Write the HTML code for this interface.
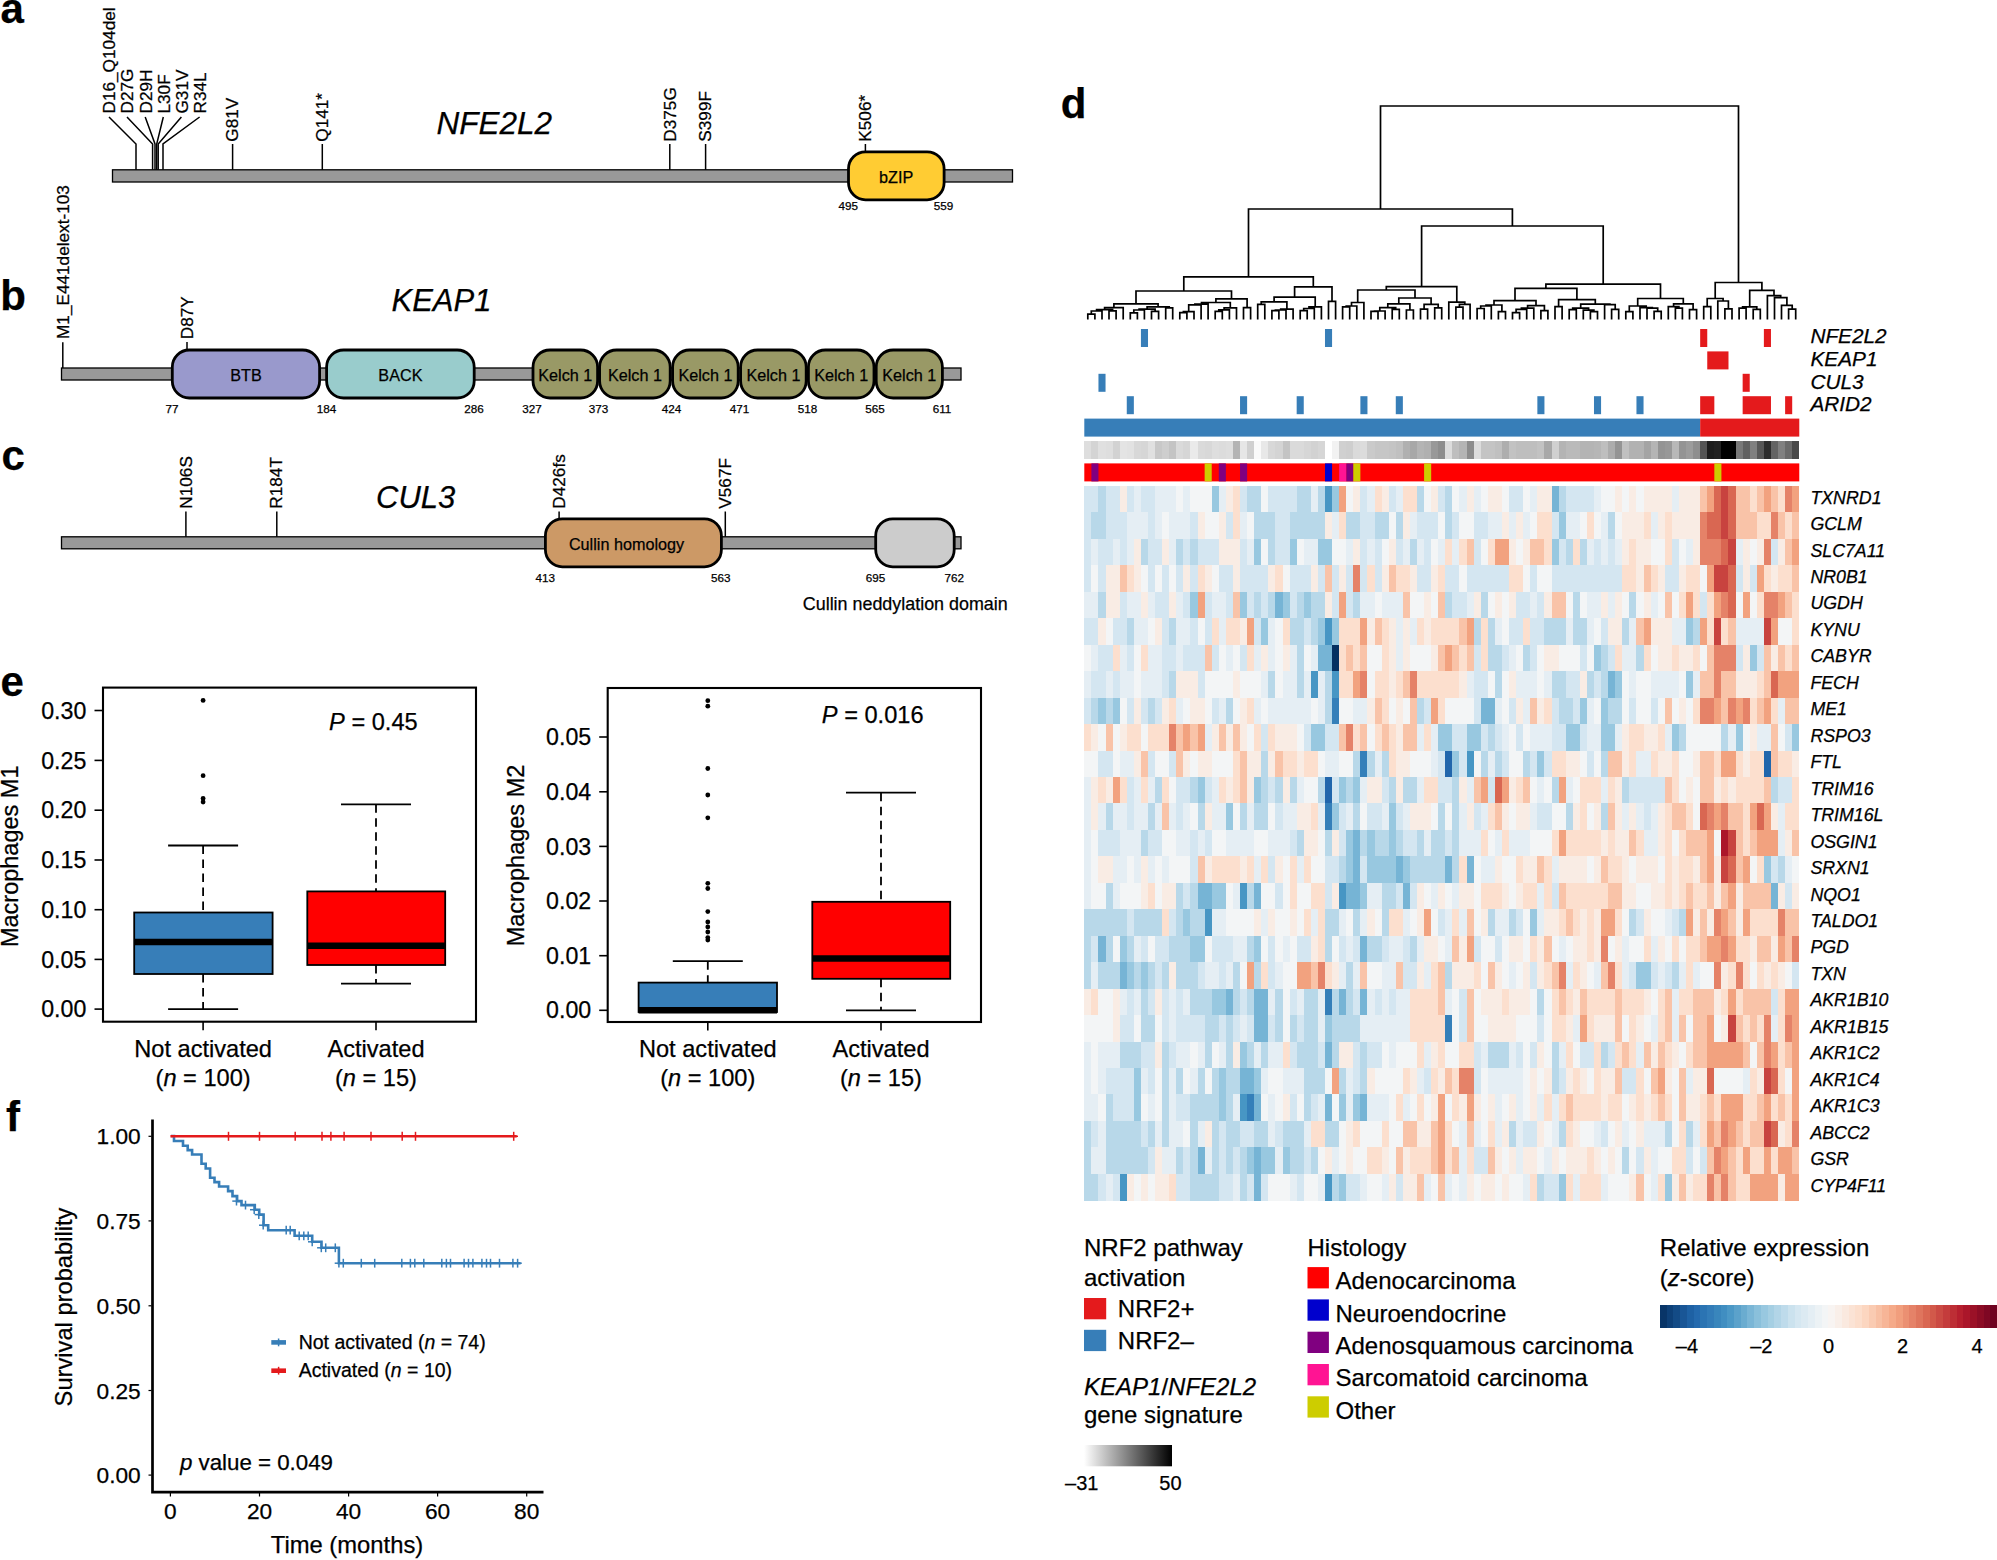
<!DOCTYPE html>
<html><head><meta charset="utf-8"><title>Figure</title>
<style>html,body{margin:0;padding:0;background:#fff}svg{display:block}text{font-family:"Liberation Sans",Arial,Helvetica,sans-serif;stroke:#000;stroke-width:.25px}</style>
</head><body>
<svg width="1997" height="1560" viewBox="0 0 1997 1560">
<rect width="1997" height="1560" fill="#fff"/>
<text x="0.5" y="22.8" font-size="42" font-weight="bold">a</text>
<text x="0.3" y="310.3" font-size="42" font-weight="bold">b</text>
<text x="1.5" y="470.4" font-size="42" font-weight="bold">c</text>
<rect x="112.50" y="169.80" width="900.00" height="12.20" fill="#999" stroke="#000" stroke-width="1.3" />
<polyline points="109.0,117 136.0,144 136.0,169.8" fill="none" stroke="#000" stroke-width="1.5"/>
<text transform="translate(115.3,113.5) rotate(-90)" font-size="17.2">D16_Q104del</text>
<polyline points="127.0,117 152.6,144 152.6,169.8" fill="none" stroke="#000" stroke-width="1.5"/>
<text transform="translate(133.3,113.5) rotate(-90)" font-size="17.2">D27G</text>
<polyline points="145.2,117 155.0,144 155.0,169.8" fill="none" stroke="#000" stroke-width="1.5"/>
<text transform="translate(151.5,113.5) rotate(-90)" font-size="17.2">D29H</text>
<polyline points="163.3,117 156.7,144 156.7,169.8" fill="none" stroke="#000" stroke-width="1.5"/>
<text transform="translate(169.6,113.5) rotate(-90)" font-size="17.2">L30F</text>
<polyline points="181.4,117 158.2,144 158.2,169.8" fill="none" stroke="#000" stroke-width="1.5"/>
<text transform="translate(187.7,113.5) rotate(-90)" font-size="17.2">G31V</text>
<polyline points="199.6,117 163.0,144 163.0,169.8" fill="none" stroke="#000" stroke-width="1.5"/>
<text transform="translate(205.9,113.5) rotate(-90)" font-size="17.2">R34L</text>
<line x1="232.6" y1="144.0" x2="232.6" y2="169.8" stroke="#000" stroke-width="1.5" />
<text transform="translate(238.4,141.7) rotate(-90)" font-size="17.2">G81V</text>
<line x1="322.3" y1="144.0" x2="322.3" y2="169.8" stroke="#000" stroke-width="1.5" />
<text transform="translate(328.1,141.7) rotate(-90)" font-size="17.2">Q141*</text>
<line x1="669.8" y1="144.0" x2="669.8" y2="169.8" stroke="#000" stroke-width="1.5" />
<text transform="translate(675.6,141.7) rotate(-90)" font-size="17.2">D375G</text>
<line x1="705.6" y1="144.0" x2="705.6" y2="169.8" stroke="#000" stroke-width="1.5" />
<text transform="translate(711.4,141.7) rotate(-90)" font-size="17.2">S399F</text>
<line x1="865.4" y1="144.0" x2="865.4" y2="152.0" stroke="#000" stroke-width="1.5" />
<text transform="translate(871.2,141.7) rotate(-90)" font-size="17.2">K506*</text>
<rect x="848.50" y="151.80" width="95.60" height="48.00" fill="#FFCC33" stroke="#000" stroke-width="2.8" rx="17" />
<text x="896.2" y="183.0" font-size="16.2" text-anchor="middle">bZIP</text>
<text x="848.3" y="210.3" font-size="11.7" text-anchor="middle">495</text>
<text x="943.5" y="210.3" font-size="11.7" text-anchor="middle">559</text>
<text x="436.4" y="134.0" font-size="31.5" font-style="italic">NFE2L2</text>
<rect x="61.50" y="368.00" width="899.50" height="12.00" fill="#999" stroke="#000" stroke-width="1.3" />
<line x1="62.8" y1="342.3" x2="62.8" y2="368.0" stroke="#000" stroke-width="1.5" />
<text transform="translate(68.7,339.0) rotate(-90)" font-size="17.2">M1_E441delext-103</text>
<line x1="187.0" y1="342.0" x2="187.0" y2="350.0" stroke="#000" stroke-width="1.5" />
<text transform="translate(192.6,339.2) rotate(-90)" font-size="17.2">D87Y</text>
<rect x="172.30" y="350.00" width="147.30" height="48.00" fill="#9999CC" stroke="#000" stroke-width="2.8" rx="17" />
<text x="246.0" y="381.2" font-size="16.2" text-anchor="middle">BTB</text>
<rect x="326.60" y="350.00" width="147.60" height="48.00" fill="#99CCCC" stroke="#000" stroke-width="2.8" rx="17" />
<text x="400.4" y="381.2" font-size="16.2" text-anchor="middle">BACK</text>
<rect x="533.00" y="350.00" width="64.60" height="48.00" fill="#999966" stroke="#000" stroke-width="2.8" rx="17" />
<text x="565.3" y="381.2" font-size="16.2" text-anchor="middle">Kelch 1</text>
<rect x="599.60" y="350.00" width="70.60" height="48.00" fill="#999966" stroke="#000" stroke-width="2.8" rx="17" />
<text x="634.9" y="381.2" font-size="16.2" text-anchor="middle">Kelch 1</text>
<rect x="672.60" y="350.00" width="65.60" height="48.00" fill="#999966" stroke="#000" stroke-width="2.8" rx="17" />
<text x="705.4" y="381.2" font-size="16.2" text-anchor="middle">Kelch 1</text>
<rect x="740.60" y="350.00" width="65.60" height="48.00" fill="#999966" stroke="#000" stroke-width="2.8" rx="17" />
<text x="773.4" y="381.2" font-size="16.2" text-anchor="middle">Kelch 1</text>
<rect x="808.40" y="350.00" width="65.60" height="48.00" fill="#999966" stroke="#000" stroke-width="2.8" rx="17" />
<text x="841.2" y="381.2" font-size="16.2" text-anchor="middle">Kelch 1</text>
<rect x="876.20" y="350.00" width="66.20" height="48.00" fill="#999966" stroke="#000" stroke-width="2.8" rx="17" />
<text x="909.3" y="381.2" font-size="16.2" text-anchor="middle">Kelch 1</text>
<text x="172.0" y="412.5" font-size="11.7" text-anchor="middle">77</text>
<text x="326.5" y="412.5" font-size="11.7" text-anchor="middle">184</text>
<text x="474.0" y="412.5" font-size="11.7" text-anchor="middle">286</text>
<text x="532.0" y="412.5" font-size="11.7" text-anchor="middle">327</text>
<text x="598.5" y="412.5" font-size="11.7" text-anchor="middle">373</text>
<text x="671.5" y="412.5" font-size="11.7" text-anchor="middle">424</text>
<text x="739.5" y="412.5" font-size="11.7" text-anchor="middle">471</text>
<text x="807.5" y="412.5" font-size="11.7" text-anchor="middle">518</text>
<text x="875.0" y="412.5" font-size="11.7" text-anchor="middle">565</text>
<text x="942.0" y="412.5" font-size="11.7" text-anchor="middle">611</text>
<text x="391.5" y="311.0" font-size="31" font-style="italic">KEAP1</text>
<rect x="61.50" y="536.80" width="899.50" height="12.00" fill="#999" stroke="#000" stroke-width="1.3" />
<line x1="185.9" y1="511.5" x2="185.9" y2="536.8" stroke="#000" stroke-width="1.5" />
<text transform="translate(191.5,508.7) rotate(-90)" font-size="17.2">N106S</text>
<line x1="276.8" y1="511.5" x2="276.8" y2="536.8" stroke="#000" stroke-width="1.5" />
<text transform="translate(282.4,508.7) rotate(-90)" font-size="17.2">R184T</text>
<line x1="559.1" y1="511.5" x2="559.1" y2="519.0" stroke="#000" stroke-width="1.5" />
<text transform="translate(565.0,508.7) rotate(-90)" font-size="17.2">D426fs</text>
<line x1="725.3" y1="511.5" x2="725.3" y2="536.8" stroke="#000" stroke-width="1.5" />
<text transform="translate(730.7,508.7) rotate(-90)" font-size="17.2">V567F</text>
<rect x="545.40" y="518.80" width="176.00" height="48.00" fill="#CC9966" stroke="#000" stroke-width="2.8" rx="17" />
<text x="626.5" y="550.2" font-size="16.2" text-anchor="middle">Cullin homology</text>
<rect x="875.70" y="518.80" width="78.50" height="48.00" fill="#CCCCCC" stroke="#000" stroke-width="2.8" rx="17" />
<text x="545.2" y="581.7" font-size="11.7" text-anchor="middle">413</text>
<text x="720.8" y="581.7" font-size="11.7" text-anchor="middle">563</text>
<text x="875.4" y="581.7" font-size="11.7" text-anchor="middle">695</text>
<text x="954.3" y="581.7" font-size="11.7" text-anchor="middle">762</text>
<text x="802.8" y="610.0" font-size="17.9">Cullin neddylation domain</text>
<text x="376.0" y="508.0" font-size="31" font-style="italic">CUL3</text>
<text x="0.5" y="696.0" font-size="42" font-weight="bold">e</text>
<rect x="103.00" y="687.60" width="373.00" height="334.10" fill="none" stroke="#000" stroke-width="2.1" />
<line x1="94.5" y1="710.5" x2="103.0" y2="710.5" stroke="#000" stroke-width="1.6" />
<text x="86.3" y="718.6" font-size="23.2" text-anchor="end">0.30</text>
<line x1="94.5" y1="760.4" x2="103.0" y2="760.4" stroke="#000" stroke-width="1.6" />
<text x="86.3" y="768.5" font-size="23.2" text-anchor="end">0.25</text>
<line x1="94.5" y1="810.2" x2="103.0" y2="810.2" stroke="#000" stroke-width="1.6" />
<text x="86.3" y="818.3" font-size="23.2" text-anchor="end">0.20</text>
<line x1="94.5" y1="860.0" x2="103.0" y2="860.0" stroke="#000" stroke-width="1.6" />
<text x="86.3" y="868.1" font-size="23.2" text-anchor="end">0.15</text>
<line x1="94.5" y1="909.7" x2="103.0" y2="909.7" stroke="#000" stroke-width="1.6" />
<text x="86.3" y="917.8" font-size="23.2" text-anchor="end">0.10</text>
<line x1="94.5" y1="959.4" x2="103.0" y2="959.4" stroke="#000" stroke-width="1.6" />
<text x="86.3" y="967.5" font-size="23.2" text-anchor="end">0.05</text>
<line x1="94.5" y1="1009.1" x2="103.0" y2="1009.1" stroke="#000" stroke-width="1.6" />
<text x="86.3" y="1017.2" font-size="23.2" text-anchor="end">0.00</text>
<text transform="translate(17.9,856.3) rotate(-90)" font-size="23.5" text-anchor="middle">Macrophages M1</text>
<line x1="203.1" y1="1021.7" x2="203.1" y2="1030.2" stroke="#000" stroke-width="1.6" />
<line x1="376.0" y1="1021.7" x2="376.0" y2="1030.2" stroke="#000" stroke-width="1.6" />
<text x="203.1" y="1056.7" font-size="23.6" text-anchor="middle">Not activated</text>
<text x="203.1" y="1085.6" font-size="23.6" text-anchor="middle">(<tspan font-style="italic">n</tspan> = 100)</text>
<text x="376.0" y="1056.7" font-size="23.6" text-anchor="middle">Activated</text>
<text x="376.0" y="1085.6" font-size="23.6" text-anchor="middle">(<tspan font-style="italic">n</tspan> = 15)</text>
<line x1="203.1" y1="845.5" x2="203.1" y2="912.5" stroke="#000" stroke-width="1.8" stroke-dasharray="8.5,5.5"/>
<line x1="203.1" y1="974.0" x2="203.1" y2="1009.1" stroke="#000" stroke-width="1.8" stroke-dasharray="8.5,5.5"/>
<line x1="168.1" y1="845.5" x2="238.1" y2="845.5" stroke="#000" stroke-width="1.8" />
<line x1="168.1" y1="1009.1" x2="238.1" y2="1009.1" stroke="#000" stroke-width="1.8" />
<rect x="134.20" y="912.50" width="138.40" height="61.50" fill="#377EB8" stroke="#000" stroke-width="1.8" />
<line x1="134.2" y1="941.9" x2="272.6" y2="941.9" stroke="#000" stroke-width="6.5" />
<line x1="376.0" y1="804.3" x2="376.0" y2="891.4" stroke="#000" stroke-width="1.8" stroke-dasharray="8.5,5.5"/>
<line x1="376.0" y1="965.0" x2="376.0" y2="983.7" stroke="#000" stroke-width="1.8" stroke-dasharray="8.5,5.5"/>
<line x1="341.0" y1="804.3" x2="411.0" y2="804.3" stroke="#000" stroke-width="1.8" />
<line x1="341.0" y1="983.7" x2="411.0" y2="983.7" stroke="#000" stroke-width="1.8" />
<rect x="307.30" y="891.40" width="137.90" height="73.60" fill="#FF0000" stroke="#000" stroke-width="1.8" />
<line x1="307.3" y1="945.8" x2="445.2" y2="945.8" stroke="#000" stroke-width="6.5" />
<circle cx="203.1" cy="700.4" r="2.4" fill="#000"/>
<circle cx="203.1" cy="775.7" r="2.4" fill="#000"/>
<circle cx="203.1" cy="798.5" r="2.4" fill="#000"/>
<circle cx="203.1" cy="802.0" r="2.4" fill="#000"/>
<text x="373.4" y="729.5" font-size="23.6" text-anchor="middle"><tspan font-style="italic">P</tspan> = 0.45</text>
<rect x="607.70" y="688.00" width="373.30" height="334.00" fill="none" stroke="#000" stroke-width="2.1" />
<line x1="599.2" y1="737.0" x2="607.7" y2="737.0" stroke="#000" stroke-width="1.6" />
<text x="591.2" y="745.1" font-size="23.2" text-anchor="end">0.05</text>
<line x1="599.2" y1="791.8" x2="607.7" y2="791.8" stroke="#000" stroke-width="1.6" />
<text x="591.2" y="799.9" font-size="23.2" text-anchor="end">0.04</text>
<line x1="599.2" y1="846.4" x2="607.7" y2="846.4" stroke="#000" stroke-width="1.6" />
<text x="591.2" y="854.5" font-size="23.2" text-anchor="end">0.03</text>
<line x1="599.2" y1="901.0" x2="607.7" y2="901.0" stroke="#000" stroke-width="1.6" />
<text x="591.2" y="909.1" font-size="23.2" text-anchor="end">0.02</text>
<line x1="599.2" y1="955.7" x2="607.7" y2="955.7" stroke="#000" stroke-width="1.6" />
<text x="591.2" y="963.8" font-size="23.2" text-anchor="end">0.01</text>
<line x1="599.2" y1="1010.3" x2="607.7" y2="1010.3" stroke="#000" stroke-width="1.6" />
<text x="591.2" y="1018.4" font-size="23.2" text-anchor="end">0.00</text>
<text transform="translate(524.0,855.5) rotate(-90)" font-size="23.5" text-anchor="middle">Macrophages M2</text>
<line x1="707.8" y1="1022.0" x2="707.8" y2="1030.5" stroke="#000" stroke-width="1.6" />
<line x1="881.0" y1="1022.0" x2="881.0" y2="1030.5" stroke="#000" stroke-width="1.6" />
<text x="707.8" y="1056.7" font-size="23.6" text-anchor="middle">Not activated</text>
<text x="707.8" y="1085.6" font-size="23.6" text-anchor="middle">(<tspan font-style="italic">n</tspan> = 100)</text>
<text x="881.0" y="1056.7" font-size="23.6" text-anchor="middle">Activated</text>
<text x="881.0" y="1085.6" font-size="23.6" text-anchor="middle">(<tspan font-style="italic">n</tspan> = 15)</text>
<line x1="707.8" y1="961.2" x2="707.8" y2="982.6" stroke="#000" stroke-width="1.8" stroke-dasharray="8.5,5.5"/>
<line x1="707.8" y1="1012.0" x2="707.8" y2="1010.3" stroke="#000" stroke-width="1.8" stroke-dasharray="8.5,5.5"/>
<line x1="672.8" y1="961.2" x2="742.8" y2="961.2" stroke="#000" stroke-width="1.8" />
<line x1="672.8" y1="1010.3" x2="742.8" y2="1010.3" stroke="#000" stroke-width="1.8" />
<rect x="638.60" y="982.60" width="138.40" height="29.40" fill="#377EB8" stroke="#000" stroke-width="1.8" />
<line x1="638.6" y1="1010.2" x2="777.0" y2="1010.2" stroke="#000" stroke-width="6.5" />
<line x1="881.0" y1="792.7" x2="881.0" y2="901.8" stroke="#000" stroke-width="1.8" stroke-dasharray="8.5,5.5"/>
<line x1="881.0" y1="978.8" x2="881.0" y2="1010.3" stroke="#000" stroke-width="1.8" stroke-dasharray="8.5,5.5"/>
<line x1="846.0" y1="792.7" x2="916.0" y2="792.7" stroke="#000" stroke-width="1.8" />
<line x1="846.0" y1="1010.3" x2="916.0" y2="1010.3" stroke="#000" stroke-width="1.8" />
<rect x="812.30" y="901.80" width="137.90" height="77.00" fill="#FF0000" stroke="#000" stroke-width="1.8" />
<line x1="812.3" y1="958.6" x2="950.2" y2="958.6" stroke="#000" stroke-width="6.5" />
<circle cx="707.8" cy="700.7" r="2.4" fill="#000"/>
<circle cx="707.8" cy="706.2" r="2.4" fill="#000"/>
<circle cx="707.8" cy="768.5" r="2.4" fill="#000"/>
<circle cx="707.8" cy="795.0" r="2.4" fill="#000"/>
<circle cx="707.8" cy="817.8" r="2.4" fill="#000"/>
<circle cx="707.8" cy="883.3" r="2.4" fill="#000"/>
<circle cx="707.8" cy="888.5" r="2.4" fill="#000"/>
<circle cx="707.8" cy="911.6" r="2.4" fill="#000"/>
<circle cx="707.8" cy="922.0" r="2.4" fill="#000"/>
<circle cx="707.8" cy="926.9" r="2.4" fill="#000"/>
<circle cx="707.8" cy="932.0" r="2.4" fill="#000"/>
<circle cx="707.8" cy="937.6" r="2.4" fill="#000"/>
<circle cx="707.8" cy="940.1" r="2.4" fill="#000"/>
<text x="872.7" y="722.9" font-size="23.6" text-anchor="middle"><tspan font-style="italic">P</tspan> = 0.016</text>
<text x="6.0" y="1131.0" font-size="42" font-weight="bold">f</text>
<polyline points="152.5,1119.5 152.5,1492.2 543.5,1492.2" fill="none" stroke="#000" stroke-width="2.7"/>
<line x1="148.5" y1="1136.3" x2="151.5" y2="1136.3" stroke="#000" stroke-width="1.2" />
<text x="140.7" y="1144.3" font-size="22.7" text-anchor="end">1.00</text>
<line x1="148.5" y1="1220.9" x2="151.5" y2="1220.9" stroke="#000" stroke-width="1.2" />
<text x="140.7" y="1228.9" font-size="22.7" text-anchor="end">0.75</text>
<line x1="148.5" y1="1305.8" x2="151.5" y2="1305.8" stroke="#000" stroke-width="1.2" />
<text x="140.7" y="1313.8" font-size="22.7" text-anchor="end">0.50</text>
<line x1="148.5" y1="1390.5" x2="151.5" y2="1390.5" stroke="#000" stroke-width="1.2" />
<text x="140.7" y="1398.5" font-size="22.7" text-anchor="end">0.25</text>
<line x1="148.5" y1="1475.1" x2="151.5" y2="1475.1" stroke="#000" stroke-width="1.2" />
<text x="140.7" y="1483.1" font-size="22.7" text-anchor="end">0.00</text>
<line x1="170.4" y1="1493.0" x2="170.4" y2="1496.5" stroke="#000" stroke-width="1.2" />
<text x="170.4" y="1519.3" font-size="22.7" text-anchor="middle">0</text>
<line x1="259.5" y1="1493.0" x2="259.5" y2="1496.5" stroke="#000" stroke-width="1.2" />
<text x="259.5" y="1519.3" font-size="22.7" text-anchor="middle">20</text>
<line x1="348.6" y1="1493.0" x2="348.6" y2="1496.5" stroke="#000" stroke-width="1.2" />
<text x="348.6" y="1519.3" font-size="22.7" text-anchor="middle">40</text>
<line x1="437.6" y1="1493.0" x2="437.6" y2="1496.5" stroke="#000" stroke-width="1.2" />
<text x="437.6" y="1519.3" font-size="22.7" text-anchor="middle">60</text>
<line x1="526.7" y1="1493.0" x2="526.7" y2="1496.5" stroke="#000" stroke-width="1.2" />
<text x="526.7" y="1519.3" font-size="22.7" text-anchor="middle">80</text>
<text x="347.0" y="1552.7" font-size="23.8" text-anchor="middle">Time (months)</text>
<text transform="translate(72.2,1307.0) rotate(-90)" font-size="23.7" text-anchor="middle">Survival probability</text>
<polyline points="171.0,1136.0 174.0,1136.0 174.0,1141.0 183.0,1141.0 183.0,1145.7 187.7,1145.7 187.7,1150.1 192.1,1150.1 192.1,1154.5 201.5,1154.5 201.5,1163.7 205.7,1163.7 205.7,1168.5 210.1,1168.5 210.1,1177.7 214.5,1177.7 214.5,1182.1 219.1,1182.1 219.1,1186.5 228.1,1186.5 228.1,1191.1 232.5,1191.1 232.5,1196.1 237.1,1196.1 237.1,1201.1 241.5,1201.1 241.5,1205.1 254.8,1205.1 254.8,1209.7 259.2,1209.7 259.2,1214.6 263.6,1214.6 263.6,1225.2 268.2,1225.2 268.2,1230.2 294.6,1230.2 294.6,1235.8 312.2,1235.8 312.2,1241.8 321.5,1241.8 321.5,1247.8 338.9,1247.8 338.9,1263.2 520.6,1263.2" fill="none" stroke="#377EB8" stroke-width="2.6"/>
<line x1="232.3" y1="1201.1" x2="240.7" y2="1201.1" stroke="#377EB8" stroke-width="1.5" />
<line x1="236.5" y1="1196.7" x2="236.5" y2="1205.5" stroke="#377EB8" stroke-width="1.5" />
<line x1="241.3" y1="1205.1" x2="249.7" y2="1205.1" stroke="#377EB8" stroke-width="1.5" />
<line x1="245.5" y1="1200.7" x2="245.5" y2="1209.5" stroke="#377EB8" stroke-width="1.5" />
<line x1="250.0" y1="1209.7" x2="258.4" y2="1209.7" stroke="#377EB8" stroke-width="1.5" />
<line x1="254.2" y1="1205.3" x2="254.2" y2="1214.1" stroke="#377EB8" stroke-width="1.5" />
<line x1="254.6" y1="1214.6" x2="263.0" y2="1214.6" stroke="#377EB8" stroke-width="1.5" />
<line x1="258.8" y1="1210.2" x2="258.8" y2="1219.0" stroke="#377EB8" stroke-width="1.5" />
<line x1="259.0" y1="1225.2" x2="267.4" y2="1225.2" stroke="#377EB8" stroke-width="1.5" />
<line x1="263.2" y1="1220.8" x2="263.2" y2="1229.6" stroke="#377EB8" stroke-width="1.5" />
<line x1="282.0" y1="1230.2" x2="290.4" y2="1230.2" stroke="#377EB8" stroke-width="1.5" />
<line x1="286.2" y1="1225.8" x2="286.2" y2="1234.6" stroke="#377EB8" stroke-width="1.5" />
<line x1="286.0" y1="1230.2" x2="294.4" y2="1230.2" stroke="#377EB8" stroke-width="1.5" />
<line x1="290.2" y1="1225.8" x2="290.2" y2="1234.6" stroke="#377EB8" stroke-width="1.5" />
<line x1="295.0" y1="1235.8" x2="303.4" y2="1235.8" stroke="#377EB8" stroke-width="1.5" />
<line x1="299.2" y1="1231.4" x2="299.2" y2="1240.2" stroke="#377EB8" stroke-width="1.5" />
<line x1="299.6" y1="1235.8" x2="308.0" y2="1235.8" stroke="#377EB8" stroke-width="1.5" />
<line x1="303.8" y1="1231.4" x2="303.8" y2="1240.2" stroke="#377EB8" stroke-width="1.5" />
<line x1="304.0" y1="1235.8" x2="312.4" y2="1235.8" stroke="#377EB8" stroke-width="1.5" />
<line x1="308.2" y1="1231.4" x2="308.2" y2="1240.2" stroke="#377EB8" stroke-width="1.5" />
<line x1="308.0" y1="1241.8" x2="316.4" y2="1241.8" stroke="#377EB8" stroke-width="1.5" />
<line x1="312.2" y1="1237.4" x2="312.2" y2="1246.2" stroke="#377EB8" stroke-width="1.5" />
<line x1="317.1" y1="1247.8" x2="325.5" y2="1247.8" stroke="#377EB8" stroke-width="1.5" />
<line x1="321.3" y1="1243.4" x2="321.3" y2="1252.2" stroke="#377EB8" stroke-width="1.5" />
<line x1="321.5" y1="1247.8" x2="329.9" y2="1247.8" stroke="#377EB8" stroke-width="1.5" />
<line x1="325.7" y1="1243.4" x2="325.7" y2="1252.2" stroke="#377EB8" stroke-width="1.5" />
<line x1="331.1" y1="1247.8" x2="339.5" y2="1247.8" stroke="#377EB8" stroke-width="1.5" />
<line x1="335.3" y1="1243.4" x2="335.3" y2="1252.2" stroke="#377EB8" stroke-width="1.5" />
<line x1="334.7" y1="1263.2" x2="343.1" y2="1263.2" stroke="#377EB8" stroke-width="1.5" />
<line x1="338.9" y1="1258.8" x2="338.9" y2="1267.6" stroke="#377EB8" stroke-width="1.5" />
<line x1="339.1" y1="1263.2" x2="347.5" y2="1263.2" stroke="#377EB8" stroke-width="1.5" />
<line x1="343.3" y1="1258.8" x2="343.3" y2="1267.6" stroke="#377EB8" stroke-width="1.5" />
<line x1="357.1" y1="1263.2" x2="365.5" y2="1263.2" stroke="#377EB8" stroke-width="1.5" />
<line x1="361.3" y1="1258.8" x2="361.3" y2="1267.6" stroke="#377EB8" stroke-width="1.5" />
<line x1="370.5" y1="1263.2" x2="378.9" y2="1263.2" stroke="#377EB8" stroke-width="1.5" />
<line x1="374.7" y1="1258.8" x2="374.7" y2="1267.6" stroke="#377EB8" stroke-width="1.5" />
<line x1="397.6" y1="1263.2" x2="406.0" y2="1263.2" stroke="#377EB8" stroke-width="1.5" />
<line x1="401.8" y1="1258.8" x2="401.8" y2="1267.6" stroke="#377EB8" stroke-width="1.5" />
<line x1="406.2" y1="1263.2" x2="414.6" y2="1263.2" stroke="#377EB8" stroke-width="1.5" />
<line x1="410.4" y1="1258.8" x2="410.4" y2="1267.6" stroke="#377EB8" stroke-width="1.5" />
<line x1="410.6" y1="1263.2" x2="419.0" y2="1263.2" stroke="#377EB8" stroke-width="1.5" />
<line x1="414.8" y1="1258.8" x2="414.8" y2="1267.6" stroke="#377EB8" stroke-width="1.5" />
<line x1="419.6" y1="1263.2" x2="428.0" y2="1263.2" stroke="#377EB8" stroke-width="1.5" />
<line x1="423.8" y1="1258.8" x2="423.8" y2="1267.6" stroke="#377EB8" stroke-width="1.5" />
<line x1="437.6" y1="1263.2" x2="446.0" y2="1263.2" stroke="#377EB8" stroke-width="1.5" />
<line x1="441.8" y1="1258.8" x2="441.8" y2="1267.6" stroke="#377EB8" stroke-width="1.5" />
<line x1="442.2" y1="1263.2" x2="450.6" y2="1263.2" stroke="#377EB8" stroke-width="1.5" />
<line x1="446.4" y1="1258.8" x2="446.4" y2="1267.6" stroke="#377EB8" stroke-width="1.5" />
<line x1="446.3" y1="1263.2" x2="454.7" y2="1263.2" stroke="#377EB8" stroke-width="1.5" />
<line x1="450.5" y1="1258.8" x2="450.5" y2="1267.6" stroke="#377EB8" stroke-width="1.5" />
<line x1="459.9" y1="1263.2" x2="468.3" y2="1263.2" stroke="#377EB8" stroke-width="1.5" />
<line x1="464.1" y1="1258.8" x2="464.1" y2="1267.6" stroke="#377EB8" stroke-width="1.5" />
<line x1="464.3" y1="1263.2" x2="472.7" y2="1263.2" stroke="#377EB8" stroke-width="1.5" />
<line x1="468.5" y1="1258.8" x2="468.5" y2="1267.6" stroke="#377EB8" stroke-width="1.5" />
<line x1="468.7" y1="1263.2" x2="477.1" y2="1263.2" stroke="#377EB8" stroke-width="1.5" />
<line x1="472.9" y1="1258.8" x2="472.9" y2="1267.6" stroke="#377EB8" stroke-width="1.5" />
<line x1="477.7" y1="1263.2" x2="486.1" y2="1263.2" stroke="#377EB8" stroke-width="1.5" />
<line x1="481.9" y1="1258.8" x2="481.9" y2="1267.6" stroke="#377EB8" stroke-width="1.5" />
<line x1="482.3" y1="1263.2" x2="490.7" y2="1263.2" stroke="#377EB8" stroke-width="1.5" />
<line x1="486.5" y1="1258.8" x2="486.5" y2="1267.6" stroke="#377EB8" stroke-width="1.5" />
<line x1="486.3" y1="1263.2" x2="494.7" y2="1263.2" stroke="#377EB8" stroke-width="1.5" />
<line x1="490.5" y1="1258.8" x2="490.5" y2="1267.6" stroke="#377EB8" stroke-width="1.5" />
<line x1="495.3" y1="1263.2" x2="503.7" y2="1263.2" stroke="#377EB8" stroke-width="1.5" />
<line x1="499.5" y1="1258.8" x2="499.5" y2="1267.6" stroke="#377EB8" stroke-width="1.5" />
<line x1="508.7" y1="1263.2" x2="517.1" y2="1263.2" stroke="#377EB8" stroke-width="1.5" />
<line x1="512.9" y1="1258.8" x2="512.9" y2="1267.6" stroke="#377EB8" stroke-width="1.5" />
<line x1="513.4" y1="1263.2" x2="521.8" y2="1263.2" stroke="#377EB8" stroke-width="1.5" />
<line x1="517.6" y1="1258.8" x2="517.6" y2="1267.6" stroke="#377EB8" stroke-width="1.5" />
<line x1="170.4" y1="1136.3" x2="516.7" y2="1136.3" stroke="#E41A1C" stroke-width="2.6" />
<line x1="228.5" y1="1131.8" x2="228.5" y2="1140.8" stroke="#E41A1C" stroke-width="1.5" />
<line x1="259.5" y1="1131.8" x2="259.5" y2="1140.8" stroke="#E41A1C" stroke-width="1.5" />
<line x1="295.2" y1="1131.8" x2="295.2" y2="1140.8" stroke="#E41A1C" stroke-width="1.5" />
<line x1="322.0" y1="1131.8" x2="322.0" y2="1140.8" stroke="#E41A1C" stroke-width="1.5" />
<line x1="330.9" y1="1131.8" x2="330.9" y2="1140.8" stroke="#E41A1C" stroke-width="1.5" />
<line x1="344.1" y1="1131.8" x2="344.1" y2="1140.8" stroke="#E41A1C" stroke-width="1.5" />
<line x1="371.0" y1="1131.8" x2="371.0" y2="1140.8" stroke="#E41A1C" stroke-width="1.5" />
<line x1="402.2" y1="1131.8" x2="402.2" y2="1140.8" stroke="#E41A1C" stroke-width="1.5" />
<line x1="415.5" y1="1131.8" x2="415.5" y2="1140.8" stroke="#E41A1C" stroke-width="1.5" />
<line x1="513.7" y1="1131.8" x2="513.7" y2="1140.8" stroke="#E41A1C" stroke-width="1.5" />
<line x1="510.0" y1="1136.3" x2="518.0" y2="1136.3" stroke="#E41A1C" stroke-width="1.5" />
<line x1="271.3" y1="1342.4" x2="286.0" y2="1342.4" stroke="#377EB8" stroke-width="4.6" />
<line x1="278.6" y1="1338.5" x2="278.6" y2="1346.3" stroke="#377EB8" stroke-width="1.5" />
<text x="298.7" y="1348.8" font-size="19.5">Not activated (<tspan font-style="italic">n</tspan> = 74)</text>
<line x1="271.3" y1="1370.7" x2="286.0" y2="1370.7" stroke="#E41A1C" stroke-width="4.6" />
<line x1="278.6" y1="1366.8" x2="278.6" y2="1374.6" stroke="#E41A1C" stroke-width="1.5" />
<text x="298.7" y="1377.3" font-size="19.5">Activated (<tspan font-style="italic">n</tspan> = 10)</text>
<text x="179.9" y="1470.1" font-size="22.3"><tspan font-style="italic">p</tspan> value = 0.049</text>
<text x="1060.8" y="118.1" font-size="42" font-weight="bold">d</text>
<path d="M1087.8,319.6V314.1H1094.9V319.6M1091.3,314.1V311.0H1102.0V319.6M1109.0,319.6V310.8H1116.1V319.6M1096.6,311.0V309.7H1112.6V310.8M1104.6,309.7V307.6H1123.2V319.6M1130.3,319.6V312.9H1137.4V319.6M1133.8,312.9V310.0H1144.4V319.6M1151.5,319.6V311.3H1158.6V319.6M1139.1,310.0V309.1H1155.1V311.3M1165.7,319.6V307.9H1172.7V319.6M1147.1,309.1V306.9H1169.2V307.9M1113.9,307.6V303.8H1158.1V306.9M1179.8,319.6V312.6H1186.9V319.6M1183.4,312.6V311.6H1194.0V319.6M1188.7,311.6V304.9H1201.1V319.6M1194.9,304.9V304.1H1208.1V319.6M1215.2,319.6V311.3H1222.3V319.6M1218.8,311.3V309.8H1229.4V319.6M1224.1,309.8V307.9H1236.5V319.6M1201.5,304.1V302.5H1230.3V307.9M1243.5,319.6V307.6H1250.6V319.6M1215.9,302.5V298.8H1247.1V307.6M1136.0,303.8V291.0H1231.5V298.8M1257.7,319.6V304.4H1264.8V319.6M1271.9,319.6V310.7H1278.9V319.6M1275.4,310.7V310.0H1286.0V319.6M1280.7,310.0V309.1H1293.1V319.6M1261.2,304.4V301.9H1286.9V309.1M1300.2,319.6V310.7H1307.2V319.6M1303.7,310.7V308.5H1314.3V319.6M1309.0,308.5V306.9H1321.4V319.6M1274.1,301.9V297.2H1315.2V306.9M1328.5,319.6V301.3H1335.6V319.6M1294.6,297.2V286.9H1332.0V301.3M1183.8,291.0V276.9H1313.3V286.9M1342.6,319.6V306.9H1349.7V319.6M1346.2,306.9V306.0H1356.8V319.6M1351.5,306.0V302.5H1363.9V319.6M1371.0,319.6V311.3H1378.0V319.6M1374.5,311.3V311.0H1385.1V319.6M1392.2,319.6V309.4H1399.3V319.6M1379.8,311.0V307.6H1395.7V309.4M1406.4,319.6V310.0H1413.4V319.6M1387.8,307.6V303.8H1409.9V310.0M1420.5,319.6V309.1H1427.6V319.6M1434.7,319.6V307.9H1441.7V319.6M1424.1,309.1V304.4H1438.2V307.9M1398.8,303.8V298.0H1431.1V304.4M1357.7,302.5V290.0H1415.0V298.0M1455.9,319.6V307.2H1463.0V319.6M1459.4,307.2V304.4H1470.1V319.6M1448.8,319.6V302.2H1464.8V304.4M1386.3,290.0V286.6H1456.8V302.2M1477.1,319.6V308.5H1484.2V319.6M1480.7,308.5V306.0H1491.3V319.6M1498.4,319.6V311.6H1505.5V319.6M1486.0,306.0V305.0H1501.9V311.6M1512.5,319.6V312.6H1519.6V319.6M1516.1,312.6V309.4H1526.7V319.6M1521.4,309.4V308.2H1533.8V319.6M1540.9,319.6V310.7H1547.9V319.6M1527.6,308.2V305.7H1544.4V310.7M1494.0,305.0V300.7H1536.0V305.7M1555.0,319.6V306.6H1562.1V319.6M1569.2,319.6V309.6H1576.3V319.6M1590.4,319.6V311.6H1597.5V319.6M1583.3,319.6V310.1H1593.9V311.6M1572.7,309.6V308.2H1588.6V310.1M1611.6,319.6V309.4H1618.7V319.6M1604.6,319.6V304.7H1615.2V309.4M1580.7,308.2V304.1H1609.9V304.7M1558.6,306.6V299.7H1595.3V304.1M1515.0,300.7V288.3H1576.9V299.7M1625.8,319.6V311.6H1632.9V319.6M1654.1,319.6V311.3H1661.2V319.6M1647.0,319.6V308.2H1657.7V311.3M1640.0,319.6V307.6H1652.3V308.2M1629.3,311.6V306.0H1646.2V307.6M1675.4,319.6V308.2H1682.4V319.6M1668.3,319.6V306.6H1678.9V308.2M1689.5,319.6V309.7H1696.6V319.6M1673.6,306.6V303.8H1693.1V309.7M1637.7,306.0V298.5H1683.3V303.8M1545.9,288.3V284.2H1660.5V298.5M1421.6,286.6V226.0H1603.2V284.2M1248.5,276.9V209.0H1512.4V226.0M1703.7,319.6V306.6H1710.8V319.6M1724.9,319.6V308.8H1732.0V319.6M1717.8,319.6V301.0H1728.4V308.8M1707.2,306.6V298.5H1723.1V301.0M1739.1,319.6V308.2H1746.1V319.6M1753.2,319.6V309.4H1760.3V319.6M1742.6,308.2V306.9H1756.8V309.4M1788.6,319.6V309.1H1795.7V319.6M1781.5,319.6V305.4H1792.2V309.1M1774.5,319.6V297.7H1786.9V305.4M1767.4,319.6V295.7H1780.7V297.7M1749.7,306.9V290.3H1774.0V295.7M1715.2,298.5V282.5H1761.9V290.3M1380.5,209.0V106.0H1738.5V282.5" fill="none" stroke="#000" stroke-width="1.7" stroke-linejoin="miter"/>
<rect x="1140.93" y="329.00" width="7.08" height="18.00" fill="#377EB8" />
<rect x="1324.99" y="329.00" width="7.08" height="18.00" fill="#377EB8" />
<rect x="1700.17" y="329.00" width="7.08" height="18.00" fill="#E41A1C" />
<rect x="1763.88" y="329.00" width="7.08" height="18.00" fill="#E41A1C" />
<rect x="1707.25" y="351.40" width="21.24" height="18.00" fill="#E41A1C" />
<rect x="1098.46" y="373.80" width="7.08" height="18.00" fill="#377EB8" />
<rect x="1742.65" y="373.80" width="7.08" height="18.00" fill="#E41A1C" />
<rect x="1126.77" y="396.20" width="7.08" height="18.00" fill="#377EB8" />
<rect x="1240.04" y="396.20" width="7.08" height="18.00" fill="#377EB8" />
<rect x="1296.67" y="396.20" width="7.08" height="18.00" fill="#377EB8" />
<rect x="1360.38" y="396.20" width="7.08" height="18.00" fill="#377EB8" />
<rect x="1395.78" y="396.20" width="7.08" height="18.00" fill="#377EB8" />
<rect x="1537.36" y="396.20" width="7.08" height="18.00" fill="#377EB8" />
<rect x="1593.99" y="396.20" width="7.08" height="18.00" fill="#377EB8" />
<rect x="1636.46" y="396.20" width="7.08" height="18.00" fill="#377EB8" />
<rect x="1700.17" y="396.20" width="14.16" height="18.00" fill="#E41A1C" />
<rect x="1742.65" y="396.20" width="28.32" height="18.00" fill="#E41A1C" />
<rect x="1785.12" y="396.20" width="7.08" height="18.00" fill="#E41A1C" />
<rect x="1084.30" y="418.60" width="615.87" height="18.00" fill="#377EB8" />
<rect x="1700.17" y="418.60" width="99.11" height="18.00" fill="#E41A1C" />
<rect x="1084.30" y="441.00" width="7.38" height="18.00" fill="#DEDEDE" shape-rendering="crispEdges"/>
<rect x="1091.38" y="441.00" width="7.38" height="18.00" fill="#D4D4D4" shape-rendering="crispEdges"/>
<rect x="1098.46" y="441.00" width="7.38" height="18.00" fill="#E0E0E0" shape-rendering="crispEdges"/>
<rect x="1105.54" y="441.00" width="7.38" height="18.00" fill="#DEDEDE" shape-rendering="crispEdges"/>
<rect x="1112.62" y="441.00" width="7.38" height="18.00" fill="#D2D2D2" shape-rendering="crispEdges"/>
<rect x="1119.69" y="441.00" width="7.38" height="18.00" fill="#E4E4E4" shape-rendering="crispEdges"/>
<rect x="1126.77" y="441.00" width="7.38" height="18.00" fill="#E2E2E2" shape-rendering="crispEdges"/>
<rect x="1133.85" y="441.00" width="7.38" height="18.00" fill="#D8D8D8" shape-rendering="crispEdges"/>
<rect x="1140.93" y="441.00" width="7.38" height="18.00" fill="#D6D6D6" shape-rendering="crispEdges"/>
<rect x="1148.01" y="441.00" width="7.38" height="18.00" fill="#E0E0E0" shape-rendering="crispEdges"/>
<rect x="1155.09" y="441.00" width="7.38" height="18.00" fill="#C8C8C8" shape-rendering="crispEdges"/>
<rect x="1162.17" y="441.00" width="7.38" height="18.00" fill="#CECECE" shape-rendering="crispEdges"/>
<rect x="1169.25" y="441.00" width="7.38" height="18.00" fill="#C4C4C4" shape-rendering="crispEdges"/>
<rect x="1176.33" y="441.00" width="7.38" height="18.00" fill="#DADADA" shape-rendering="crispEdges"/>
<rect x="1183.41" y="441.00" width="7.38" height="18.00" fill="#D6D6D6" shape-rendering="crispEdges"/>
<rect x="1190.48" y="441.00" width="7.38" height="18.00" fill="#EAEAEA" shape-rendering="crispEdges"/>
<rect x="1197.56" y="441.00" width="7.38" height="18.00" fill="#DADADA" shape-rendering="crispEdges"/>
<rect x="1204.64" y="441.00" width="7.38" height="18.00" fill="#D8D8D8" shape-rendering="crispEdges"/>
<rect x="1211.72" y="441.00" width="7.38" height="18.00" fill="#DEDEDE" shape-rendering="crispEdges"/>
<rect x="1218.80" y="441.00" width="7.38" height="18.00" fill="#DCDCDC" shape-rendering="crispEdges"/>
<rect x="1225.88" y="441.00" width="7.38" height="18.00" fill="#DEDEDE" shape-rendering="crispEdges"/>
<rect x="1232.96" y="441.00" width="7.38" height="18.00" fill="#B4B4B4" shape-rendering="crispEdges"/>
<rect x="1240.04" y="441.00" width="7.38" height="18.00" fill="#E6E6E6" shape-rendering="crispEdges"/>
<rect x="1247.12" y="441.00" width="7.38" height="18.00" fill="#D0D0D0" shape-rendering="crispEdges"/>
<rect x="1254.20" y="441.00" width="7.38" height="18.00" fill="#FAFAFA" shape-rendering="crispEdges"/>
<rect x="1261.27" y="441.00" width="7.38" height="18.00" fill="#E8E8E8" shape-rendering="crispEdges"/>
<rect x="1268.35" y="441.00" width="7.38" height="18.00" fill="#D8D8D8" shape-rendering="crispEdges"/>
<rect x="1275.43" y="441.00" width="7.38" height="18.00" fill="#D4D4D4" shape-rendering="crispEdges"/>
<rect x="1282.51" y="441.00" width="7.38" height="18.00" fill="#C4C4C4" shape-rendering="crispEdges"/>
<rect x="1289.59" y="441.00" width="7.38" height="18.00" fill="#DADADA" shape-rendering="crispEdges"/>
<rect x="1296.67" y="441.00" width="7.38" height="18.00" fill="#DADADA" shape-rendering="crispEdges"/>
<rect x="1303.75" y="441.00" width="7.38" height="18.00" fill="#D6D6D6" shape-rendering="crispEdges"/>
<rect x="1310.83" y="441.00" width="7.38" height="18.00" fill="#D2D2D2" shape-rendering="crispEdges"/>
<rect x="1317.91" y="441.00" width="7.38" height="18.00" fill="#D6D6D6" shape-rendering="crispEdges"/>
<rect x="1324.99" y="441.00" width="7.38" height="18.00" fill="#FFFFFF" shape-rendering="crispEdges"/>
<rect x="1332.07" y="441.00" width="7.38" height="18.00" fill="#F2F2F2" shape-rendering="crispEdges"/>
<rect x="1339.14" y="441.00" width="7.38" height="18.00" fill="#D0D0D0" shape-rendering="crispEdges"/>
<rect x="1346.22" y="441.00" width="7.38" height="18.00" fill="#CECECE" shape-rendering="crispEdges"/>
<rect x="1353.30" y="441.00" width="7.38" height="18.00" fill="#DADADA" shape-rendering="crispEdges"/>
<rect x="1360.38" y="441.00" width="7.38" height="18.00" fill="#DCDCDC" shape-rendering="crispEdges"/>
<rect x="1367.46" y="441.00" width="7.38" height="18.00" fill="#CACACA" shape-rendering="crispEdges"/>
<rect x="1374.54" y="441.00" width="7.38" height="18.00" fill="#C6C6C6" shape-rendering="crispEdges"/>
<rect x="1381.62" y="441.00" width="7.38" height="18.00" fill="#C6C6C6" shape-rendering="crispEdges"/>
<rect x="1388.70" y="441.00" width="7.38" height="18.00" fill="#C4C4C4" shape-rendering="crispEdges"/>
<rect x="1395.78" y="441.00" width="7.38" height="18.00" fill="#C0C0C0" shape-rendering="crispEdges"/>
<rect x="1402.86" y="441.00" width="7.38" height="18.00" fill="#B0B0B0" shape-rendering="crispEdges"/>
<rect x="1409.93" y="441.00" width="7.38" height="18.00" fill="#A8A8A8" shape-rendering="crispEdges"/>
<rect x="1417.01" y="441.00" width="7.38" height="18.00" fill="#B4B4B4" shape-rendering="crispEdges"/>
<rect x="1424.09" y="441.00" width="7.38" height="18.00" fill="#B0B0B0" shape-rendering="crispEdges"/>
<rect x="1431.17" y="441.00" width="7.38" height="18.00" fill="#989898" shape-rendering="crispEdges"/>
<rect x="1438.25" y="441.00" width="7.38" height="18.00" fill="#8D8D8D" shape-rendering="crispEdges"/>
<rect x="1445.33" y="441.00" width="7.38" height="18.00" fill="#DCDCDC" shape-rendering="crispEdges"/>
<rect x="1452.41" y="441.00" width="7.38" height="18.00" fill="#BEBEBE" shape-rendering="crispEdges"/>
<rect x="1459.49" y="441.00" width="7.38" height="18.00" fill="#B4B4B4" shape-rendering="crispEdges"/>
<rect x="1466.57" y="441.00" width="7.38" height="18.00" fill="#8C8C8C" shape-rendering="crispEdges"/>
<rect x="1473.64" y="441.00" width="7.38" height="18.00" fill="#DCDCDC" shape-rendering="crispEdges"/>
<rect x="1480.72" y="441.00" width="7.38" height="18.00" fill="#C4C4C4" shape-rendering="crispEdges"/>
<rect x="1487.80" y="441.00" width="7.38" height="18.00" fill="#C4C4C4" shape-rendering="crispEdges"/>
<rect x="1494.88" y="441.00" width="7.38" height="18.00" fill="#C0C0C0" shape-rendering="crispEdges"/>
<rect x="1501.96" y="441.00" width="7.38" height="18.00" fill="#AEAEAE" shape-rendering="crispEdges"/>
<rect x="1509.04" y="441.00" width="7.38" height="18.00" fill="#C2C2C2" shape-rendering="crispEdges"/>
<rect x="1516.12" y="441.00" width="7.38" height="18.00" fill="#BEBEBE" shape-rendering="crispEdges"/>
<rect x="1523.20" y="441.00" width="7.38" height="18.00" fill="#BEBEBE" shape-rendering="crispEdges"/>
<rect x="1530.28" y="441.00" width="7.38" height="18.00" fill="#BEBEBE" shape-rendering="crispEdges"/>
<rect x="1537.36" y="441.00" width="7.38" height="18.00" fill="#C2C2C2" shape-rendering="crispEdges"/>
<rect x="1544.43" y="441.00" width="7.38" height="18.00" fill="#A8A8A8" shape-rendering="crispEdges"/>
<rect x="1551.51" y="441.00" width="7.38" height="18.00" fill="#D0D0D0" shape-rendering="crispEdges"/>
<rect x="1558.59" y="441.00" width="7.38" height="18.00" fill="#B4B4B4" shape-rendering="crispEdges"/>
<rect x="1565.67" y="441.00" width="7.38" height="18.00" fill="#BABABA" shape-rendering="crispEdges"/>
<rect x="1572.75" y="441.00" width="7.38" height="18.00" fill="#BABABA" shape-rendering="crispEdges"/>
<rect x="1579.83" y="441.00" width="7.38" height="18.00" fill="#B4B4B4" shape-rendering="crispEdges"/>
<rect x="1586.91" y="441.00" width="7.38" height="18.00" fill="#B4B4B4" shape-rendering="crispEdges"/>
<rect x="1593.99" y="441.00" width="7.38" height="18.00" fill="#B6B6B6" shape-rendering="crispEdges"/>
<rect x="1601.07" y="441.00" width="7.38" height="18.00" fill="#BEBEBE" shape-rendering="crispEdges"/>
<rect x="1608.15" y="441.00" width="7.38" height="18.00" fill="#ACACAC" shape-rendering="crispEdges"/>
<rect x="1615.22" y="441.00" width="7.38" height="18.00" fill="#949494" shape-rendering="crispEdges"/>
<rect x="1622.30" y="441.00" width="7.38" height="18.00" fill="#C0C0C0" shape-rendering="crispEdges"/>
<rect x="1629.38" y="441.00" width="7.38" height="18.00" fill="#B2B2B2" shape-rendering="crispEdges"/>
<rect x="1636.46" y="441.00" width="7.38" height="18.00" fill="#B2B2B2" shape-rendering="crispEdges"/>
<rect x="1643.54" y="441.00" width="7.38" height="18.00" fill="#A4A4A4" shape-rendering="crispEdges"/>
<rect x="1650.62" y="441.00" width="7.38" height="18.00" fill="#B4B4B4" shape-rendering="crispEdges"/>
<rect x="1657.70" y="441.00" width="7.38" height="18.00" fill="#949494" shape-rendering="crispEdges"/>
<rect x="1664.78" y="441.00" width="7.38" height="18.00" fill="#989898" shape-rendering="crispEdges"/>
<rect x="1671.86" y="441.00" width="7.38" height="18.00" fill="#B8B8B8" shape-rendering="crispEdges"/>
<rect x="1678.94" y="441.00" width="7.38" height="18.00" fill="#949494" shape-rendering="crispEdges"/>
<rect x="1686.01" y="441.00" width="7.38" height="18.00" fill="#9C9C9C" shape-rendering="crispEdges"/>
<rect x="1693.09" y="441.00" width="7.38" height="18.00" fill="#8E8E8E" shape-rendering="crispEdges"/>
<rect x="1700.17" y="441.00" width="7.38" height="18.00" fill="#545454" shape-rendering="crispEdges"/>
<rect x="1707.25" y="441.00" width="7.38" height="18.00" fill="#1C1C1C" shape-rendering="crispEdges"/>
<rect x="1714.33" y="441.00" width="7.38" height="18.00" fill="#202020" shape-rendering="crispEdges"/>
<rect x="1721.41" y="441.00" width="7.38" height="18.00" fill="#000000" shape-rendering="crispEdges"/>
<rect x="1728.49" y="441.00" width="7.38" height="18.00" fill="#000000" shape-rendering="crispEdges"/>
<rect x="1735.57" y="441.00" width="7.38" height="18.00" fill="#787878" shape-rendering="crispEdges"/>
<rect x="1742.65" y="441.00" width="7.38" height="18.00" fill="#606060" shape-rendering="crispEdges"/>
<rect x="1749.73" y="441.00" width="7.38" height="18.00" fill="#808080" shape-rendering="crispEdges"/>
<rect x="1756.80" y="441.00" width="7.38" height="18.00" fill="#585858" shape-rendering="crispEdges"/>
<rect x="1763.88" y="441.00" width="7.38" height="18.00" fill="#2E2E2E" shape-rendering="crispEdges"/>
<rect x="1770.96" y="441.00" width="7.38" height="18.00" fill="#646464" shape-rendering="crispEdges"/>
<rect x="1778.04" y="441.00" width="7.38" height="18.00" fill="#808080" shape-rendering="crispEdges"/>
<rect x="1785.12" y="441.00" width="7.38" height="18.00" fill="#6A6A6A" shape-rendering="crispEdges"/>
<rect x="1792.20" y="441.00" width="7.08" height="18.00" fill="#484848" shape-rendering="crispEdges"/>
<rect x="1084.30" y="463.40" width="714.98" height="18.00" fill="#FF0000" />
<rect x="1091.38" y="463.40" width="7.08" height="18.00" fill="#800080" />
<rect x="1218.80" y="463.40" width="7.08" height="18.00" fill="#800080" />
<rect x="1240.04" y="463.40" width="7.08" height="18.00" fill="#800080" />
<rect x="1346.22" y="463.40" width="7.08" height="18.00" fill="#800080" />
<rect x="1204.64" y="463.40" width="7.08" height="18.00" fill="#CDCD00" />
<rect x="1353.30" y="463.40" width="7.08" height="18.00" fill="#CDCD00" />
<rect x="1424.09" y="463.40" width="7.08" height="18.00" fill="#CDCD00" />
<rect x="1714.33" y="463.40" width="7.08" height="18.00" fill="#CDCD00" />
<rect x="1324.99" y="463.40" width="7.08" height="18.00" fill="#0000CD" />
<rect x="1339.14" y="463.40" width="7.08" height="18.00" fill="#FF1493" />
<text x="1810.4" y="343.3" font-size="20.8" font-style="italic">NFE2L2</text>
<text x="1810.4" y="365.9" font-size="20.8" font-style="italic">KEAP1</text>
<text x="1810.4" y="388.5" font-size="20.8" font-style="italic">CUL3</text>
<text x="1810.4" y="411.0" font-size="20.8" font-style="italic">ARID2</text>
<g shape-rendering="crispEdges">
<rect x="1084.30" y="485.90" width="14.46" height="26.76" fill="#D4E6F1"/>
<rect x="1098.46" y="485.90" width="7.38" height="26.76" fill="#B8D8E9"/>
<rect x="1105.54" y="485.90" width="14.46" height="26.76" fill="#D4E6F1"/>
<rect x="1119.69" y="485.90" width="7.38" height="26.76" fill="#F9ECE4"/>
<rect x="1126.77" y="485.90" width="7.38" height="26.76" fill="#D4E6F1"/>
<rect x="1133.85" y="485.90" width="7.38" height="26.76" fill="#E5EEF4"/>
<rect x="1140.93" y="485.90" width="14.46" height="26.76" fill="#D4E6F1"/>
<rect x="1155.09" y="485.90" width="21.54" height="26.76" fill="#E5EEF4"/>
<rect x="1176.33" y="485.90" width="7.38" height="26.76" fill="#F3F5F6"/>
<rect x="1183.41" y="485.90" width="7.38" height="26.76" fill="#E5EEF4"/>
<rect x="1190.48" y="485.90" width="21.54" height="26.76" fill="#F3F5F6"/>
<rect x="1211.72" y="485.90" width="7.38" height="26.76" fill="#98C8E0"/>
<rect x="1218.80" y="485.90" width="7.38" height="26.76" fill="#E5EEF4"/>
<rect x="1225.88" y="485.90" width="7.38" height="26.76" fill="#F9ECE4"/>
<rect x="1232.96" y="485.90" width="7.38" height="26.76" fill="#FCDFCE"/>
<rect x="1240.04" y="485.90" width="7.38" height="26.76" fill="#D4E6F1"/>
<rect x="1247.12" y="485.90" width="14.46" height="26.76" fill="#B8D8E9"/>
<rect x="1261.27" y="485.90" width="7.38" height="26.76" fill="#F3F5F6"/>
<rect x="1268.35" y="485.90" width="28.62" height="26.76" fill="#D4E6F1"/>
<rect x="1296.67" y="485.90" width="14.46" height="26.76" fill="#B8D8E9"/>
<rect x="1310.83" y="485.90" width="7.38" height="26.76" fill="#E5EEF4"/>
<rect x="1317.91" y="485.90" width="7.38" height="26.76" fill="#B8D8E9"/>
<rect x="1324.99" y="485.90" width="7.38" height="26.76" fill="#4796C4"/>
<rect x="1332.07" y="485.90" width="7.38" height="26.76" fill="#98C8E0"/>
<rect x="1339.14" y="485.90" width="7.38" height="26.76" fill="#F2A27F"/>
<rect x="1346.22" y="485.90" width="7.38" height="26.76" fill="#F3F5F6"/>
<rect x="1353.30" y="485.90" width="7.38" height="26.76" fill="#F9ECE4"/>
<rect x="1360.38" y="485.90" width="7.38" height="26.76" fill="#D4E6F1"/>
<rect x="1367.46" y="485.90" width="7.38" height="26.76" fill="#E5EEF4"/>
<rect x="1374.54" y="485.90" width="7.38" height="26.76" fill="#FCDFCE"/>
<rect x="1381.62" y="485.90" width="7.38" height="26.76" fill="#F9ECE4"/>
<rect x="1388.70" y="485.90" width="7.38" height="26.76" fill="#D4E6F1"/>
<rect x="1395.78" y="485.90" width="7.38" height="26.76" fill="#E5EEF4"/>
<rect x="1402.86" y="485.90" width="14.46" height="26.76" fill="#FCDFCE"/>
<rect x="1417.01" y="485.90" width="7.38" height="26.76" fill="#B8D8E9"/>
<rect x="1424.09" y="485.90" width="7.38" height="26.76" fill="#F3F5F6"/>
<rect x="1431.17" y="485.90" width="7.38" height="26.76" fill="#F9ECE4"/>
<rect x="1438.25" y="485.90" width="7.38" height="26.76" fill="#D4E6F1"/>
<rect x="1445.33" y="485.90" width="7.38" height="26.76" fill="#B8D8E9"/>
<rect x="1452.41" y="485.90" width="7.38" height="26.76" fill="#F3F5F6"/>
<rect x="1459.49" y="485.90" width="7.38" height="26.76" fill="#E5EEF4"/>
<rect x="1466.57" y="485.90" width="7.38" height="26.76" fill="#F9ECE4"/>
<rect x="1473.64" y="485.90" width="7.38" height="26.76" fill="#E5EEF4"/>
<rect x="1480.72" y="485.90" width="7.38" height="26.76" fill="#F3F5F6"/>
<rect x="1487.80" y="485.90" width="14.46" height="26.76" fill="#F9ECE4"/>
<rect x="1501.96" y="485.90" width="7.38" height="26.76" fill="#F3F5F6"/>
<rect x="1509.04" y="485.90" width="14.46" height="26.76" fill="#D4E6F1"/>
<rect x="1523.20" y="485.90" width="7.38" height="26.76" fill="#F3F5F6"/>
<rect x="1530.28" y="485.90" width="7.38" height="26.76" fill="#E5EEF4"/>
<rect x="1537.36" y="485.90" width="14.46" height="26.76" fill="#F9ECE4"/>
<rect x="1551.51" y="485.90" width="7.38" height="26.76" fill="#76B4D5"/>
<rect x="1558.59" y="485.90" width="7.38" height="26.76" fill="#B8D8E9"/>
<rect x="1565.67" y="485.90" width="28.62" height="26.76" fill="#D4E6F1"/>
<rect x="1593.99" y="485.90" width="7.38" height="26.76" fill="#E5EEF4"/>
<rect x="1601.07" y="485.90" width="14.46" height="26.76" fill="#F3F5F6"/>
<rect x="1615.22" y="485.90" width="7.38" height="26.76" fill="#F9ECE4"/>
<rect x="1622.30" y="485.90" width="7.38" height="26.76" fill="#F3F5F6"/>
<rect x="1629.38" y="485.90" width="7.38" height="26.76" fill="#F9ECE4"/>
<rect x="1636.46" y="485.90" width="7.38" height="26.76" fill="#F3F5F6"/>
<rect x="1643.54" y="485.90" width="28.62" height="26.76" fill="#F9ECE4"/>
<rect x="1671.86" y="485.90" width="7.38" height="26.76" fill="#E5EEF4"/>
<rect x="1678.94" y="485.90" width="21.54" height="26.76" fill="#F9ECE4"/>
<rect x="1700.17" y="485.90" width="7.38" height="26.76" fill="#F9C3A8"/>
<rect x="1707.25" y="485.90" width="7.38" height="26.76" fill="#F2A27F"/>
<rect x="1714.33" y="485.90" width="7.38" height="26.76" fill="#D96752"/>
<rect x="1721.41" y="485.90" width="7.38" height="26.76" fill="#C8433F"/>
<rect x="1728.49" y="485.90" width="7.38" height="26.76" fill="#D96752"/>
<rect x="1735.57" y="485.90" width="14.46" height="26.76" fill="#F9C3A8"/>
<rect x="1749.73" y="485.90" width="7.38" height="26.76" fill="#FCDFCE"/>
<rect x="1756.80" y="485.90" width="7.38" height="26.76" fill="#F9C3A8"/>
<rect x="1763.88" y="485.90" width="7.38" height="26.76" fill="#F2A27F"/>
<rect x="1770.96" y="485.90" width="7.38" height="26.76" fill="#F9C3A8"/>
<rect x="1778.04" y="485.90" width="7.38" height="26.76" fill="#FCDFCE"/>
<rect x="1785.12" y="485.90" width="7.38" height="26.76" fill="#E58268"/>
<rect x="1792.20" y="485.90" width="7.08" height="26.76" fill="#F2A27F"/>
<rect x="1084.30" y="512.36" width="7.38" height="26.76" fill="#D4E6F1"/>
<rect x="1091.38" y="512.36" width="14.46" height="26.76" fill="#B8D8E9"/>
<rect x="1105.54" y="512.36" width="21.54" height="26.76" fill="#D4E6F1"/>
<rect x="1126.77" y="512.36" width="21.54" height="26.76" fill="#E5EEF4"/>
<rect x="1148.01" y="512.36" width="7.38" height="26.76" fill="#D4E6F1"/>
<rect x="1155.09" y="512.36" width="7.38" height="26.76" fill="#E5EEF4"/>
<rect x="1162.17" y="512.36" width="7.38" height="26.76" fill="#F3F5F6"/>
<rect x="1169.25" y="512.36" width="21.54" height="26.76" fill="#E5EEF4"/>
<rect x="1190.48" y="512.36" width="7.38" height="26.76" fill="#D4E6F1"/>
<rect x="1197.56" y="512.36" width="7.38" height="26.76" fill="#F9ECE4"/>
<rect x="1204.64" y="512.36" width="14.46" height="26.76" fill="#F3F5F6"/>
<rect x="1218.80" y="512.36" width="7.38" height="26.76" fill="#F9ECE4"/>
<rect x="1225.88" y="512.36" width="7.38" height="26.76" fill="#D4E6F1"/>
<rect x="1232.96" y="512.36" width="7.38" height="26.76" fill="#FCDFCE"/>
<rect x="1240.04" y="512.36" width="7.38" height="26.76" fill="#E5EEF4"/>
<rect x="1247.12" y="512.36" width="7.38" height="26.76" fill="#F3F5F6"/>
<rect x="1254.20" y="512.36" width="21.54" height="26.76" fill="#B8D8E9"/>
<rect x="1275.43" y="512.36" width="14.46" height="26.76" fill="#D4E6F1"/>
<rect x="1289.59" y="512.36" width="35.69" height="26.76" fill="#B8D8E9"/>
<rect x="1324.99" y="512.36" width="7.38" height="26.76" fill="#F9ECE4"/>
<rect x="1332.07" y="512.36" width="7.38" height="26.76" fill="#E5EEF4"/>
<rect x="1339.14" y="512.36" width="7.38" height="26.76" fill="#FCDFCE"/>
<rect x="1346.22" y="512.36" width="14.46" height="26.76" fill="#B8D8E9"/>
<rect x="1360.38" y="512.36" width="14.46" height="26.76" fill="#D4E6F1"/>
<rect x="1374.54" y="512.36" width="14.46" height="26.76" fill="#B8D8E9"/>
<rect x="1388.70" y="512.36" width="7.38" height="26.76" fill="#F3F5F6"/>
<rect x="1395.78" y="512.36" width="7.38" height="26.76" fill="#B8D8E9"/>
<rect x="1402.86" y="512.36" width="7.38" height="26.76" fill="#F9ECE4"/>
<rect x="1409.93" y="512.36" width="7.38" height="26.76" fill="#E5EEF4"/>
<rect x="1417.01" y="512.36" width="21.54" height="26.76" fill="#D4E6F1"/>
<rect x="1438.25" y="512.36" width="7.38" height="26.76" fill="#F3F5F6"/>
<rect x="1445.33" y="512.36" width="7.38" height="26.76" fill="#B8D8E9"/>
<rect x="1452.41" y="512.36" width="7.38" height="26.76" fill="#D4E6F1"/>
<rect x="1459.49" y="512.36" width="14.46" height="26.76" fill="#F3F5F6"/>
<rect x="1473.64" y="512.36" width="14.46" height="26.76" fill="#D4E6F1"/>
<rect x="1487.80" y="512.36" width="14.46" height="26.76" fill="#E5EEF4"/>
<rect x="1501.96" y="512.36" width="7.38" height="26.76" fill="#F9ECE4"/>
<rect x="1509.04" y="512.36" width="7.38" height="26.76" fill="#E5EEF4"/>
<rect x="1516.12" y="512.36" width="7.38" height="26.76" fill="#F9ECE4"/>
<rect x="1523.20" y="512.36" width="7.38" height="26.76" fill="#E5EEF4"/>
<rect x="1530.28" y="512.36" width="7.38" height="26.76" fill="#F3F5F6"/>
<rect x="1537.36" y="512.36" width="14.46" height="26.76" fill="#FCDFCE"/>
<rect x="1551.51" y="512.36" width="7.38" height="26.76" fill="#D4E6F1"/>
<rect x="1558.59" y="512.36" width="7.38" height="26.76" fill="#98C8E0"/>
<rect x="1565.67" y="512.36" width="14.46" height="26.76" fill="#E5EEF4"/>
<rect x="1579.83" y="512.36" width="7.38" height="26.76" fill="#F3F5F6"/>
<rect x="1586.91" y="512.36" width="7.38" height="26.76" fill="#FCDFCE"/>
<rect x="1593.99" y="512.36" width="7.38" height="26.76" fill="#F3F5F6"/>
<rect x="1601.07" y="512.36" width="7.38" height="26.76" fill="#E5EEF4"/>
<rect x="1608.15" y="512.36" width="7.38" height="26.76" fill="#B8D8E9"/>
<rect x="1615.22" y="512.36" width="7.38" height="26.76" fill="#F3F5F6"/>
<rect x="1622.30" y="512.36" width="21.54" height="26.76" fill="#F9ECE4"/>
<rect x="1643.54" y="512.36" width="7.38" height="26.76" fill="#FCDFCE"/>
<rect x="1650.62" y="512.36" width="7.38" height="26.76" fill="#E5EEF4"/>
<rect x="1657.70" y="512.36" width="7.38" height="26.76" fill="#F9ECE4"/>
<rect x="1664.78" y="512.36" width="7.38" height="26.76" fill="#FCDFCE"/>
<rect x="1671.86" y="512.36" width="28.62" height="26.76" fill="#F9ECE4"/>
<rect x="1700.17" y="512.36" width="7.38" height="26.76" fill="#E58268"/>
<rect x="1707.25" y="512.36" width="14.46" height="26.76" fill="#D96752"/>
<rect x="1721.41" y="512.36" width="7.38" height="26.76" fill="#C8433F"/>
<rect x="1728.49" y="512.36" width="7.38" height="26.76" fill="#D96752"/>
<rect x="1735.57" y="512.36" width="21.54" height="26.76" fill="#F9C3A8"/>
<rect x="1756.80" y="512.36" width="14.46" height="26.76" fill="#FCDFCE"/>
<rect x="1770.96" y="512.36" width="7.38" height="26.76" fill="#E58268"/>
<rect x="1778.04" y="512.36" width="7.38" height="26.76" fill="#F9C3A8"/>
<rect x="1785.12" y="512.36" width="7.38" height="26.76" fill="#FCDFCE"/>
<rect x="1792.20" y="512.36" width="7.08" height="26.76" fill="#F9C3A8"/>
<rect x="1084.30" y="538.82" width="7.38" height="26.76" fill="#D4E6F1"/>
<rect x="1091.38" y="538.82" width="7.38" height="26.76" fill="#E5EEF4"/>
<rect x="1098.46" y="538.82" width="14.46" height="26.76" fill="#D4E6F1"/>
<rect x="1112.62" y="538.82" width="7.38" height="26.76" fill="#E5EEF4"/>
<rect x="1119.69" y="538.82" width="7.38" height="26.76" fill="#D4E6F1"/>
<rect x="1126.77" y="538.82" width="7.38" height="26.76" fill="#E5EEF4"/>
<rect x="1133.85" y="538.82" width="7.38" height="26.76" fill="#F9ECE4"/>
<rect x="1140.93" y="538.82" width="7.38" height="26.76" fill="#B8D8E9"/>
<rect x="1148.01" y="538.82" width="14.46" height="26.76" fill="#D4E6F1"/>
<rect x="1162.17" y="538.82" width="7.38" height="26.76" fill="#F9ECE4"/>
<rect x="1169.25" y="538.82" width="7.38" height="26.76" fill="#E5EEF4"/>
<rect x="1176.33" y="538.82" width="7.38" height="26.76" fill="#B8D8E9"/>
<rect x="1183.41" y="538.82" width="7.38" height="26.76" fill="#D4E6F1"/>
<rect x="1190.48" y="538.82" width="7.38" height="26.76" fill="#B8D8E9"/>
<rect x="1197.56" y="538.82" width="21.54" height="26.76" fill="#D4E6F1"/>
<rect x="1218.80" y="538.82" width="21.54" height="26.76" fill="#F9ECE4"/>
<rect x="1240.04" y="538.82" width="7.38" height="26.76" fill="#D4E6F1"/>
<rect x="1247.12" y="538.82" width="7.38" height="26.76" fill="#E5EEF4"/>
<rect x="1254.20" y="538.82" width="7.38" height="26.76" fill="#98C8E0"/>
<rect x="1261.27" y="538.82" width="7.38" height="26.76" fill="#F3F5F6"/>
<rect x="1268.35" y="538.82" width="7.38" height="26.76" fill="#B8D8E9"/>
<rect x="1275.43" y="538.82" width="14.46" height="26.76" fill="#D4E6F1"/>
<rect x="1289.59" y="538.82" width="7.38" height="26.76" fill="#98C8E0"/>
<rect x="1296.67" y="538.82" width="7.38" height="26.76" fill="#F3F5F6"/>
<rect x="1303.75" y="538.82" width="14.46" height="26.76" fill="#E5EEF4"/>
<rect x="1317.91" y="538.82" width="14.46" height="26.76" fill="#98C8E0"/>
<rect x="1332.07" y="538.82" width="14.46" height="26.76" fill="#F3F5F6"/>
<rect x="1346.22" y="538.82" width="7.38" height="26.76" fill="#E5EEF4"/>
<rect x="1353.30" y="538.82" width="7.38" height="26.76" fill="#F9ECE4"/>
<rect x="1360.38" y="538.82" width="7.38" height="26.76" fill="#D4E6F1"/>
<rect x="1367.46" y="538.82" width="7.38" height="26.76" fill="#E5EEF4"/>
<rect x="1374.54" y="538.82" width="7.38" height="26.76" fill="#D4E6F1"/>
<rect x="1381.62" y="538.82" width="7.38" height="26.76" fill="#F3F5F6"/>
<rect x="1388.70" y="538.82" width="7.38" height="26.76" fill="#F9ECE4"/>
<rect x="1395.78" y="538.82" width="7.38" height="26.76" fill="#D4E6F1"/>
<rect x="1402.86" y="538.82" width="7.38" height="26.76" fill="#E5EEF4"/>
<rect x="1409.93" y="538.82" width="7.38" height="26.76" fill="#B8D8E9"/>
<rect x="1417.01" y="538.82" width="7.38" height="26.76" fill="#E5EEF4"/>
<rect x="1424.09" y="538.82" width="7.38" height="26.76" fill="#D4E6F1"/>
<rect x="1431.17" y="538.82" width="7.38" height="26.76" fill="#F3F5F6"/>
<rect x="1438.25" y="538.82" width="7.38" height="26.76" fill="#E5EEF4"/>
<rect x="1445.33" y="538.82" width="7.38" height="26.76" fill="#FCDFCE"/>
<rect x="1452.41" y="538.82" width="7.38" height="26.76" fill="#E5EEF4"/>
<rect x="1459.49" y="538.82" width="7.38" height="26.76" fill="#FCDFCE"/>
<rect x="1466.57" y="538.82" width="7.38" height="26.76" fill="#F9C3A8"/>
<rect x="1473.64" y="538.82" width="7.38" height="26.76" fill="#D4E6F1"/>
<rect x="1480.72" y="538.82" width="7.38" height="26.76" fill="#F3F5F6"/>
<rect x="1487.80" y="538.82" width="7.38" height="26.76" fill="#FCDFCE"/>
<rect x="1494.88" y="538.82" width="14.46" height="26.76" fill="#F2A27F"/>
<rect x="1509.04" y="538.82" width="7.38" height="26.76" fill="#F9ECE4"/>
<rect x="1516.12" y="538.82" width="7.38" height="26.76" fill="#F3F5F6"/>
<rect x="1523.20" y="538.82" width="7.38" height="26.76" fill="#F9ECE4"/>
<rect x="1530.28" y="538.82" width="14.46" height="26.76" fill="#F9C3A8"/>
<rect x="1544.43" y="538.82" width="7.38" height="26.76" fill="#FCDFCE"/>
<rect x="1551.51" y="538.82" width="7.38" height="26.76" fill="#98C8E0"/>
<rect x="1558.59" y="538.82" width="7.38" height="26.76" fill="#D4E6F1"/>
<rect x="1565.67" y="538.82" width="7.38" height="26.76" fill="#B8D8E9"/>
<rect x="1572.75" y="538.82" width="7.38" height="26.76" fill="#FCDFCE"/>
<rect x="1579.83" y="538.82" width="7.38" height="26.76" fill="#B8D8E9"/>
<rect x="1586.91" y="538.82" width="7.38" height="26.76" fill="#E5EEF4"/>
<rect x="1593.99" y="538.82" width="7.38" height="26.76" fill="#D4E6F1"/>
<rect x="1601.07" y="538.82" width="7.38" height="26.76" fill="#E5EEF4"/>
<rect x="1608.15" y="538.82" width="7.38" height="26.76" fill="#D4E6F1"/>
<rect x="1615.22" y="538.82" width="7.38" height="26.76" fill="#E5EEF4"/>
<rect x="1622.30" y="538.82" width="7.38" height="26.76" fill="#F9ECE4"/>
<rect x="1629.38" y="538.82" width="7.38" height="26.76" fill="#FCDFCE"/>
<rect x="1636.46" y="538.82" width="14.46" height="26.76" fill="#F9ECE4"/>
<rect x="1650.62" y="538.82" width="14.46" height="26.76" fill="#F3F5F6"/>
<rect x="1664.78" y="538.82" width="7.38" height="26.76" fill="#FCDFCE"/>
<rect x="1671.86" y="538.82" width="7.38" height="26.76" fill="#D4E6F1"/>
<rect x="1678.94" y="538.82" width="7.38" height="26.76" fill="#F3F5F6"/>
<rect x="1686.01" y="538.82" width="7.38" height="26.76" fill="#E5EEF4"/>
<rect x="1693.09" y="538.82" width="7.38" height="26.76" fill="#F9ECE4"/>
<rect x="1700.17" y="538.82" width="21.54" height="26.76" fill="#E58268"/>
<rect x="1721.41" y="538.82" width="7.38" height="26.76" fill="#D96752"/>
<rect x="1728.49" y="538.82" width="7.38" height="26.76" fill="#C8433F"/>
<rect x="1735.57" y="538.82" width="7.38" height="26.76" fill="#E5EEF4"/>
<rect x="1742.65" y="538.82" width="7.38" height="26.76" fill="#F9ECE4"/>
<rect x="1749.73" y="538.82" width="7.38" height="26.76" fill="#F3F5F6"/>
<rect x="1756.80" y="538.82" width="7.38" height="26.76" fill="#F9ECE4"/>
<rect x="1763.88" y="538.82" width="7.38" height="26.76" fill="#E58268"/>
<rect x="1770.96" y="538.82" width="7.38" height="26.76" fill="#D4E6F1"/>
<rect x="1778.04" y="538.82" width="7.38" height="26.76" fill="#F9ECE4"/>
<rect x="1785.12" y="538.82" width="7.38" height="26.76" fill="#F9C3A8"/>
<rect x="1792.20" y="538.82" width="7.08" height="26.76" fill="#F2A27F"/>
<rect x="1084.30" y="565.28" width="7.38" height="26.76" fill="#D4E6F1"/>
<rect x="1091.38" y="565.28" width="7.38" height="26.76" fill="#F3F5F6"/>
<rect x="1098.46" y="565.28" width="7.38" height="26.76" fill="#D4E6F1"/>
<rect x="1105.54" y="565.28" width="14.46" height="26.76" fill="#F9ECE4"/>
<rect x="1119.69" y="565.28" width="7.38" height="26.76" fill="#F9C3A8"/>
<rect x="1126.77" y="565.28" width="7.38" height="26.76" fill="#FCDFCE"/>
<rect x="1133.85" y="565.28" width="7.38" height="26.76" fill="#F9ECE4"/>
<rect x="1140.93" y="565.28" width="7.38" height="26.76" fill="#F3F5F6"/>
<rect x="1148.01" y="565.28" width="7.38" height="26.76" fill="#D4E6F1"/>
<rect x="1155.09" y="565.28" width="7.38" height="26.76" fill="#F3F5F6"/>
<rect x="1162.17" y="565.28" width="7.38" height="26.76" fill="#D4E6F1"/>
<rect x="1169.25" y="565.28" width="7.38" height="26.76" fill="#F3F5F6"/>
<rect x="1176.33" y="565.28" width="7.38" height="26.76" fill="#D4E6F1"/>
<rect x="1183.41" y="565.28" width="7.38" height="26.76" fill="#F9ECE4"/>
<rect x="1190.48" y="565.28" width="7.38" height="26.76" fill="#D4E6F1"/>
<rect x="1197.56" y="565.28" width="7.38" height="26.76" fill="#FCDFCE"/>
<rect x="1204.64" y="565.28" width="7.38" height="26.76" fill="#F9ECE4"/>
<rect x="1211.72" y="565.28" width="7.38" height="26.76" fill="#F3F5F6"/>
<rect x="1218.80" y="565.28" width="14.46" height="26.76" fill="#D4E6F1"/>
<rect x="1232.96" y="565.28" width="7.38" height="26.76" fill="#F9ECE4"/>
<rect x="1240.04" y="565.28" width="28.62" height="26.76" fill="#D4E6F1"/>
<rect x="1268.35" y="565.28" width="7.38" height="26.76" fill="#F9ECE4"/>
<rect x="1275.43" y="565.28" width="7.38" height="26.76" fill="#FCDFCE"/>
<rect x="1282.51" y="565.28" width="7.38" height="26.76" fill="#F3F5F6"/>
<rect x="1289.59" y="565.28" width="21.54" height="26.76" fill="#D4E6F1"/>
<rect x="1310.83" y="565.28" width="7.38" height="26.76" fill="#F9ECE4"/>
<rect x="1317.91" y="565.28" width="7.38" height="26.76" fill="#D4E6F1"/>
<rect x="1324.99" y="565.28" width="7.38" height="26.76" fill="#F9C3A8"/>
<rect x="1332.07" y="565.28" width="7.38" height="26.76" fill="#D4E6F1"/>
<rect x="1339.14" y="565.28" width="7.38" height="26.76" fill="#F9ECE4"/>
<rect x="1346.22" y="565.28" width="7.38" height="26.76" fill="#D4E6F1"/>
<rect x="1353.30" y="565.28" width="7.38" height="26.76" fill="#E58268"/>
<rect x="1360.38" y="565.28" width="7.38" height="26.76" fill="#D4E6F1"/>
<rect x="1367.46" y="565.28" width="7.38" height="26.76" fill="#FCDFCE"/>
<rect x="1374.54" y="565.28" width="7.38" height="26.76" fill="#D4E6F1"/>
<rect x="1381.62" y="565.28" width="7.38" height="26.76" fill="#F9ECE4"/>
<rect x="1388.70" y="565.28" width="7.38" height="26.76" fill="#F9C3A8"/>
<rect x="1395.78" y="565.28" width="14.46" height="26.76" fill="#FCDFCE"/>
<rect x="1409.93" y="565.28" width="7.38" height="26.76" fill="#F9ECE4"/>
<rect x="1417.01" y="565.28" width="14.46" height="26.76" fill="#D4E6F1"/>
<rect x="1431.17" y="565.28" width="7.38" height="26.76" fill="#F9ECE4"/>
<rect x="1438.25" y="565.28" width="7.38" height="26.76" fill="#FCDFCE"/>
<rect x="1445.33" y="565.28" width="14.46" height="26.76" fill="#D4E6F1"/>
<rect x="1459.49" y="565.28" width="7.38" height="26.76" fill="#F3F5F6"/>
<rect x="1466.57" y="565.28" width="42.77" height="26.76" fill="#D4E6F1"/>
<rect x="1509.04" y="565.28" width="14.46" height="26.76" fill="#FCDFCE"/>
<rect x="1523.20" y="565.28" width="7.38" height="26.76" fill="#F3F5F6"/>
<rect x="1530.28" y="565.28" width="7.38" height="26.76" fill="#D4E6F1"/>
<rect x="1537.36" y="565.28" width="14.46" height="26.76" fill="#F3F5F6"/>
<rect x="1551.51" y="565.28" width="71.09" height="26.76" fill="#D4E6F1"/>
<rect x="1622.30" y="565.28" width="14.46" height="26.76" fill="#FCDFCE"/>
<rect x="1636.46" y="565.28" width="7.38" height="26.76" fill="#F9ECE4"/>
<rect x="1643.54" y="565.28" width="7.38" height="26.76" fill="#F9C3A8"/>
<rect x="1650.62" y="565.28" width="7.38" height="26.76" fill="#FCDFCE"/>
<rect x="1657.70" y="565.28" width="7.38" height="26.76" fill="#F9ECE4"/>
<rect x="1664.78" y="565.28" width="14.46" height="26.76" fill="#D4E6F1"/>
<rect x="1678.94" y="565.28" width="7.38" height="26.76" fill="#F9ECE4"/>
<rect x="1686.01" y="565.28" width="14.46" height="26.76" fill="#FCDFCE"/>
<rect x="1700.17" y="565.28" width="7.38" height="26.76" fill="#F3F5F6"/>
<rect x="1707.25" y="565.28" width="7.38" height="26.76" fill="#F2A27F"/>
<rect x="1714.33" y="565.28" width="14.46" height="26.76" fill="#C8433F"/>
<rect x="1728.49" y="565.28" width="7.38" height="26.76" fill="#D96752"/>
<rect x="1735.57" y="565.28" width="7.38" height="26.76" fill="#D4E6F1"/>
<rect x="1742.65" y="565.28" width="7.38" height="26.76" fill="#F9ECE4"/>
<rect x="1749.73" y="565.28" width="7.38" height="26.76" fill="#D4E6F1"/>
<rect x="1756.80" y="565.28" width="7.38" height="26.76" fill="#F2A27F"/>
<rect x="1763.88" y="565.28" width="7.38" height="26.76" fill="#FCDFCE"/>
<rect x="1770.96" y="565.28" width="7.38" height="26.76" fill="#F9ECE4"/>
<rect x="1778.04" y="565.28" width="14.46" height="26.76" fill="#FCDFCE"/>
<rect x="1792.20" y="565.28" width="7.08" height="26.76" fill="#F9C3A8"/>
<rect x="1084.30" y="591.74" width="14.46" height="26.76" fill="#E5EEF4"/>
<rect x="1098.46" y="591.74" width="7.38" height="26.76" fill="#B8D8E9"/>
<rect x="1105.54" y="591.74" width="14.46" height="26.76" fill="#F9ECE4"/>
<rect x="1119.69" y="591.74" width="7.38" height="26.76" fill="#D4E6F1"/>
<rect x="1126.77" y="591.74" width="14.46" height="26.76" fill="#E5EEF4"/>
<rect x="1140.93" y="591.74" width="7.38" height="26.76" fill="#F9ECE4"/>
<rect x="1148.01" y="591.74" width="7.38" height="26.76" fill="#E5EEF4"/>
<rect x="1155.09" y="591.74" width="14.46" height="26.76" fill="#D4E6F1"/>
<rect x="1169.25" y="591.74" width="7.38" height="26.76" fill="#F9ECE4"/>
<rect x="1176.33" y="591.74" width="7.38" height="26.76" fill="#E5EEF4"/>
<rect x="1183.41" y="591.74" width="7.38" height="26.76" fill="#D4E6F1"/>
<rect x="1190.48" y="591.74" width="7.38" height="26.76" fill="#98C8E0"/>
<rect x="1197.56" y="591.74" width="7.38" height="26.76" fill="#F2A27F"/>
<rect x="1204.64" y="591.74" width="7.38" height="26.76" fill="#D4E6F1"/>
<rect x="1211.72" y="591.74" width="14.46" height="26.76" fill="#E5EEF4"/>
<rect x="1225.88" y="591.74" width="7.38" height="26.76" fill="#D4E6F1"/>
<rect x="1232.96" y="591.74" width="7.38" height="26.76" fill="#F9C3A8"/>
<rect x="1240.04" y="591.74" width="7.38" height="26.76" fill="#98C8E0"/>
<rect x="1247.12" y="591.74" width="7.38" height="26.76" fill="#D4E6F1"/>
<rect x="1254.20" y="591.74" width="7.38" height="26.76" fill="#B8D8E9"/>
<rect x="1261.27" y="591.74" width="7.38" height="26.76" fill="#D4E6F1"/>
<rect x="1268.35" y="591.74" width="7.38" height="26.76" fill="#B8D8E9"/>
<rect x="1275.43" y="591.74" width="7.38" height="26.76" fill="#76B4D5"/>
<rect x="1282.51" y="591.74" width="7.38" height="26.76" fill="#98C8E0"/>
<rect x="1289.59" y="591.74" width="7.38" height="26.76" fill="#D4E6F1"/>
<rect x="1296.67" y="591.74" width="7.38" height="26.76" fill="#B8D8E9"/>
<rect x="1303.75" y="591.74" width="7.38" height="26.76" fill="#98C8E0"/>
<rect x="1310.83" y="591.74" width="14.46" height="26.76" fill="#B8D8E9"/>
<rect x="1324.99" y="591.74" width="7.38" height="26.76" fill="#F9ECE4"/>
<rect x="1332.07" y="591.74" width="7.38" height="26.76" fill="#D4E6F1"/>
<rect x="1339.14" y="591.74" width="7.38" height="26.76" fill="#F2A27F"/>
<rect x="1346.22" y="591.74" width="7.38" height="26.76" fill="#D4E6F1"/>
<rect x="1353.30" y="591.74" width="7.38" height="26.76" fill="#B8D8E9"/>
<rect x="1360.38" y="591.74" width="14.46" height="26.76" fill="#E5EEF4"/>
<rect x="1374.54" y="591.74" width="7.38" height="26.76" fill="#F3F5F6"/>
<rect x="1381.62" y="591.74" width="21.54" height="26.76" fill="#E5EEF4"/>
<rect x="1402.86" y="591.74" width="7.38" height="26.76" fill="#F9C3A8"/>
<rect x="1409.93" y="591.74" width="14.46" height="26.76" fill="#F3F5F6"/>
<rect x="1424.09" y="591.74" width="7.38" height="26.76" fill="#F9ECE4"/>
<rect x="1431.17" y="591.74" width="7.38" height="26.76" fill="#F3F5F6"/>
<rect x="1438.25" y="591.74" width="7.38" height="26.76" fill="#F9C3A8"/>
<rect x="1445.33" y="591.74" width="7.38" height="26.76" fill="#B8D8E9"/>
<rect x="1452.41" y="591.74" width="14.46" height="26.76" fill="#D4E6F1"/>
<rect x="1466.57" y="591.74" width="7.38" height="26.76" fill="#E5EEF4"/>
<rect x="1473.64" y="591.74" width="7.38" height="26.76" fill="#F9ECE4"/>
<rect x="1480.72" y="591.74" width="7.38" height="26.76" fill="#B8D8E9"/>
<rect x="1487.80" y="591.74" width="7.38" height="26.76" fill="#F3F5F6"/>
<rect x="1494.88" y="591.74" width="7.38" height="26.76" fill="#F9ECE4"/>
<rect x="1501.96" y="591.74" width="7.38" height="26.76" fill="#F3F5F6"/>
<rect x="1509.04" y="591.74" width="7.38" height="26.76" fill="#F9ECE4"/>
<rect x="1516.12" y="591.74" width="14.46" height="26.76" fill="#D4E6F1"/>
<rect x="1530.28" y="591.74" width="7.38" height="26.76" fill="#E5EEF4"/>
<rect x="1537.36" y="591.74" width="7.38" height="26.76" fill="#D4E6F1"/>
<rect x="1544.43" y="591.74" width="7.38" height="26.76" fill="#F9ECE4"/>
<rect x="1551.51" y="591.74" width="14.46" height="26.76" fill="#F9C3A8"/>
<rect x="1565.67" y="591.74" width="7.38" height="26.76" fill="#F3F5F6"/>
<rect x="1572.75" y="591.74" width="7.38" height="26.76" fill="#B8D8E9"/>
<rect x="1579.83" y="591.74" width="7.38" height="26.76" fill="#F3F5F6"/>
<rect x="1586.91" y="591.74" width="14.46" height="26.76" fill="#E5EEF4"/>
<rect x="1601.07" y="591.74" width="7.38" height="26.76" fill="#F9ECE4"/>
<rect x="1608.15" y="591.74" width="7.38" height="26.76" fill="#E5EEF4"/>
<rect x="1615.22" y="591.74" width="7.38" height="26.76" fill="#F9ECE4"/>
<rect x="1622.30" y="591.74" width="7.38" height="26.76" fill="#F3F5F6"/>
<rect x="1629.38" y="591.74" width="7.38" height="26.76" fill="#B8D8E9"/>
<rect x="1636.46" y="591.74" width="7.38" height="26.76" fill="#F3F5F6"/>
<rect x="1643.54" y="591.74" width="7.38" height="26.76" fill="#F9ECE4"/>
<rect x="1650.62" y="591.74" width="7.38" height="26.76" fill="#E5EEF4"/>
<rect x="1657.70" y="591.74" width="7.38" height="26.76" fill="#F3F5F6"/>
<rect x="1664.78" y="591.74" width="7.38" height="26.76" fill="#F9C3A8"/>
<rect x="1671.86" y="591.74" width="7.38" height="26.76" fill="#F3F5F6"/>
<rect x="1678.94" y="591.74" width="7.38" height="26.76" fill="#FCDFCE"/>
<rect x="1686.01" y="591.74" width="7.38" height="26.76" fill="#F2A27F"/>
<rect x="1693.09" y="591.74" width="7.38" height="26.76" fill="#FCDFCE"/>
<rect x="1700.17" y="591.74" width="7.38" height="26.76" fill="#D4E6F1"/>
<rect x="1707.25" y="591.74" width="7.38" height="26.76" fill="#FCDFCE"/>
<rect x="1714.33" y="591.74" width="7.38" height="26.76" fill="#F2A27F"/>
<rect x="1721.41" y="591.74" width="7.38" height="26.76" fill="#E58268"/>
<rect x="1728.49" y="591.74" width="7.38" height="26.76" fill="#D96752"/>
<rect x="1735.57" y="591.74" width="7.38" height="26.76" fill="#F3F5F6"/>
<rect x="1742.65" y="591.74" width="7.38" height="26.76" fill="#F2A27F"/>
<rect x="1749.73" y="591.74" width="7.38" height="26.76" fill="#F3F5F6"/>
<rect x="1756.80" y="591.74" width="7.38" height="26.76" fill="#FCDFCE"/>
<rect x="1763.88" y="591.74" width="14.46" height="26.76" fill="#E58268"/>
<rect x="1778.04" y="591.74" width="7.38" height="26.76" fill="#F2A27F"/>
<rect x="1785.12" y="591.74" width="7.38" height="26.76" fill="#F9C3A8"/>
<rect x="1792.20" y="591.74" width="7.08" height="26.76" fill="#FCDFCE"/>
<rect x="1084.30" y="618.20" width="14.46" height="26.76" fill="#D4E6F1"/>
<rect x="1098.46" y="618.20" width="7.38" height="26.76" fill="#F9ECE4"/>
<rect x="1105.54" y="618.20" width="7.38" height="26.76" fill="#F3F5F6"/>
<rect x="1112.62" y="618.20" width="14.46" height="26.76" fill="#D4E6F1"/>
<rect x="1126.77" y="618.20" width="7.38" height="26.76" fill="#B8D8E9"/>
<rect x="1133.85" y="618.20" width="14.46" height="26.76" fill="#E5EEF4"/>
<rect x="1148.01" y="618.20" width="7.38" height="26.76" fill="#F3F5F6"/>
<rect x="1155.09" y="618.20" width="7.38" height="26.76" fill="#F9ECE4"/>
<rect x="1162.17" y="618.20" width="7.38" height="26.76" fill="#D4E6F1"/>
<rect x="1169.25" y="618.20" width="7.38" height="26.76" fill="#B8D8E9"/>
<rect x="1176.33" y="618.20" width="14.46" height="26.76" fill="#E5EEF4"/>
<rect x="1190.48" y="618.20" width="7.38" height="26.76" fill="#D4E6F1"/>
<rect x="1197.56" y="618.20" width="7.38" height="26.76" fill="#F3F5F6"/>
<rect x="1204.64" y="618.20" width="7.38" height="26.76" fill="#D4E6F1"/>
<rect x="1211.72" y="618.20" width="7.38" height="26.76" fill="#FCDFCE"/>
<rect x="1218.80" y="618.20" width="7.38" height="26.76" fill="#E5EEF4"/>
<rect x="1225.88" y="618.20" width="14.46" height="26.76" fill="#FCDFCE"/>
<rect x="1240.04" y="618.20" width="7.38" height="26.76" fill="#F9ECE4"/>
<rect x="1247.12" y="618.20" width="7.38" height="26.76" fill="#F2A27F"/>
<rect x="1254.20" y="618.20" width="7.38" height="26.76" fill="#D4E6F1"/>
<rect x="1261.27" y="618.20" width="7.38" height="26.76" fill="#98C8E0"/>
<rect x="1268.35" y="618.20" width="7.38" height="26.76" fill="#E5EEF4"/>
<rect x="1275.43" y="618.20" width="7.38" height="26.76" fill="#F3F5F6"/>
<rect x="1282.51" y="618.20" width="7.38" height="26.76" fill="#FCDFCE"/>
<rect x="1289.59" y="618.20" width="14.46" height="26.76" fill="#B8D8E9"/>
<rect x="1303.75" y="618.20" width="7.38" height="26.76" fill="#D4E6F1"/>
<rect x="1310.83" y="618.20" width="7.38" height="26.76" fill="#B8D8E9"/>
<rect x="1317.91" y="618.20" width="7.38" height="26.76" fill="#98C8E0"/>
<rect x="1324.99" y="618.20" width="7.38" height="26.76" fill="#4796C4"/>
<rect x="1332.07" y="618.20" width="7.38" height="26.76" fill="#98C8E0"/>
<rect x="1339.14" y="618.20" width="21.54" height="26.76" fill="#FCDFCE"/>
<rect x="1360.38" y="618.20" width="7.38" height="26.76" fill="#F2A27F"/>
<rect x="1367.46" y="618.20" width="7.38" height="26.76" fill="#F9ECE4"/>
<rect x="1374.54" y="618.20" width="7.38" height="26.76" fill="#F9C3A8"/>
<rect x="1381.62" y="618.20" width="7.38" height="26.76" fill="#FCDFCE"/>
<rect x="1388.70" y="618.20" width="7.38" height="26.76" fill="#F9ECE4"/>
<rect x="1395.78" y="618.20" width="7.38" height="26.76" fill="#E5EEF4"/>
<rect x="1402.86" y="618.20" width="7.38" height="26.76" fill="#F9ECE4"/>
<rect x="1409.93" y="618.20" width="7.38" height="26.76" fill="#E5EEF4"/>
<rect x="1417.01" y="618.20" width="7.38" height="26.76" fill="#FCDFCE"/>
<rect x="1424.09" y="618.20" width="7.38" height="26.76" fill="#F9ECE4"/>
<rect x="1431.17" y="618.20" width="28.62" height="26.76" fill="#FCDFCE"/>
<rect x="1459.49" y="618.20" width="7.38" height="26.76" fill="#F9C3A8"/>
<rect x="1466.57" y="618.20" width="7.38" height="26.76" fill="#F2A27F"/>
<rect x="1473.64" y="618.20" width="7.38" height="26.76" fill="#B8D8E9"/>
<rect x="1480.72" y="618.20" width="7.38" height="26.76" fill="#FCDFCE"/>
<rect x="1487.80" y="618.20" width="7.38" height="26.76" fill="#B8D8E9"/>
<rect x="1494.88" y="618.20" width="7.38" height="26.76" fill="#E5EEF4"/>
<rect x="1501.96" y="618.20" width="7.38" height="26.76" fill="#F3F5F6"/>
<rect x="1509.04" y="618.20" width="14.46" height="26.76" fill="#D4E6F1"/>
<rect x="1523.20" y="618.20" width="7.38" height="26.76" fill="#FCDFCE"/>
<rect x="1530.28" y="618.20" width="14.46" height="26.76" fill="#D4E6F1"/>
<rect x="1544.43" y="618.20" width="21.54" height="26.76" fill="#B8D8E9"/>
<rect x="1565.67" y="618.20" width="7.38" height="26.76" fill="#E5EEF4"/>
<rect x="1572.75" y="618.20" width="14.46" height="26.76" fill="#B8D8E9"/>
<rect x="1586.91" y="618.20" width="7.38" height="26.76" fill="#E5EEF4"/>
<rect x="1593.99" y="618.20" width="7.38" height="26.76" fill="#F3F5F6"/>
<rect x="1601.07" y="618.20" width="7.38" height="26.76" fill="#D4E6F1"/>
<rect x="1608.15" y="618.20" width="14.46" height="26.76" fill="#F9ECE4"/>
<rect x="1622.30" y="618.20" width="7.38" height="26.76" fill="#B8D8E9"/>
<rect x="1629.38" y="618.20" width="7.38" height="26.76" fill="#E5EEF4"/>
<rect x="1636.46" y="618.20" width="7.38" height="26.76" fill="#F9C3A8"/>
<rect x="1643.54" y="618.20" width="7.38" height="26.76" fill="#F2A27F"/>
<rect x="1650.62" y="618.20" width="21.54" height="26.76" fill="#F9ECE4"/>
<rect x="1671.86" y="618.20" width="14.46" height="26.76" fill="#E5EEF4"/>
<rect x="1686.01" y="618.20" width="7.38" height="26.76" fill="#98C8E0"/>
<rect x="1693.09" y="618.20" width="7.38" height="26.76" fill="#B8D8E9"/>
<rect x="1700.17" y="618.20" width="7.38" height="26.76" fill="#F2A27F"/>
<rect x="1707.25" y="618.20" width="7.38" height="26.76" fill="#FCDFCE"/>
<rect x="1714.33" y="618.20" width="7.38" height="26.76" fill="#C8433F"/>
<rect x="1721.41" y="618.20" width="7.38" height="26.76" fill="#FCDFCE"/>
<rect x="1728.49" y="618.20" width="7.38" height="26.76" fill="#F9C3A8"/>
<rect x="1735.57" y="618.20" width="28.62" height="26.76" fill="#E5EEF4"/>
<rect x="1763.88" y="618.20" width="7.38" height="26.76" fill="#C8433F"/>
<rect x="1770.96" y="618.20" width="7.38" height="26.76" fill="#F2A27F"/>
<rect x="1778.04" y="618.20" width="14.46" height="26.76" fill="#F3F5F6"/>
<rect x="1792.20" y="618.20" width="7.08" height="26.76" fill="#FCDFCE"/>
<rect x="1084.30" y="644.66" width="7.38" height="26.76" fill="#F3F5F6"/>
<rect x="1091.38" y="644.66" width="7.38" height="26.76" fill="#E5EEF4"/>
<rect x="1098.46" y="644.66" width="14.46" height="26.76" fill="#D4E6F1"/>
<rect x="1112.62" y="644.66" width="7.38" height="26.76" fill="#FCDFCE"/>
<rect x="1119.69" y="644.66" width="7.38" height="26.76" fill="#E5EEF4"/>
<rect x="1126.77" y="644.66" width="7.38" height="26.76" fill="#D4E6F1"/>
<rect x="1133.85" y="644.66" width="7.38" height="26.76" fill="#F3F5F6"/>
<rect x="1140.93" y="644.66" width="7.38" height="26.76" fill="#FCDFCE"/>
<rect x="1148.01" y="644.66" width="14.46" height="26.76" fill="#E5EEF4"/>
<rect x="1162.17" y="644.66" width="14.46" height="26.76" fill="#D4E6F1"/>
<rect x="1176.33" y="644.66" width="7.38" height="26.76" fill="#E5EEF4"/>
<rect x="1183.41" y="644.66" width="21.54" height="26.76" fill="#D4E6F1"/>
<rect x="1204.64" y="644.66" width="7.38" height="26.76" fill="#F9C3A8"/>
<rect x="1211.72" y="644.66" width="7.38" height="26.76" fill="#D4E6F1"/>
<rect x="1218.80" y="644.66" width="7.38" height="26.76" fill="#F3F5F6"/>
<rect x="1225.88" y="644.66" width="7.38" height="26.76" fill="#E5EEF4"/>
<rect x="1232.96" y="644.66" width="7.38" height="26.76" fill="#F3F5F6"/>
<rect x="1240.04" y="644.66" width="7.38" height="26.76" fill="#D4E6F1"/>
<rect x="1247.12" y="644.66" width="7.38" height="26.76" fill="#FCDFCE"/>
<rect x="1254.20" y="644.66" width="7.38" height="26.76" fill="#E5EEF4"/>
<rect x="1261.27" y="644.66" width="7.38" height="26.76" fill="#F9ECE4"/>
<rect x="1268.35" y="644.66" width="7.38" height="26.76" fill="#E5EEF4"/>
<rect x="1275.43" y="644.66" width="7.38" height="26.76" fill="#F3F5F6"/>
<rect x="1282.51" y="644.66" width="7.38" height="26.76" fill="#F9ECE4"/>
<rect x="1289.59" y="644.66" width="7.38" height="26.76" fill="#E5EEF4"/>
<rect x="1296.67" y="644.66" width="7.38" height="26.76" fill="#B8D8E9"/>
<rect x="1303.75" y="644.66" width="7.38" height="26.76" fill="#F3F5F6"/>
<rect x="1310.83" y="644.66" width="7.38" height="26.76" fill="#E5EEF4"/>
<rect x="1317.91" y="644.66" width="14.46" height="26.76" fill="#76B4D5"/>
<rect x="1332.07" y="644.66" width="7.38" height="26.76" fill="#053061"/>
<rect x="1339.14" y="644.66" width="7.38" height="26.76" fill="#FCDFCE"/>
<rect x="1346.22" y="644.66" width="7.38" height="26.76" fill="#F9C3A8"/>
<rect x="1353.30" y="644.66" width="7.38" height="26.76" fill="#FCDFCE"/>
<rect x="1360.38" y="644.66" width="7.38" height="26.76" fill="#F9C3A8"/>
<rect x="1367.46" y="644.66" width="14.46" height="26.76" fill="#F3F5F6"/>
<rect x="1381.62" y="644.66" width="7.38" height="26.76" fill="#FCDFCE"/>
<rect x="1388.70" y="644.66" width="7.38" height="26.76" fill="#F9ECE4"/>
<rect x="1395.78" y="644.66" width="7.38" height="26.76" fill="#E5EEF4"/>
<rect x="1402.86" y="644.66" width="7.38" height="26.76" fill="#F9ECE4"/>
<rect x="1409.93" y="644.66" width="21.54" height="26.76" fill="#F3F5F6"/>
<rect x="1431.17" y="644.66" width="7.38" height="26.76" fill="#F9ECE4"/>
<rect x="1438.25" y="644.66" width="7.38" height="26.76" fill="#F9C3A8"/>
<rect x="1445.33" y="644.66" width="7.38" height="26.76" fill="#F2A27F"/>
<rect x="1452.41" y="644.66" width="7.38" height="26.76" fill="#F9C3A8"/>
<rect x="1459.49" y="644.66" width="7.38" height="26.76" fill="#FCDFCE"/>
<rect x="1466.57" y="644.66" width="7.38" height="26.76" fill="#F9C3A8"/>
<rect x="1473.64" y="644.66" width="7.38" height="26.76" fill="#D4E6F1"/>
<rect x="1480.72" y="644.66" width="7.38" height="26.76" fill="#FCDFCE"/>
<rect x="1487.80" y="644.66" width="14.46" height="26.76" fill="#B8D8E9"/>
<rect x="1501.96" y="644.66" width="7.38" height="26.76" fill="#D4E6F1"/>
<rect x="1509.04" y="644.66" width="7.38" height="26.76" fill="#E5EEF4"/>
<rect x="1516.12" y="644.66" width="7.38" height="26.76" fill="#F3F5F6"/>
<rect x="1523.20" y="644.66" width="7.38" height="26.76" fill="#B8D8E9"/>
<rect x="1530.28" y="644.66" width="7.38" height="26.76" fill="#D4E6F1"/>
<rect x="1537.36" y="644.66" width="7.38" height="26.76" fill="#F3F5F6"/>
<rect x="1544.43" y="644.66" width="14.46" height="26.76" fill="#F9ECE4"/>
<rect x="1558.59" y="644.66" width="21.54" height="26.76" fill="#F3F5F6"/>
<rect x="1579.83" y="644.66" width="7.38" height="26.76" fill="#D4E6F1"/>
<rect x="1586.91" y="644.66" width="7.38" height="26.76" fill="#F3F5F6"/>
<rect x="1593.99" y="644.66" width="7.38" height="26.76" fill="#98C8E0"/>
<rect x="1601.07" y="644.66" width="7.38" height="26.76" fill="#B8D8E9"/>
<rect x="1608.15" y="644.66" width="7.38" height="26.76" fill="#D4E6F1"/>
<rect x="1615.22" y="644.66" width="7.38" height="26.76" fill="#FCDFCE"/>
<rect x="1622.30" y="644.66" width="14.46" height="26.76" fill="#E5EEF4"/>
<rect x="1636.46" y="644.66" width="7.38" height="26.76" fill="#B8D8E9"/>
<rect x="1643.54" y="644.66" width="7.38" height="26.76" fill="#FCDFCE"/>
<rect x="1650.62" y="644.66" width="7.38" height="26.76" fill="#F3F5F6"/>
<rect x="1657.70" y="644.66" width="14.46" height="26.76" fill="#F9ECE4"/>
<rect x="1671.86" y="644.66" width="7.38" height="26.76" fill="#FCDFCE"/>
<rect x="1678.94" y="644.66" width="14.46" height="26.76" fill="#F9ECE4"/>
<rect x="1693.09" y="644.66" width="7.38" height="26.76" fill="#FCDFCE"/>
<rect x="1700.17" y="644.66" width="7.38" height="26.76" fill="#F3F5F6"/>
<rect x="1707.25" y="644.66" width="7.38" height="26.76" fill="#F9C3A8"/>
<rect x="1714.33" y="644.66" width="21.54" height="26.76" fill="#E58268"/>
<rect x="1735.57" y="644.66" width="7.38" height="26.76" fill="#D4E6F1"/>
<rect x="1742.65" y="644.66" width="7.38" height="26.76" fill="#F9ECE4"/>
<rect x="1749.73" y="644.66" width="7.38" height="26.76" fill="#98C8E0"/>
<rect x="1756.80" y="644.66" width="7.38" height="26.76" fill="#D4E6F1"/>
<rect x="1763.88" y="644.66" width="7.38" height="26.76" fill="#F9C3A8"/>
<rect x="1770.96" y="644.66" width="7.38" height="26.76" fill="#F9ECE4"/>
<rect x="1778.04" y="644.66" width="7.38" height="26.76" fill="#F9C3A8"/>
<rect x="1785.12" y="644.66" width="7.38" height="26.76" fill="#FCDFCE"/>
<rect x="1792.20" y="644.66" width="7.08" height="26.76" fill="#F9C3A8"/>
<rect x="1084.30" y="671.12" width="7.38" height="26.76" fill="#E5EEF4"/>
<rect x="1091.38" y="671.12" width="14.46" height="26.76" fill="#D4E6F1"/>
<rect x="1105.54" y="671.12" width="7.38" height="26.76" fill="#E5EEF4"/>
<rect x="1112.62" y="671.12" width="7.38" height="26.76" fill="#D4E6F1"/>
<rect x="1119.69" y="671.12" width="14.46" height="26.76" fill="#E5EEF4"/>
<rect x="1133.85" y="671.12" width="7.38" height="26.76" fill="#F3F5F6"/>
<rect x="1140.93" y="671.12" width="21.54" height="26.76" fill="#E5EEF4"/>
<rect x="1162.17" y="671.12" width="7.38" height="26.76" fill="#D4E6F1"/>
<rect x="1169.25" y="671.12" width="7.38" height="26.76" fill="#B8D8E9"/>
<rect x="1176.33" y="671.12" width="21.54" height="26.76" fill="#F9ECE4"/>
<rect x="1197.56" y="671.12" width="7.38" height="26.76" fill="#D4E6F1"/>
<rect x="1204.64" y="671.12" width="28.62" height="26.76" fill="#F3F5F6"/>
<rect x="1232.96" y="671.12" width="7.38" height="26.76" fill="#F9ECE4"/>
<rect x="1240.04" y="671.12" width="21.54" height="26.76" fill="#F3F5F6"/>
<rect x="1261.27" y="671.12" width="7.38" height="26.76" fill="#E5EEF4"/>
<rect x="1268.35" y="671.12" width="7.38" height="26.76" fill="#B8D8E9"/>
<rect x="1275.43" y="671.12" width="7.38" height="26.76" fill="#F3F5F6"/>
<rect x="1282.51" y="671.12" width="14.46" height="26.76" fill="#E5EEF4"/>
<rect x="1296.67" y="671.12" width="7.38" height="26.76" fill="#B8D8E9"/>
<rect x="1303.75" y="671.12" width="7.38" height="26.76" fill="#E5EEF4"/>
<rect x="1310.83" y="671.12" width="7.38" height="26.76" fill="#4796C4"/>
<rect x="1317.91" y="671.12" width="7.38" height="26.76" fill="#E5EEF4"/>
<rect x="1324.99" y="671.12" width="7.38" height="26.76" fill="#B8D8E9"/>
<rect x="1332.07" y="671.12" width="7.38" height="26.76" fill="#4796C4"/>
<rect x="1339.14" y="671.12" width="14.46" height="26.76" fill="#FCDFCE"/>
<rect x="1353.30" y="671.12" width="7.38" height="26.76" fill="#F2A27F"/>
<rect x="1360.38" y="671.12" width="7.38" height="26.76" fill="#E58268"/>
<rect x="1367.46" y="671.12" width="7.38" height="26.76" fill="#F3F5F6"/>
<rect x="1374.54" y="671.12" width="14.46" height="26.76" fill="#FCDFCE"/>
<rect x="1388.70" y="671.12" width="7.38" height="26.76" fill="#F9ECE4"/>
<rect x="1395.78" y="671.12" width="7.38" height="26.76" fill="#FCDFCE"/>
<rect x="1402.86" y="671.12" width="7.38" height="26.76" fill="#F9C3A8"/>
<rect x="1409.93" y="671.12" width="7.38" height="26.76" fill="#E58268"/>
<rect x="1417.01" y="671.12" width="42.77" height="26.76" fill="#FCDFCE"/>
<rect x="1459.49" y="671.12" width="7.38" height="26.76" fill="#F9ECE4"/>
<rect x="1466.57" y="671.12" width="7.38" height="26.76" fill="#E5EEF4"/>
<rect x="1473.64" y="671.12" width="14.46" height="26.76" fill="#D4E6F1"/>
<rect x="1487.80" y="671.12" width="7.38" height="26.76" fill="#F3F5F6"/>
<rect x="1494.88" y="671.12" width="7.38" height="26.76" fill="#B8D8E9"/>
<rect x="1501.96" y="671.12" width="7.38" height="26.76" fill="#F3F5F6"/>
<rect x="1509.04" y="671.12" width="7.38" height="26.76" fill="#F9ECE4"/>
<rect x="1516.12" y="671.12" width="21.54" height="26.76" fill="#E5EEF4"/>
<rect x="1537.36" y="671.12" width="7.38" height="26.76" fill="#F3F5F6"/>
<rect x="1544.43" y="671.12" width="7.38" height="26.76" fill="#E5EEF4"/>
<rect x="1551.51" y="671.12" width="14.46" height="26.76" fill="#B8D8E9"/>
<rect x="1565.67" y="671.12" width="14.46" height="26.76" fill="#D4E6F1"/>
<rect x="1579.83" y="671.12" width="7.38" height="26.76" fill="#F9ECE4"/>
<rect x="1586.91" y="671.12" width="7.38" height="26.76" fill="#B8D8E9"/>
<rect x="1593.99" y="671.12" width="7.38" height="26.76" fill="#D4E6F1"/>
<rect x="1601.07" y="671.12" width="7.38" height="26.76" fill="#B8D8E9"/>
<rect x="1608.15" y="671.12" width="7.38" height="26.76" fill="#76B4D5"/>
<rect x="1615.22" y="671.12" width="7.38" height="26.76" fill="#98C8E0"/>
<rect x="1622.30" y="671.12" width="7.38" height="26.76" fill="#F3F5F6"/>
<rect x="1629.38" y="671.12" width="7.38" height="26.76" fill="#E5EEF4"/>
<rect x="1636.46" y="671.12" width="14.46" height="26.76" fill="#F3F5F6"/>
<rect x="1650.62" y="671.12" width="28.62" height="26.76" fill="#E5EEF4"/>
<rect x="1678.94" y="671.12" width="7.38" height="26.76" fill="#F3F5F6"/>
<rect x="1686.01" y="671.12" width="7.38" height="26.76" fill="#98C8E0"/>
<rect x="1693.09" y="671.12" width="7.38" height="26.76" fill="#E5EEF4"/>
<rect x="1700.17" y="671.12" width="14.46" height="26.76" fill="#F9C3A8"/>
<rect x="1714.33" y="671.12" width="7.38" height="26.76" fill="#E58268"/>
<rect x="1721.41" y="671.12" width="14.46" height="26.76" fill="#F9C3A8"/>
<rect x="1735.57" y="671.12" width="21.54" height="26.76" fill="#F9ECE4"/>
<rect x="1756.80" y="671.12" width="7.38" height="26.76" fill="#FCDFCE"/>
<rect x="1763.88" y="671.12" width="7.38" height="26.76" fill="#F9C3A8"/>
<rect x="1770.96" y="671.12" width="7.38" height="26.76" fill="#D96752"/>
<rect x="1778.04" y="671.12" width="21.24" height="26.76" fill="#F2A27F"/>
<rect x="1084.30" y="697.58" width="7.38" height="26.76" fill="#D4E6F1"/>
<rect x="1091.38" y="697.58" width="7.38" height="26.76" fill="#B8D8E9"/>
<rect x="1098.46" y="697.58" width="7.38" height="26.76" fill="#98C8E0"/>
<rect x="1105.54" y="697.58" width="7.38" height="26.76" fill="#B8D8E9"/>
<rect x="1112.62" y="697.58" width="7.38" height="26.76" fill="#98C8E0"/>
<rect x="1119.69" y="697.58" width="7.38" height="26.76" fill="#F3F5F6"/>
<rect x="1126.77" y="697.58" width="7.38" height="26.76" fill="#D4E6F1"/>
<rect x="1133.85" y="697.58" width="7.38" height="26.76" fill="#F9ECE4"/>
<rect x="1140.93" y="697.58" width="7.38" height="26.76" fill="#D4E6F1"/>
<rect x="1148.01" y="697.58" width="7.38" height="26.76" fill="#B8D8E9"/>
<rect x="1155.09" y="697.58" width="7.38" height="26.76" fill="#D4E6F1"/>
<rect x="1162.17" y="697.58" width="7.38" height="26.76" fill="#F9ECE4"/>
<rect x="1169.25" y="697.58" width="7.38" height="26.76" fill="#FCDFCE"/>
<rect x="1176.33" y="697.58" width="7.38" height="26.76" fill="#E5EEF4"/>
<rect x="1183.41" y="697.58" width="7.38" height="26.76" fill="#F3F5F6"/>
<rect x="1190.48" y="697.58" width="14.46" height="26.76" fill="#F9ECE4"/>
<rect x="1204.64" y="697.58" width="7.38" height="26.76" fill="#F3F5F6"/>
<rect x="1211.72" y="697.58" width="7.38" height="26.76" fill="#D4E6F1"/>
<rect x="1218.80" y="697.58" width="7.38" height="26.76" fill="#E5EEF4"/>
<rect x="1225.88" y="697.58" width="7.38" height="26.76" fill="#B8D8E9"/>
<rect x="1232.96" y="697.58" width="7.38" height="26.76" fill="#F3F5F6"/>
<rect x="1240.04" y="697.58" width="7.38" height="26.76" fill="#F9ECE4"/>
<rect x="1247.12" y="697.58" width="7.38" height="26.76" fill="#FCDFCE"/>
<rect x="1254.20" y="697.58" width="7.38" height="26.76" fill="#E5EEF4"/>
<rect x="1261.27" y="697.58" width="7.38" height="26.76" fill="#F3F5F6"/>
<rect x="1268.35" y="697.58" width="42.77" height="26.76" fill="#E5EEF4"/>
<rect x="1310.83" y="697.58" width="7.38" height="26.76" fill="#F3F5F6"/>
<rect x="1317.91" y="697.58" width="7.38" height="26.76" fill="#E5EEF4"/>
<rect x="1324.99" y="697.58" width="7.38" height="26.76" fill="#B8D8E9"/>
<rect x="1332.07" y="697.58" width="7.38" height="26.76" fill="#347FB9"/>
<rect x="1339.14" y="697.58" width="14.46" height="26.76" fill="#F3F5F6"/>
<rect x="1353.30" y="697.58" width="14.46" height="26.76" fill="#E5EEF4"/>
<rect x="1367.46" y="697.58" width="7.38" height="26.76" fill="#F9ECE4"/>
<rect x="1374.54" y="697.58" width="7.38" height="26.76" fill="#F9C3A8"/>
<rect x="1381.62" y="697.58" width="7.38" height="26.76" fill="#FCDFCE"/>
<rect x="1388.70" y="697.58" width="7.38" height="26.76" fill="#F3F5F6"/>
<rect x="1395.78" y="697.58" width="7.38" height="26.76" fill="#F9ECE4"/>
<rect x="1402.86" y="697.58" width="7.38" height="26.76" fill="#F3F5F6"/>
<rect x="1409.93" y="697.58" width="7.38" height="26.76" fill="#F9C3A8"/>
<rect x="1417.01" y="697.58" width="7.38" height="26.76" fill="#B8D8E9"/>
<rect x="1424.09" y="697.58" width="7.38" height="26.76" fill="#D4E6F1"/>
<rect x="1431.17" y="697.58" width="7.38" height="26.76" fill="#F2A27F"/>
<rect x="1438.25" y="697.58" width="7.38" height="26.76" fill="#FCDFCE"/>
<rect x="1445.33" y="697.58" width="28.62" height="26.76" fill="#F3F5F6"/>
<rect x="1473.64" y="697.58" width="7.38" height="26.76" fill="#D4E6F1"/>
<rect x="1480.72" y="697.58" width="14.46" height="26.76" fill="#76B4D5"/>
<rect x="1494.88" y="697.58" width="7.38" height="26.76" fill="#E5EEF4"/>
<rect x="1501.96" y="697.58" width="7.38" height="26.76" fill="#F3F5F6"/>
<rect x="1509.04" y="697.58" width="7.38" height="26.76" fill="#D4E6F1"/>
<rect x="1516.12" y="697.58" width="7.38" height="26.76" fill="#F9ECE4"/>
<rect x="1523.20" y="697.58" width="7.38" height="26.76" fill="#E5EEF4"/>
<rect x="1530.28" y="697.58" width="7.38" height="26.76" fill="#F9C3A8"/>
<rect x="1537.36" y="697.58" width="7.38" height="26.76" fill="#F9ECE4"/>
<rect x="1544.43" y="697.58" width="7.38" height="26.76" fill="#FCDFCE"/>
<rect x="1551.51" y="697.58" width="7.38" height="26.76" fill="#D4E6F1"/>
<rect x="1558.59" y="697.58" width="14.46" height="26.76" fill="#B8D8E9"/>
<rect x="1572.75" y="697.58" width="7.38" height="26.76" fill="#D4E6F1"/>
<rect x="1579.83" y="697.58" width="7.38" height="26.76" fill="#98C8E0"/>
<rect x="1586.91" y="697.58" width="7.38" height="26.76" fill="#E5EEF4"/>
<rect x="1593.99" y="697.58" width="7.38" height="26.76" fill="#F3F5F6"/>
<rect x="1601.07" y="697.58" width="7.38" height="26.76" fill="#98C8E0"/>
<rect x="1608.15" y="697.58" width="14.46" height="26.76" fill="#B8D8E9"/>
<rect x="1622.30" y="697.58" width="7.38" height="26.76" fill="#F3F5F6"/>
<rect x="1629.38" y="697.58" width="7.38" height="26.76" fill="#D4E6F1"/>
<rect x="1636.46" y="697.58" width="14.46" height="26.76" fill="#F3F5F6"/>
<rect x="1650.62" y="697.58" width="7.38" height="26.76" fill="#D4E6F1"/>
<rect x="1657.70" y="697.58" width="7.38" height="26.76" fill="#F3F5F6"/>
<rect x="1664.78" y="697.58" width="7.38" height="26.76" fill="#F9C3A8"/>
<rect x="1671.86" y="697.58" width="7.38" height="26.76" fill="#F3F5F6"/>
<rect x="1678.94" y="697.58" width="7.38" height="26.76" fill="#F9ECE4"/>
<rect x="1686.01" y="697.58" width="7.38" height="26.76" fill="#F3F5F6"/>
<rect x="1693.09" y="697.58" width="7.38" height="26.76" fill="#FCDFCE"/>
<rect x="1700.17" y="697.58" width="14.46" height="26.76" fill="#E58268"/>
<rect x="1714.33" y="697.58" width="7.38" height="26.76" fill="#F2A27F"/>
<rect x="1721.41" y="697.58" width="7.38" height="26.76" fill="#F9C3A8"/>
<rect x="1728.49" y="697.58" width="7.38" height="26.76" fill="#E58268"/>
<rect x="1735.57" y="697.58" width="7.38" height="26.76" fill="#F2A27F"/>
<rect x="1742.65" y="697.58" width="7.38" height="26.76" fill="#E58268"/>
<rect x="1749.73" y="697.58" width="7.38" height="26.76" fill="#FCDFCE"/>
<rect x="1756.80" y="697.58" width="7.38" height="26.76" fill="#F9C3A8"/>
<rect x="1763.88" y="697.58" width="7.38" height="26.76" fill="#F2A27F"/>
<rect x="1770.96" y="697.58" width="7.38" height="26.76" fill="#FCDFCE"/>
<rect x="1778.04" y="697.58" width="7.38" height="26.76" fill="#E5EEF4"/>
<rect x="1785.12" y="697.58" width="14.16" height="26.76" fill="#F9C3A8"/>
<rect x="1084.30" y="724.04" width="7.38" height="26.76" fill="#FCDFCE"/>
<rect x="1091.38" y="724.04" width="7.38" height="26.76" fill="#F9ECE4"/>
<rect x="1098.46" y="724.04" width="7.38" height="26.76" fill="#F3F5F6"/>
<rect x="1105.54" y="724.04" width="7.38" height="26.76" fill="#F9C3A8"/>
<rect x="1112.62" y="724.04" width="7.38" height="26.76" fill="#F3F5F6"/>
<rect x="1119.69" y="724.04" width="7.38" height="26.76" fill="#F9ECE4"/>
<rect x="1126.77" y="724.04" width="14.46" height="26.76" fill="#FCDFCE"/>
<rect x="1140.93" y="724.04" width="7.38" height="26.76" fill="#F3F5F6"/>
<rect x="1148.01" y="724.04" width="21.54" height="26.76" fill="#FCDFCE"/>
<rect x="1169.25" y="724.04" width="7.38" height="26.76" fill="#E58268"/>
<rect x="1176.33" y="724.04" width="7.38" height="26.76" fill="#F9C3A8"/>
<rect x="1183.41" y="724.04" width="7.38" height="26.76" fill="#F2A27F"/>
<rect x="1190.48" y="724.04" width="7.38" height="26.76" fill="#F9C3A8"/>
<rect x="1197.56" y="724.04" width="7.38" height="26.76" fill="#F2A27F"/>
<rect x="1204.64" y="724.04" width="7.38" height="26.76" fill="#E5EEF4"/>
<rect x="1211.72" y="724.04" width="7.38" height="26.76" fill="#F9ECE4"/>
<rect x="1218.80" y="724.04" width="7.38" height="26.76" fill="#F9C3A8"/>
<rect x="1225.88" y="724.04" width="7.38" height="26.76" fill="#F9ECE4"/>
<rect x="1232.96" y="724.04" width="7.38" height="26.76" fill="#F9C3A8"/>
<rect x="1240.04" y="724.04" width="7.38" height="26.76" fill="#F9ECE4"/>
<rect x="1247.12" y="724.04" width="7.38" height="26.76" fill="#F3F5F6"/>
<rect x="1254.20" y="724.04" width="7.38" height="26.76" fill="#FCDFCE"/>
<rect x="1261.27" y="724.04" width="7.38" height="26.76" fill="#D4E6F1"/>
<rect x="1268.35" y="724.04" width="7.38" height="26.76" fill="#FCDFCE"/>
<rect x="1275.43" y="724.04" width="21.54" height="26.76" fill="#F9ECE4"/>
<rect x="1296.67" y="724.04" width="7.38" height="26.76" fill="#F3F5F6"/>
<rect x="1303.75" y="724.04" width="7.38" height="26.76" fill="#D4E6F1"/>
<rect x="1310.83" y="724.04" width="14.46" height="26.76" fill="#98C8E0"/>
<rect x="1324.99" y="724.04" width="14.46" height="26.76" fill="#D4E6F1"/>
<rect x="1339.14" y="724.04" width="7.38" height="26.76" fill="#F9C3A8"/>
<rect x="1346.22" y="724.04" width="7.38" height="26.76" fill="#E58268"/>
<rect x="1353.30" y="724.04" width="7.38" height="26.76" fill="#FCDFCE"/>
<rect x="1360.38" y="724.04" width="7.38" height="26.76" fill="#F9C3A8"/>
<rect x="1367.46" y="724.04" width="7.38" height="26.76" fill="#F3F5F6"/>
<rect x="1374.54" y="724.04" width="7.38" height="26.76" fill="#FCDFCE"/>
<rect x="1381.62" y="724.04" width="7.38" height="26.76" fill="#F9C3A8"/>
<rect x="1388.70" y="724.04" width="7.38" height="26.76" fill="#FCDFCE"/>
<rect x="1395.78" y="724.04" width="7.38" height="26.76" fill="#F9ECE4"/>
<rect x="1402.86" y="724.04" width="14.46" height="26.76" fill="#F9C3A8"/>
<rect x="1417.01" y="724.04" width="7.38" height="26.76" fill="#E5EEF4"/>
<rect x="1424.09" y="724.04" width="7.38" height="26.76" fill="#FCDFCE"/>
<rect x="1431.17" y="724.04" width="7.38" height="26.76" fill="#E5EEF4"/>
<rect x="1438.25" y="724.04" width="14.46" height="26.76" fill="#98C8E0"/>
<rect x="1452.41" y="724.04" width="14.46" height="26.76" fill="#D4E6F1"/>
<rect x="1466.57" y="724.04" width="14.46" height="26.76" fill="#98C8E0"/>
<rect x="1480.72" y="724.04" width="7.38" height="26.76" fill="#D4E6F1"/>
<rect x="1487.80" y="724.04" width="7.38" height="26.76" fill="#B8D8E9"/>
<rect x="1494.88" y="724.04" width="7.38" height="26.76" fill="#D4E6F1"/>
<rect x="1501.96" y="724.04" width="7.38" height="26.76" fill="#E5EEF4"/>
<rect x="1509.04" y="724.04" width="7.38" height="26.76" fill="#F3F5F6"/>
<rect x="1516.12" y="724.04" width="7.38" height="26.76" fill="#D4E6F1"/>
<rect x="1523.20" y="724.04" width="7.38" height="26.76" fill="#F3F5F6"/>
<rect x="1530.28" y="724.04" width="21.54" height="26.76" fill="#E5EEF4"/>
<rect x="1551.51" y="724.04" width="14.46" height="26.76" fill="#D4E6F1"/>
<rect x="1565.67" y="724.04" width="14.46" height="26.76" fill="#98C8E0"/>
<rect x="1579.83" y="724.04" width="7.38" height="26.76" fill="#D4E6F1"/>
<rect x="1586.91" y="724.04" width="14.46" height="26.76" fill="#E5EEF4"/>
<rect x="1601.07" y="724.04" width="14.46" height="26.76" fill="#98C8E0"/>
<rect x="1615.22" y="724.04" width="7.38" height="26.76" fill="#E5EEF4"/>
<rect x="1622.30" y="724.04" width="7.38" height="26.76" fill="#F9ECE4"/>
<rect x="1629.38" y="724.04" width="14.46" height="26.76" fill="#FCDFCE"/>
<rect x="1643.54" y="724.04" width="14.46" height="26.76" fill="#F9ECE4"/>
<rect x="1657.70" y="724.04" width="7.38" height="26.76" fill="#FCDFCE"/>
<rect x="1664.78" y="724.04" width="7.38" height="26.76" fill="#E5EEF4"/>
<rect x="1671.86" y="724.04" width="7.38" height="26.76" fill="#98C8E0"/>
<rect x="1678.94" y="724.04" width="7.38" height="26.76" fill="#B8D8E9"/>
<rect x="1686.01" y="724.04" width="35.69" height="26.76" fill="#F3F5F6"/>
<rect x="1721.41" y="724.04" width="7.38" height="26.76" fill="#B8D8E9"/>
<rect x="1728.49" y="724.04" width="7.38" height="26.76" fill="#E5EEF4"/>
<rect x="1735.57" y="724.04" width="7.38" height="26.76" fill="#98C8E0"/>
<rect x="1742.65" y="724.04" width="7.38" height="26.76" fill="#F3F5F6"/>
<rect x="1749.73" y="724.04" width="7.38" height="26.76" fill="#F9ECE4"/>
<rect x="1756.80" y="724.04" width="14.46" height="26.76" fill="#E5EEF4"/>
<rect x="1770.96" y="724.04" width="7.38" height="26.76" fill="#F9C3A8"/>
<rect x="1778.04" y="724.04" width="7.38" height="26.76" fill="#F3F5F6"/>
<rect x="1785.12" y="724.04" width="7.38" height="26.76" fill="#D4E6F1"/>
<rect x="1792.20" y="724.04" width="7.08" height="26.76" fill="#98C8E0"/>
<rect x="1084.30" y="750.50" width="14.46" height="26.76" fill="#F3F5F6"/>
<rect x="1098.46" y="750.50" width="14.46" height="26.76" fill="#D4E6F1"/>
<rect x="1112.62" y="750.50" width="7.38" height="26.76" fill="#F3F5F6"/>
<rect x="1119.69" y="750.50" width="14.46" height="26.76" fill="#E5EEF4"/>
<rect x="1133.85" y="750.50" width="7.38" height="26.76" fill="#F9ECE4"/>
<rect x="1140.93" y="750.50" width="7.38" height="26.76" fill="#F9C3A8"/>
<rect x="1148.01" y="750.50" width="7.38" height="26.76" fill="#D4E6F1"/>
<rect x="1155.09" y="750.50" width="14.46" height="26.76" fill="#F3F5F6"/>
<rect x="1169.25" y="750.50" width="7.38" height="26.76" fill="#D4E6F1"/>
<rect x="1176.33" y="750.50" width="7.38" height="26.76" fill="#F9C3A8"/>
<rect x="1183.41" y="750.50" width="7.38" height="26.76" fill="#F9ECE4"/>
<rect x="1190.48" y="750.50" width="7.38" height="26.76" fill="#F3F5F6"/>
<rect x="1197.56" y="750.50" width="14.46" height="26.76" fill="#F9ECE4"/>
<rect x="1211.72" y="750.50" width="21.54" height="26.76" fill="#F3F5F6"/>
<rect x="1232.96" y="750.50" width="7.38" height="26.76" fill="#FCDFCE"/>
<rect x="1240.04" y="750.50" width="7.38" height="26.76" fill="#F9C3A8"/>
<rect x="1247.12" y="750.50" width="14.46" height="26.76" fill="#F9ECE4"/>
<rect x="1261.27" y="750.50" width="7.38" height="26.76" fill="#B8D8E9"/>
<rect x="1268.35" y="750.50" width="7.38" height="26.76" fill="#F9ECE4"/>
<rect x="1275.43" y="750.50" width="7.38" height="26.76" fill="#F9C3A8"/>
<rect x="1282.51" y="750.50" width="14.46" height="26.76" fill="#FCDFCE"/>
<rect x="1296.67" y="750.50" width="7.38" height="26.76" fill="#F9ECE4"/>
<rect x="1303.75" y="750.50" width="14.46" height="26.76" fill="#FCDFCE"/>
<rect x="1317.91" y="750.50" width="7.38" height="26.76" fill="#F3F5F6"/>
<rect x="1324.99" y="750.50" width="14.46" height="26.76" fill="#E5EEF4"/>
<rect x="1339.14" y="750.50" width="14.46" height="26.76" fill="#F3F5F6"/>
<rect x="1353.30" y="750.50" width="7.38" height="26.76" fill="#B8D8E9"/>
<rect x="1360.38" y="750.50" width="7.38" height="26.76" fill="#347FB9"/>
<rect x="1367.46" y="750.50" width="7.38" height="26.76" fill="#B8D8E9"/>
<rect x="1374.54" y="750.50" width="7.38" height="26.76" fill="#E5EEF4"/>
<rect x="1381.62" y="750.50" width="7.38" height="26.76" fill="#B8D8E9"/>
<rect x="1388.70" y="750.50" width="7.38" height="26.76" fill="#FCDFCE"/>
<rect x="1395.78" y="750.50" width="14.46" height="26.76" fill="#F9ECE4"/>
<rect x="1409.93" y="750.50" width="21.54" height="26.76" fill="#F3F5F6"/>
<rect x="1431.17" y="750.50" width="7.38" height="26.76" fill="#E5EEF4"/>
<rect x="1438.25" y="750.50" width="7.38" height="26.76" fill="#D4E6F1"/>
<rect x="1445.33" y="750.50" width="7.38" height="26.76" fill="#2166AC"/>
<rect x="1452.41" y="750.50" width="7.38" height="26.76" fill="#98C8E0"/>
<rect x="1459.49" y="750.50" width="7.38" height="26.76" fill="#D4E6F1"/>
<rect x="1466.57" y="750.50" width="7.38" height="26.76" fill="#4796C4"/>
<rect x="1473.64" y="750.50" width="7.38" height="26.76" fill="#F3F5F6"/>
<rect x="1480.72" y="750.50" width="7.38" height="26.76" fill="#B8D8E9"/>
<rect x="1487.80" y="750.50" width="7.38" height="26.76" fill="#E5EEF4"/>
<rect x="1494.88" y="750.50" width="7.38" height="26.76" fill="#B8D8E9"/>
<rect x="1501.96" y="750.50" width="7.38" height="26.76" fill="#D4E6F1"/>
<rect x="1509.04" y="750.50" width="14.46" height="26.76" fill="#F3F5F6"/>
<rect x="1523.20" y="750.50" width="7.38" height="26.76" fill="#B8D8E9"/>
<rect x="1530.28" y="750.50" width="7.38" height="26.76" fill="#D4E6F1"/>
<rect x="1537.36" y="750.50" width="7.38" height="26.76" fill="#98C8E0"/>
<rect x="1544.43" y="750.50" width="7.38" height="26.76" fill="#D4E6F1"/>
<rect x="1551.51" y="750.50" width="14.46" height="26.76" fill="#FCDFCE"/>
<rect x="1565.67" y="750.50" width="14.46" height="26.76" fill="#F9ECE4"/>
<rect x="1579.83" y="750.50" width="7.38" height="26.76" fill="#F3F5F6"/>
<rect x="1586.91" y="750.50" width="7.38" height="26.76" fill="#D4E6F1"/>
<rect x="1593.99" y="750.50" width="7.38" height="26.76" fill="#F3F5F6"/>
<rect x="1601.07" y="750.50" width="7.38" height="26.76" fill="#B8D8E9"/>
<rect x="1608.15" y="750.50" width="14.46" height="26.76" fill="#F9C3A8"/>
<rect x="1622.30" y="750.50" width="7.38" height="26.76" fill="#F9ECE4"/>
<rect x="1629.38" y="750.50" width="7.38" height="26.76" fill="#FCDFCE"/>
<rect x="1636.46" y="750.50" width="14.46" height="26.76" fill="#E5EEF4"/>
<rect x="1650.62" y="750.50" width="7.38" height="26.76" fill="#FCDFCE"/>
<rect x="1657.70" y="750.50" width="14.46" height="26.76" fill="#F9ECE4"/>
<rect x="1671.86" y="750.50" width="7.38" height="26.76" fill="#FCDFCE"/>
<rect x="1678.94" y="750.50" width="14.46" height="26.76" fill="#F3F5F6"/>
<rect x="1693.09" y="750.50" width="7.38" height="26.76" fill="#F9ECE4"/>
<rect x="1700.17" y="750.50" width="14.46" height="26.76" fill="#F9C3A8"/>
<rect x="1714.33" y="750.50" width="7.38" height="26.76" fill="#FCDFCE"/>
<rect x="1721.41" y="750.50" width="14.46" height="26.76" fill="#F2A27F"/>
<rect x="1735.57" y="750.50" width="7.38" height="26.76" fill="#FCDFCE"/>
<rect x="1742.65" y="750.50" width="7.38" height="26.76" fill="#F9ECE4"/>
<rect x="1749.73" y="750.50" width="14.46" height="26.76" fill="#FCDFCE"/>
<rect x="1763.88" y="750.50" width="7.38" height="26.76" fill="#2166AC"/>
<rect x="1770.96" y="750.50" width="7.38" height="26.76" fill="#F9C3A8"/>
<rect x="1778.04" y="750.50" width="14.46" height="26.76" fill="#FCDFCE"/>
<rect x="1792.20" y="750.50" width="7.08" height="26.76" fill="#F9ECE4"/>
<rect x="1084.30" y="776.96" width="7.38" height="26.76" fill="#E5EEF4"/>
<rect x="1091.38" y="776.96" width="7.38" height="26.76" fill="#F9ECE4"/>
<rect x="1098.46" y="776.96" width="7.38" height="26.76" fill="#FCDFCE"/>
<rect x="1105.54" y="776.96" width="7.38" height="26.76" fill="#F9ECE4"/>
<rect x="1112.62" y="776.96" width="7.38" height="26.76" fill="#F2A27F"/>
<rect x="1119.69" y="776.96" width="7.38" height="26.76" fill="#FCDFCE"/>
<rect x="1126.77" y="776.96" width="7.38" height="26.76" fill="#D4E6F1"/>
<rect x="1133.85" y="776.96" width="7.38" height="26.76" fill="#E5EEF4"/>
<rect x="1140.93" y="776.96" width="7.38" height="26.76" fill="#FCDFCE"/>
<rect x="1148.01" y="776.96" width="7.38" height="26.76" fill="#E5EEF4"/>
<rect x="1155.09" y="776.96" width="7.38" height="26.76" fill="#B8D8E9"/>
<rect x="1162.17" y="776.96" width="7.38" height="26.76" fill="#FCDFCE"/>
<rect x="1169.25" y="776.96" width="7.38" height="26.76" fill="#F3F5F6"/>
<rect x="1176.33" y="776.96" width="14.46" height="26.76" fill="#D4E6F1"/>
<rect x="1190.48" y="776.96" width="7.38" height="26.76" fill="#B8D8E9"/>
<rect x="1197.56" y="776.96" width="7.38" height="26.76" fill="#98C8E0"/>
<rect x="1204.64" y="776.96" width="7.38" height="26.76" fill="#D4E6F1"/>
<rect x="1211.72" y="776.96" width="7.38" height="26.76" fill="#E5EEF4"/>
<rect x="1218.80" y="776.96" width="7.38" height="26.76" fill="#FCDFCE"/>
<rect x="1225.88" y="776.96" width="7.38" height="26.76" fill="#F9ECE4"/>
<rect x="1232.96" y="776.96" width="7.38" height="26.76" fill="#FCDFCE"/>
<rect x="1240.04" y="776.96" width="7.38" height="26.76" fill="#F9C3A8"/>
<rect x="1247.12" y="776.96" width="7.38" height="26.76" fill="#F9ECE4"/>
<rect x="1254.20" y="776.96" width="7.38" height="26.76" fill="#98C8E0"/>
<rect x="1261.27" y="776.96" width="7.38" height="26.76" fill="#B8D8E9"/>
<rect x="1268.35" y="776.96" width="7.38" height="26.76" fill="#D4E6F1"/>
<rect x="1275.43" y="776.96" width="7.38" height="26.76" fill="#B8D8E9"/>
<rect x="1282.51" y="776.96" width="7.38" height="26.76" fill="#F9ECE4"/>
<rect x="1289.59" y="776.96" width="7.38" height="26.76" fill="#B8D8E9"/>
<rect x="1296.67" y="776.96" width="7.38" height="26.76" fill="#E5EEF4"/>
<rect x="1303.75" y="776.96" width="14.46" height="26.76" fill="#F3F5F6"/>
<rect x="1317.91" y="776.96" width="7.38" height="26.76" fill="#B8D8E9"/>
<rect x="1324.99" y="776.96" width="7.38" height="26.76" fill="#2166AC"/>
<rect x="1332.07" y="776.96" width="7.38" height="26.76" fill="#D4E6F1"/>
<rect x="1339.14" y="776.96" width="7.38" height="26.76" fill="#98C8E0"/>
<rect x="1346.22" y="776.96" width="7.38" height="26.76" fill="#B8D8E9"/>
<rect x="1353.30" y="776.96" width="7.38" height="26.76" fill="#98C8E0"/>
<rect x="1360.38" y="776.96" width="7.38" height="26.76" fill="#E5EEF4"/>
<rect x="1367.46" y="776.96" width="14.46" height="26.76" fill="#F9ECE4"/>
<rect x="1381.62" y="776.96" width="7.38" height="26.76" fill="#D4E6F1"/>
<rect x="1388.70" y="776.96" width="7.38" height="26.76" fill="#B8D8E9"/>
<rect x="1395.78" y="776.96" width="7.38" height="26.76" fill="#F9ECE4"/>
<rect x="1402.86" y="776.96" width="14.46" height="26.76" fill="#B8D8E9"/>
<rect x="1417.01" y="776.96" width="7.38" height="26.76" fill="#E5EEF4"/>
<rect x="1424.09" y="776.96" width="14.46" height="26.76" fill="#FCDFCE"/>
<rect x="1438.25" y="776.96" width="14.46" height="26.76" fill="#D4E6F1"/>
<rect x="1452.41" y="776.96" width="7.38" height="26.76" fill="#B8D8E9"/>
<rect x="1459.49" y="776.96" width="7.38" height="26.76" fill="#F9ECE4"/>
<rect x="1466.57" y="776.96" width="7.38" height="26.76" fill="#E5EEF4"/>
<rect x="1473.64" y="776.96" width="7.38" height="26.76" fill="#F9C3A8"/>
<rect x="1480.72" y="776.96" width="7.38" height="26.76" fill="#F2A27F"/>
<rect x="1487.80" y="776.96" width="7.38" height="26.76" fill="#D4E6F1"/>
<rect x="1494.88" y="776.96" width="7.38" height="26.76" fill="#D96752"/>
<rect x="1501.96" y="776.96" width="7.38" height="26.76" fill="#F2A27F"/>
<rect x="1509.04" y="776.96" width="7.38" height="26.76" fill="#F9ECE4"/>
<rect x="1516.12" y="776.96" width="7.38" height="26.76" fill="#FCDFCE"/>
<rect x="1523.20" y="776.96" width="7.38" height="26.76" fill="#F9C3A8"/>
<rect x="1530.28" y="776.96" width="7.38" height="26.76" fill="#F3F5F6"/>
<rect x="1537.36" y="776.96" width="7.38" height="26.76" fill="#E5EEF4"/>
<rect x="1544.43" y="776.96" width="7.38" height="26.76" fill="#F3F5F6"/>
<rect x="1551.51" y="776.96" width="7.38" height="26.76" fill="#B8D8E9"/>
<rect x="1558.59" y="776.96" width="7.38" height="26.76" fill="#F2A27F"/>
<rect x="1565.67" y="776.96" width="7.38" height="26.76" fill="#E5EEF4"/>
<rect x="1572.75" y="776.96" width="7.38" height="26.76" fill="#F3F5F6"/>
<rect x="1579.83" y="776.96" width="21.54" height="26.76" fill="#FCDFCE"/>
<rect x="1601.07" y="776.96" width="7.38" height="26.76" fill="#E5EEF4"/>
<rect x="1608.15" y="776.96" width="7.38" height="26.76" fill="#FCDFCE"/>
<rect x="1615.22" y="776.96" width="7.38" height="26.76" fill="#F9ECE4"/>
<rect x="1622.30" y="776.96" width="7.38" height="26.76" fill="#B8D8E9"/>
<rect x="1629.38" y="776.96" width="35.69" height="26.76" fill="#D4E6F1"/>
<rect x="1664.78" y="776.96" width="7.38" height="26.76" fill="#F9C3A8"/>
<rect x="1671.86" y="776.96" width="7.38" height="26.76" fill="#FCDFCE"/>
<rect x="1678.94" y="776.96" width="7.38" height="26.76" fill="#F3F5F6"/>
<rect x="1686.01" y="776.96" width="7.38" height="26.76" fill="#F9ECE4"/>
<rect x="1693.09" y="776.96" width="7.38" height="26.76" fill="#F3F5F6"/>
<rect x="1700.17" y="776.96" width="14.46" height="26.76" fill="#F9C3A8"/>
<rect x="1714.33" y="776.96" width="7.38" height="26.76" fill="#F9ECE4"/>
<rect x="1721.41" y="776.96" width="7.38" height="26.76" fill="#FCDFCE"/>
<rect x="1728.49" y="776.96" width="7.38" height="26.76" fill="#F9ECE4"/>
<rect x="1735.57" y="776.96" width="28.62" height="26.76" fill="#FCDFCE"/>
<rect x="1763.88" y="776.96" width="7.38" height="26.76" fill="#F9C3A8"/>
<rect x="1770.96" y="776.96" width="7.38" height="26.76" fill="#B8D8E9"/>
<rect x="1778.04" y="776.96" width="14.46" height="26.76" fill="#D4E6F1"/>
<rect x="1792.20" y="776.96" width="7.08" height="26.76" fill="#FCDFCE"/>
<rect x="1084.30" y="803.42" width="7.38" height="26.76" fill="#E5EEF4"/>
<rect x="1091.38" y="803.42" width="7.38" height="26.76" fill="#F9ECE4"/>
<rect x="1098.46" y="803.42" width="7.38" height="26.76" fill="#E5EEF4"/>
<rect x="1105.54" y="803.42" width="7.38" height="26.76" fill="#B8D8E9"/>
<rect x="1112.62" y="803.42" width="14.46" height="26.76" fill="#E5EEF4"/>
<rect x="1126.77" y="803.42" width="7.38" height="26.76" fill="#D4E6F1"/>
<rect x="1133.85" y="803.42" width="14.46" height="26.76" fill="#E5EEF4"/>
<rect x="1148.01" y="803.42" width="7.38" height="26.76" fill="#B8D8E9"/>
<rect x="1155.09" y="803.42" width="7.38" height="26.76" fill="#E5EEF4"/>
<rect x="1162.17" y="803.42" width="7.38" height="26.76" fill="#F9C3A8"/>
<rect x="1169.25" y="803.42" width="7.38" height="26.76" fill="#E5EEF4"/>
<rect x="1176.33" y="803.42" width="7.38" height="26.76" fill="#D4E6F1"/>
<rect x="1183.41" y="803.42" width="7.38" height="26.76" fill="#E5EEF4"/>
<rect x="1190.48" y="803.42" width="7.38" height="26.76" fill="#F3F5F6"/>
<rect x="1197.56" y="803.42" width="7.38" height="26.76" fill="#B8D8E9"/>
<rect x="1204.64" y="803.42" width="7.38" height="26.76" fill="#F9ECE4"/>
<rect x="1211.72" y="803.42" width="14.46" height="26.76" fill="#E5EEF4"/>
<rect x="1225.88" y="803.42" width="7.38" height="26.76" fill="#98C8E0"/>
<rect x="1232.96" y="803.42" width="7.38" height="26.76" fill="#F3F5F6"/>
<rect x="1240.04" y="803.42" width="7.38" height="26.76" fill="#B8D8E9"/>
<rect x="1247.12" y="803.42" width="7.38" height="26.76" fill="#E5EEF4"/>
<rect x="1254.20" y="803.42" width="14.46" height="26.76" fill="#B8D8E9"/>
<rect x="1268.35" y="803.42" width="7.38" height="26.76" fill="#F3F5F6"/>
<rect x="1275.43" y="803.42" width="7.38" height="26.76" fill="#D4E6F1"/>
<rect x="1282.51" y="803.42" width="14.46" height="26.76" fill="#E5EEF4"/>
<rect x="1296.67" y="803.42" width="14.46" height="26.76" fill="#F9ECE4"/>
<rect x="1310.83" y="803.42" width="7.38" height="26.76" fill="#FCDFCE"/>
<rect x="1317.91" y="803.42" width="7.38" height="26.76" fill="#E5EEF4"/>
<rect x="1324.99" y="803.42" width="7.38" height="26.76" fill="#347FB9"/>
<rect x="1332.07" y="803.42" width="7.38" height="26.76" fill="#98C8E0"/>
<rect x="1339.14" y="803.42" width="7.38" height="26.76" fill="#D4E6F1"/>
<rect x="1346.22" y="803.42" width="7.38" height="26.76" fill="#E5EEF4"/>
<rect x="1353.30" y="803.42" width="7.38" height="26.76" fill="#B8D8E9"/>
<rect x="1360.38" y="803.42" width="7.38" height="26.76" fill="#F3F5F6"/>
<rect x="1367.46" y="803.42" width="14.46" height="26.76" fill="#D4E6F1"/>
<rect x="1381.62" y="803.42" width="7.38" height="26.76" fill="#E5EEF4"/>
<rect x="1388.70" y="803.42" width="7.38" height="26.76" fill="#98C8E0"/>
<rect x="1395.78" y="803.42" width="7.38" height="26.76" fill="#D4E6F1"/>
<rect x="1402.86" y="803.42" width="7.38" height="26.76" fill="#E5EEF4"/>
<rect x="1409.93" y="803.42" width="21.54" height="26.76" fill="#F9ECE4"/>
<rect x="1431.17" y="803.42" width="7.38" height="26.76" fill="#F3F5F6"/>
<rect x="1438.25" y="803.42" width="7.38" height="26.76" fill="#B8D8E9"/>
<rect x="1445.33" y="803.42" width="7.38" height="26.76" fill="#F3F5F6"/>
<rect x="1452.41" y="803.42" width="7.38" height="26.76" fill="#B8D8E9"/>
<rect x="1459.49" y="803.42" width="7.38" height="26.76" fill="#E5EEF4"/>
<rect x="1466.57" y="803.42" width="7.38" height="26.76" fill="#F9ECE4"/>
<rect x="1473.64" y="803.42" width="7.38" height="26.76" fill="#D4E6F1"/>
<rect x="1480.72" y="803.42" width="7.38" height="26.76" fill="#E5EEF4"/>
<rect x="1487.80" y="803.42" width="7.38" height="26.76" fill="#FCDFCE"/>
<rect x="1494.88" y="803.42" width="7.38" height="26.76" fill="#F9C3A8"/>
<rect x="1501.96" y="803.42" width="7.38" height="26.76" fill="#F9ECE4"/>
<rect x="1509.04" y="803.42" width="7.38" height="26.76" fill="#F3F5F6"/>
<rect x="1516.12" y="803.42" width="14.46" height="26.76" fill="#F9ECE4"/>
<rect x="1530.28" y="803.42" width="7.38" height="26.76" fill="#E5EEF4"/>
<rect x="1537.36" y="803.42" width="14.46" height="26.76" fill="#D4E6F1"/>
<rect x="1551.51" y="803.42" width="14.46" height="26.76" fill="#F3F5F6"/>
<rect x="1565.67" y="803.42" width="7.38" height="26.76" fill="#B8D8E9"/>
<rect x="1572.75" y="803.42" width="7.38" height="26.76" fill="#F9ECE4"/>
<rect x="1579.83" y="803.42" width="7.38" height="26.76" fill="#FCDFCE"/>
<rect x="1586.91" y="803.42" width="7.38" height="26.76" fill="#F3F5F6"/>
<rect x="1593.99" y="803.42" width="7.38" height="26.76" fill="#F9ECE4"/>
<rect x="1601.07" y="803.42" width="7.38" height="26.76" fill="#B8D8E9"/>
<rect x="1608.15" y="803.42" width="7.38" height="26.76" fill="#F9C3A8"/>
<rect x="1615.22" y="803.42" width="7.38" height="26.76" fill="#F9ECE4"/>
<rect x="1622.30" y="803.42" width="7.38" height="26.76" fill="#E5EEF4"/>
<rect x="1629.38" y="803.42" width="7.38" height="26.76" fill="#F9ECE4"/>
<rect x="1636.46" y="803.42" width="7.38" height="26.76" fill="#E5EEF4"/>
<rect x="1643.54" y="803.42" width="7.38" height="26.76" fill="#D4E6F1"/>
<rect x="1650.62" y="803.42" width="7.38" height="26.76" fill="#E5EEF4"/>
<rect x="1657.70" y="803.42" width="7.38" height="26.76" fill="#F9ECE4"/>
<rect x="1664.78" y="803.42" width="7.38" height="26.76" fill="#FCDFCE"/>
<rect x="1671.86" y="803.42" width="14.46" height="26.76" fill="#F9C3A8"/>
<rect x="1686.01" y="803.42" width="7.38" height="26.76" fill="#FCDFCE"/>
<rect x="1693.09" y="803.42" width="7.38" height="26.76" fill="#F3F5F6"/>
<rect x="1700.17" y="803.42" width="7.38" height="26.76" fill="#D96752"/>
<rect x="1707.25" y="803.42" width="7.38" height="26.76" fill="#E58268"/>
<rect x="1714.33" y="803.42" width="7.38" height="26.76" fill="#F2A27F"/>
<rect x="1721.41" y="803.42" width="7.38" height="26.76" fill="#E58268"/>
<rect x="1728.49" y="803.42" width="14.46" height="26.76" fill="#F9C3A8"/>
<rect x="1742.65" y="803.42" width="7.38" height="26.76" fill="#FCDFCE"/>
<rect x="1749.73" y="803.42" width="7.38" height="26.76" fill="#F2A27F"/>
<rect x="1756.80" y="803.42" width="7.38" height="26.76" fill="#D96752"/>
<rect x="1763.88" y="803.42" width="7.38" height="26.76" fill="#F2A27F"/>
<rect x="1770.96" y="803.42" width="7.38" height="26.76" fill="#F9ECE4"/>
<rect x="1778.04" y="803.42" width="7.38" height="26.76" fill="#E5EEF4"/>
<rect x="1785.12" y="803.42" width="14.16" height="26.76" fill="#FCDFCE"/>
<rect x="1084.30" y="829.88" width="7.38" height="26.76" fill="#E5EEF4"/>
<rect x="1091.38" y="829.88" width="7.38" height="26.76" fill="#F3F5F6"/>
<rect x="1098.46" y="829.88" width="21.54" height="26.76" fill="#D4E6F1"/>
<rect x="1119.69" y="829.88" width="21.54" height="26.76" fill="#E5EEF4"/>
<rect x="1140.93" y="829.88" width="7.38" height="26.76" fill="#B8D8E9"/>
<rect x="1148.01" y="829.88" width="14.46" height="26.76" fill="#D4E6F1"/>
<rect x="1162.17" y="829.88" width="14.46" height="26.76" fill="#F3F5F6"/>
<rect x="1176.33" y="829.88" width="14.46" height="26.76" fill="#E5EEF4"/>
<rect x="1190.48" y="829.88" width="7.38" height="26.76" fill="#D4E6F1"/>
<rect x="1197.56" y="829.88" width="7.38" height="26.76" fill="#E5EEF4"/>
<rect x="1204.64" y="829.88" width="7.38" height="26.76" fill="#D4E6F1"/>
<rect x="1211.72" y="829.88" width="14.46" height="26.76" fill="#F3F5F6"/>
<rect x="1225.88" y="829.88" width="28.62" height="26.76" fill="#E5EEF4"/>
<rect x="1254.20" y="829.88" width="14.46" height="26.76" fill="#F3F5F6"/>
<rect x="1268.35" y="829.88" width="21.54" height="26.76" fill="#E5EEF4"/>
<rect x="1289.59" y="829.88" width="7.38" height="26.76" fill="#D4E6F1"/>
<rect x="1296.67" y="829.88" width="7.38" height="26.76" fill="#B8D8E9"/>
<rect x="1303.75" y="829.88" width="14.46" height="26.76" fill="#F9ECE4"/>
<rect x="1317.91" y="829.88" width="7.38" height="26.76" fill="#F3F5F6"/>
<rect x="1324.99" y="829.88" width="7.38" height="26.76" fill="#B8D8E9"/>
<rect x="1332.07" y="829.88" width="7.38" height="26.76" fill="#F9ECE4"/>
<rect x="1339.14" y="829.88" width="7.38" height="26.76" fill="#D4E6F1"/>
<rect x="1346.22" y="829.88" width="7.38" height="26.76" fill="#98C8E0"/>
<rect x="1353.30" y="829.88" width="7.38" height="26.76" fill="#76B4D5"/>
<rect x="1360.38" y="829.88" width="7.38" height="26.76" fill="#B8D8E9"/>
<rect x="1367.46" y="829.88" width="7.38" height="26.76" fill="#98C8E0"/>
<rect x="1374.54" y="829.88" width="14.46" height="26.76" fill="#B8D8E9"/>
<rect x="1388.70" y="829.88" width="7.38" height="26.76" fill="#98C8E0"/>
<rect x="1395.78" y="829.88" width="7.38" height="26.76" fill="#B8D8E9"/>
<rect x="1402.86" y="829.88" width="14.46" height="26.76" fill="#D4E6F1"/>
<rect x="1417.01" y="829.88" width="7.38" height="26.76" fill="#B8D8E9"/>
<rect x="1424.09" y="829.88" width="7.38" height="26.76" fill="#E5EEF4"/>
<rect x="1431.17" y="829.88" width="14.46" height="26.76" fill="#B8D8E9"/>
<rect x="1445.33" y="829.88" width="7.38" height="26.76" fill="#D4E6F1"/>
<rect x="1452.41" y="829.88" width="7.38" height="26.76" fill="#B8D8E9"/>
<rect x="1459.49" y="829.88" width="21.54" height="26.76" fill="#E5EEF4"/>
<rect x="1480.72" y="829.88" width="7.38" height="26.76" fill="#FCDFCE"/>
<rect x="1487.80" y="829.88" width="7.38" height="26.76" fill="#F3F5F6"/>
<rect x="1494.88" y="829.88" width="7.38" height="26.76" fill="#E5EEF4"/>
<rect x="1501.96" y="829.88" width="7.38" height="26.76" fill="#FCDFCE"/>
<rect x="1509.04" y="829.88" width="21.54" height="26.76" fill="#E5EEF4"/>
<rect x="1530.28" y="829.88" width="21.54" height="26.76" fill="#F3F5F6"/>
<rect x="1551.51" y="829.88" width="7.38" height="26.76" fill="#FCDFCE"/>
<rect x="1558.59" y="829.88" width="7.38" height="26.76" fill="#F2A27F"/>
<rect x="1565.67" y="829.88" width="35.69" height="26.76" fill="#FCDFCE"/>
<rect x="1601.07" y="829.88" width="7.38" height="26.76" fill="#F9ECE4"/>
<rect x="1608.15" y="829.88" width="7.38" height="26.76" fill="#FCDFCE"/>
<rect x="1615.22" y="829.88" width="14.46" height="26.76" fill="#F9ECE4"/>
<rect x="1629.38" y="829.88" width="7.38" height="26.76" fill="#F9C3A8"/>
<rect x="1636.46" y="829.88" width="7.38" height="26.76" fill="#FCDFCE"/>
<rect x="1643.54" y="829.88" width="14.46" height="26.76" fill="#E5EEF4"/>
<rect x="1657.70" y="829.88" width="7.38" height="26.76" fill="#F9ECE4"/>
<rect x="1664.78" y="829.88" width="7.38" height="26.76" fill="#FCDFCE"/>
<rect x="1671.86" y="829.88" width="7.38" height="26.76" fill="#F3F5F6"/>
<rect x="1678.94" y="829.88" width="7.38" height="26.76" fill="#FCDFCE"/>
<rect x="1686.01" y="829.88" width="21.54" height="26.76" fill="#F9C3A8"/>
<rect x="1707.25" y="829.88" width="7.38" height="26.76" fill="#F2A27F"/>
<rect x="1714.33" y="829.88" width="7.38" height="26.76" fill="#F3F5F6"/>
<rect x="1721.41" y="829.88" width="7.38" height="26.76" fill="#AB162A"/>
<rect x="1728.49" y="829.88" width="7.38" height="26.76" fill="#C8433F"/>
<rect x="1735.57" y="829.88" width="7.38" height="26.76" fill="#F9C3A8"/>
<rect x="1742.65" y="829.88" width="7.38" height="26.76" fill="#FCDFCE"/>
<rect x="1749.73" y="829.88" width="7.38" height="26.76" fill="#F9C3A8"/>
<rect x="1756.80" y="829.88" width="21.54" height="26.76" fill="#F2A27F"/>
<rect x="1778.04" y="829.88" width="7.38" height="26.76" fill="#E5EEF4"/>
<rect x="1785.12" y="829.88" width="7.38" height="26.76" fill="#F9ECE4"/>
<rect x="1792.20" y="829.88" width="7.08" height="26.76" fill="#F9C3A8"/>
<rect x="1084.30" y="856.34" width="7.38" height="26.76" fill="#E5EEF4"/>
<rect x="1091.38" y="856.34" width="7.38" height="26.76" fill="#F3F5F6"/>
<rect x="1098.46" y="856.34" width="14.46" height="26.76" fill="#F9ECE4"/>
<rect x="1112.62" y="856.34" width="14.46" height="26.76" fill="#E5EEF4"/>
<rect x="1126.77" y="856.34" width="7.38" height="26.76" fill="#F3F5F6"/>
<rect x="1133.85" y="856.34" width="7.38" height="26.76" fill="#E5EEF4"/>
<rect x="1140.93" y="856.34" width="7.38" height="26.76" fill="#F9ECE4"/>
<rect x="1148.01" y="856.34" width="7.38" height="26.76" fill="#E5EEF4"/>
<rect x="1155.09" y="856.34" width="7.38" height="26.76" fill="#F3F5F6"/>
<rect x="1162.17" y="856.34" width="7.38" height="26.76" fill="#E5EEF4"/>
<rect x="1169.25" y="856.34" width="21.54" height="26.76" fill="#F3F5F6"/>
<rect x="1190.48" y="856.34" width="7.38" height="26.76" fill="#D4E6F1"/>
<rect x="1197.56" y="856.34" width="7.38" height="26.76" fill="#F9C3A8"/>
<rect x="1204.64" y="856.34" width="7.38" height="26.76" fill="#F9ECE4"/>
<rect x="1211.72" y="856.34" width="28.62" height="26.76" fill="#FCDFCE"/>
<rect x="1240.04" y="856.34" width="7.38" height="26.76" fill="#F9ECE4"/>
<rect x="1247.12" y="856.34" width="7.38" height="26.76" fill="#FCDFCE"/>
<rect x="1254.20" y="856.34" width="7.38" height="26.76" fill="#E5EEF4"/>
<rect x="1261.27" y="856.34" width="7.38" height="26.76" fill="#FCDFCE"/>
<rect x="1268.35" y="856.34" width="7.38" height="26.76" fill="#D4E6F1"/>
<rect x="1275.43" y="856.34" width="7.38" height="26.76" fill="#F9ECE4"/>
<rect x="1282.51" y="856.34" width="7.38" height="26.76" fill="#F3F5F6"/>
<rect x="1289.59" y="856.34" width="7.38" height="26.76" fill="#FCDFCE"/>
<rect x="1296.67" y="856.34" width="7.38" height="26.76" fill="#E5EEF4"/>
<rect x="1303.75" y="856.34" width="7.38" height="26.76" fill="#FCDFCE"/>
<rect x="1310.83" y="856.34" width="14.46" height="26.76" fill="#F3F5F6"/>
<rect x="1324.99" y="856.34" width="14.46" height="26.76" fill="#D4E6F1"/>
<rect x="1339.14" y="856.34" width="7.38" height="26.76" fill="#B8D8E9"/>
<rect x="1346.22" y="856.34" width="7.38" height="26.76" fill="#98C8E0"/>
<rect x="1353.30" y="856.34" width="7.38" height="26.76" fill="#76B4D5"/>
<rect x="1360.38" y="856.34" width="7.38" height="26.76" fill="#D4E6F1"/>
<rect x="1367.46" y="856.34" width="28.62" height="26.76" fill="#98C8E0"/>
<rect x="1395.78" y="856.34" width="7.38" height="26.76" fill="#76B4D5"/>
<rect x="1402.86" y="856.34" width="7.38" height="26.76" fill="#98C8E0"/>
<rect x="1409.93" y="856.34" width="35.69" height="26.76" fill="#B8D8E9"/>
<rect x="1445.33" y="856.34" width="7.38" height="26.76" fill="#76B4D5"/>
<rect x="1452.41" y="856.34" width="7.38" height="26.76" fill="#B8D8E9"/>
<rect x="1459.49" y="856.34" width="7.38" height="26.76" fill="#FCDFCE"/>
<rect x="1466.57" y="856.34" width="7.38" height="26.76" fill="#76B4D5"/>
<rect x="1473.64" y="856.34" width="7.38" height="26.76" fill="#F3F5F6"/>
<rect x="1480.72" y="856.34" width="14.46" height="26.76" fill="#E5EEF4"/>
<rect x="1494.88" y="856.34" width="7.38" height="26.76" fill="#F9ECE4"/>
<rect x="1501.96" y="856.34" width="14.46" height="26.76" fill="#F3F5F6"/>
<rect x="1516.12" y="856.34" width="7.38" height="26.76" fill="#FCDFCE"/>
<rect x="1523.20" y="856.34" width="14.46" height="26.76" fill="#F9ECE4"/>
<rect x="1537.36" y="856.34" width="7.38" height="26.76" fill="#F9C3A8"/>
<rect x="1544.43" y="856.34" width="7.38" height="26.76" fill="#FCDFCE"/>
<rect x="1551.51" y="856.34" width="7.38" height="26.76" fill="#E5EEF4"/>
<rect x="1558.59" y="856.34" width="28.62" height="26.76" fill="#F9ECE4"/>
<rect x="1586.91" y="856.34" width="7.38" height="26.76" fill="#F3F5F6"/>
<rect x="1593.99" y="856.34" width="7.38" height="26.76" fill="#F9ECE4"/>
<rect x="1601.07" y="856.34" width="7.38" height="26.76" fill="#F9C3A8"/>
<rect x="1608.15" y="856.34" width="14.46" height="26.76" fill="#FCDFCE"/>
<rect x="1622.30" y="856.34" width="7.38" height="26.76" fill="#F9ECE4"/>
<rect x="1629.38" y="856.34" width="7.38" height="26.76" fill="#F3F5F6"/>
<rect x="1636.46" y="856.34" width="21.54" height="26.76" fill="#F9ECE4"/>
<rect x="1657.70" y="856.34" width="7.38" height="26.76" fill="#F3F5F6"/>
<rect x="1664.78" y="856.34" width="7.38" height="26.76" fill="#FCDFCE"/>
<rect x="1671.86" y="856.34" width="7.38" height="26.76" fill="#F9ECE4"/>
<rect x="1678.94" y="856.34" width="14.46" height="26.76" fill="#FCDFCE"/>
<rect x="1693.09" y="856.34" width="7.38" height="26.76" fill="#F9ECE4"/>
<rect x="1700.17" y="856.34" width="7.38" height="26.76" fill="#F9C3A8"/>
<rect x="1707.25" y="856.34" width="7.38" height="26.76" fill="#F2A27F"/>
<rect x="1714.33" y="856.34" width="7.38" height="26.76" fill="#F9ECE4"/>
<rect x="1721.41" y="856.34" width="7.38" height="26.76" fill="#C8433F"/>
<rect x="1728.49" y="856.34" width="7.38" height="26.76" fill="#D96752"/>
<rect x="1735.57" y="856.34" width="7.38" height="26.76" fill="#F9C3A8"/>
<rect x="1742.65" y="856.34" width="7.38" height="26.76" fill="#F2A27F"/>
<rect x="1749.73" y="856.34" width="7.38" height="26.76" fill="#F3F5F6"/>
<rect x="1756.80" y="856.34" width="7.38" height="26.76" fill="#FCDFCE"/>
<rect x="1763.88" y="856.34" width="7.38" height="26.76" fill="#98C8E0"/>
<rect x="1770.96" y="856.34" width="7.38" height="26.76" fill="#D4E6F1"/>
<rect x="1778.04" y="856.34" width="7.38" height="26.76" fill="#B8D8E9"/>
<rect x="1785.12" y="856.34" width="7.38" height="26.76" fill="#E5EEF4"/>
<rect x="1792.20" y="856.34" width="7.08" height="26.76" fill="#F3F5F6"/>
<rect x="1084.30" y="882.80" width="7.38" height="26.76" fill="#E5EEF4"/>
<rect x="1091.38" y="882.80" width="14.46" height="26.76" fill="#F3F5F6"/>
<rect x="1105.54" y="882.80" width="7.38" height="26.76" fill="#B8D8E9"/>
<rect x="1112.62" y="882.80" width="7.38" height="26.76" fill="#E5EEF4"/>
<rect x="1119.69" y="882.80" width="21.54" height="26.76" fill="#F3F5F6"/>
<rect x="1140.93" y="882.80" width="7.38" height="26.76" fill="#F9ECE4"/>
<rect x="1148.01" y="882.80" width="7.38" height="26.76" fill="#FCDFCE"/>
<rect x="1155.09" y="882.80" width="7.38" height="26.76" fill="#F3F5F6"/>
<rect x="1162.17" y="882.80" width="14.46" height="26.76" fill="#F9ECE4"/>
<rect x="1176.33" y="882.80" width="7.38" height="26.76" fill="#B8D8E9"/>
<rect x="1183.41" y="882.80" width="7.38" height="26.76" fill="#D4E6F1"/>
<rect x="1190.48" y="882.80" width="7.38" height="26.76" fill="#B8D8E9"/>
<rect x="1197.56" y="882.80" width="14.46" height="26.76" fill="#76B4D5"/>
<rect x="1211.72" y="882.80" width="14.46" height="26.76" fill="#98C8E0"/>
<rect x="1225.88" y="882.80" width="7.38" height="26.76" fill="#F3F5F6"/>
<rect x="1232.96" y="882.80" width="7.38" height="26.76" fill="#E5EEF4"/>
<rect x="1240.04" y="882.80" width="7.38" height="26.76" fill="#4796C4"/>
<rect x="1247.12" y="882.80" width="7.38" height="26.76" fill="#B8D8E9"/>
<rect x="1254.20" y="882.80" width="7.38" height="26.76" fill="#76B4D5"/>
<rect x="1261.27" y="882.80" width="14.46" height="26.76" fill="#F3F5F6"/>
<rect x="1275.43" y="882.80" width="7.38" height="26.76" fill="#D4E6F1"/>
<rect x="1282.51" y="882.80" width="7.38" height="26.76" fill="#F3F5F6"/>
<rect x="1289.59" y="882.80" width="7.38" height="26.76" fill="#FCDFCE"/>
<rect x="1296.67" y="882.80" width="14.46" height="26.76" fill="#F3F5F6"/>
<rect x="1310.83" y="882.80" width="14.46" height="26.76" fill="#FCDFCE"/>
<rect x="1324.99" y="882.80" width="7.38" height="26.76" fill="#D4E6F1"/>
<rect x="1332.07" y="882.80" width="7.38" height="26.76" fill="#F9ECE4"/>
<rect x="1339.14" y="882.80" width="7.38" height="26.76" fill="#4796C4"/>
<rect x="1346.22" y="882.80" width="14.46" height="26.76" fill="#76B4D5"/>
<rect x="1360.38" y="882.80" width="7.38" height="26.76" fill="#98C8E0"/>
<rect x="1367.46" y="882.80" width="14.46" height="26.76" fill="#E5EEF4"/>
<rect x="1381.62" y="882.80" width="14.46" height="26.76" fill="#B8D8E9"/>
<rect x="1395.78" y="882.80" width="7.38" height="26.76" fill="#D4E6F1"/>
<rect x="1402.86" y="882.80" width="7.38" height="26.76" fill="#76B4D5"/>
<rect x="1409.93" y="882.80" width="7.38" height="26.76" fill="#D4E6F1"/>
<rect x="1417.01" y="882.80" width="7.38" height="26.76" fill="#F9ECE4"/>
<rect x="1424.09" y="882.80" width="7.38" height="26.76" fill="#F3F5F6"/>
<rect x="1431.17" y="882.80" width="7.38" height="26.76" fill="#E5EEF4"/>
<rect x="1438.25" y="882.80" width="7.38" height="26.76" fill="#F9ECE4"/>
<rect x="1445.33" y="882.80" width="7.38" height="26.76" fill="#F3F5F6"/>
<rect x="1452.41" y="882.80" width="7.38" height="26.76" fill="#E5EEF4"/>
<rect x="1459.49" y="882.80" width="14.46" height="26.76" fill="#F9ECE4"/>
<rect x="1473.64" y="882.80" width="7.38" height="26.76" fill="#F3F5F6"/>
<rect x="1480.72" y="882.80" width="21.54" height="26.76" fill="#FCDFCE"/>
<rect x="1501.96" y="882.80" width="7.38" height="26.76" fill="#F9ECE4"/>
<rect x="1509.04" y="882.80" width="7.38" height="26.76" fill="#F3F5F6"/>
<rect x="1516.12" y="882.80" width="7.38" height="26.76" fill="#F9ECE4"/>
<rect x="1523.20" y="882.80" width="14.46" height="26.76" fill="#FCDFCE"/>
<rect x="1537.36" y="882.80" width="7.38" height="26.76" fill="#E5EEF4"/>
<rect x="1544.43" y="882.80" width="7.38" height="26.76" fill="#FCDFCE"/>
<rect x="1551.51" y="882.80" width="7.38" height="26.76" fill="#D4E6F1"/>
<rect x="1558.59" y="882.80" width="7.38" height="26.76" fill="#F9C3A8"/>
<rect x="1565.67" y="882.80" width="42.77" height="26.76" fill="#FCDFCE"/>
<rect x="1608.15" y="882.80" width="14.46" height="26.76" fill="#F9C3A8"/>
<rect x="1622.30" y="882.80" width="14.46" height="26.76" fill="#F9ECE4"/>
<rect x="1636.46" y="882.80" width="14.46" height="26.76" fill="#F3F5F6"/>
<rect x="1650.62" y="882.80" width="14.46" height="26.76" fill="#F9ECE4"/>
<rect x="1664.78" y="882.80" width="7.38" height="26.76" fill="#FCDFCE"/>
<rect x="1671.86" y="882.80" width="7.38" height="26.76" fill="#F9ECE4"/>
<rect x="1678.94" y="882.80" width="7.38" height="26.76" fill="#FCDFCE"/>
<rect x="1686.01" y="882.80" width="7.38" height="26.76" fill="#F9C3A8"/>
<rect x="1693.09" y="882.80" width="14.46" height="26.76" fill="#FCDFCE"/>
<rect x="1707.25" y="882.80" width="7.38" height="26.76" fill="#F9C3A8"/>
<rect x="1714.33" y="882.80" width="7.38" height="26.76" fill="#F9ECE4"/>
<rect x="1721.41" y="882.80" width="7.38" height="26.76" fill="#F9C3A8"/>
<rect x="1728.49" y="882.80" width="7.38" height="26.76" fill="#F2A27F"/>
<rect x="1735.57" y="882.80" width="7.38" height="26.76" fill="#F9ECE4"/>
<rect x="1742.65" y="882.80" width="28.62" height="26.76" fill="#F9C3A8"/>
<rect x="1770.96" y="882.80" width="7.38" height="26.76" fill="#76B4D5"/>
<rect x="1778.04" y="882.80" width="7.38" height="26.76" fill="#F9ECE4"/>
<rect x="1785.12" y="882.80" width="7.38" height="26.76" fill="#D4E6F1"/>
<rect x="1792.20" y="882.80" width="7.08" height="26.76" fill="#F9ECE4"/>
<rect x="1084.30" y="909.26" width="42.77" height="26.76" fill="#B8D8E9"/>
<rect x="1126.77" y="909.26" width="7.38" height="26.76" fill="#D4E6F1"/>
<rect x="1133.85" y="909.26" width="28.62" height="26.76" fill="#B8D8E9"/>
<rect x="1162.17" y="909.26" width="7.38" height="26.76" fill="#FCDFCE"/>
<rect x="1169.25" y="909.26" width="7.38" height="26.76" fill="#D4E6F1"/>
<rect x="1176.33" y="909.26" width="7.38" height="26.76" fill="#B8D8E9"/>
<rect x="1183.41" y="909.26" width="7.38" height="26.76" fill="#98C8E0"/>
<rect x="1190.48" y="909.26" width="14.46" height="26.76" fill="#B8D8E9"/>
<rect x="1204.64" y="909.26" width="7.38" height="26.76" fill="#4796C4"/>
<rect x="1211.72" y="909.26" width="14.46" height="26.76" fill="#E5EEF4"/>
<rect x="1225.88" y="909.26" width="28.62" height="26.76" fill="#F3F5F6"/>
<rect x="1254.20" y="909.26" width="7.38" height="26.76" fill="#F9ECE4"/>
<rect x="1261.27" y="909.26" width="7.38" height="26.76" fill="#E5EEF4"/>
<rect x="1268.35" y="909.26" width="7.38" height="26.76" fill="#F9ECE4"/>
<rect x="1275.43" y="909.26" width="14.46" height="26.76" fill="#F3F5F6"/>
<rect x="1289.59" y="909.26" width="7.38" height="26.76" fill="#F9ECE4"/>
<rect x="1296.67" y="909.26" width="7.38" height="26.76" fill="#F3F5F6"/>
<rect x="1303.75" y="909.26" width="7.38" height="26.76" fill="#FCDFCE"/>
<rect x="1310.83" y="909.26" width="7.38" height="26.76" fill="#E5EEF4"/>
<rect x="1317.91" y="909.26" width="7.38" height="26.76" fill="#FCDFCE"/>
<rect x="1324.99" y="909.26" width="14.46" height="26.76" fill="#B8D8E9"/>
<rect x="1339.14" y="909.26" width="7.38" height="26.76" fill="#E5EEF4"/>
<rect x="1346.22" y="909.26" width="7.38" height="26.76" fill="#F3F5F6"/>
<rect x="1353.30" y="909.26" width="7.38" height="26.76" fill="#B8D8E9"/>
<rect x="1360.38" y="909.26" width="7.38" height="26.76" fill="#E5EEF4"/>
<rect x="1367.46" y="909.26" width="7.38" height="26.76" fill="#F9ECE4"/>
<rect x="1374.54" y="909.26" width="7.38" height="26.76" fill="#F3F5F6"/>
<rect x="1381.62" y="909.26" width="7.38" height="26.76" fill="#B8D8E9"/>
<rect x="1388.70" y="909.26" width="14.46" height="26.76" fill="#FCDFCE"/>
<rect x="1402.86" y="909.26" width="7.38" height="26.76" fill="#E5EEF4"/>
<rect x="1409.93" y="909.26" width="7.38" height="26.76" fill="#F3F5F6"/>
<rect x="1417.01" y="909.26" width="7.38" height="26.76" fill="#F9ECE4"/>
<rect x="1424.09" y="909.26" width="7.38" height="26.76" fill="#F2A27F"/>
<rect x="1431.17" y="909.26" width="7.38" height="26.76" fill="#F3F5F6"/>
<rect x="1438.25" y="909.26" width="7.38" height="26.76" fill="#D4E6F1"/>
<rect x="1445.33" y="909.26" width="7.38" height="26.76" fill="#E5EEF4"/>
<rect x="1452.41" y="909.26" width="7.38" height="26.76" fill="#FCDFCE"/>
<rect x="1459.49" y="909.26" width="7.38" height="26.76" fill="#E5EEF4"/>
<rect x="1466.57" y="909.26" width="7.38" height="26.76" fill="#F9C3A8"/>
<rect x="1473.64" y="909.26" width="7.38" height="26.76" fill="#F3F5F6"/>
<rect x="1480.72" y="909.26" width="7.38" height="26.76" fill="#F9ECE4"/>
<rect x="1487.80" y="909.26" width="7.38" height="26.76" fill="#B8D8E9"/>
<rect x="1494.88" y="909.26" width="14.46" height="26.76" fill="#E5EEF4"/>
<rect x="1509.04" y="909.26" width="7.38" height="26.76" fill="#B8D8E9"/>
<rect x="1516.12" y="909.26" width="7.38" height="26.76" fill="#D4E6F1"/>
<rect x="1523.20" y="909.26" width="7.38" height="26.76" fill="#F3F5F6"/>
<rect x="1530.28" y="909.26" width="7.38" height="26.76" fill="#98C8E0"/>
<rect x="1537.36" y="909.26" width="7.38" height="26.76" fill="#E5EEF4"/>
<rect x="1544.43" y="909.26" width="14.46" height="26.76" fill="#F9ECE4"/>
<rect x="1558.59" y="909.26" width="7.38" height="26.76" fill="#FCDFCE"/>
<rect x="1565.67" y="909.26" width="7.38" height="26.76" fill="#F9C3A8"/>
<rect x="1572.75" y="909.26" width="7.38" height="26.76" fill="#FCDFCE"/>
<rect x="1579.83" y="909.26" width="7.38" height="26.76" fill="#F9ECE4"/>
<rect x="1586.91" y="909.26" width="7.38" height="26.76" fill="#FCDFCE"/>
<rect x="1593.99" y="909.26" width="7.38" height="26.76" fill="#F9ECE4"/>
<rect x="1601.07" y="909.26" width="14.46" height="26.76" fill="#F2A27F"/>
<rect x="1615.22" y="909.26" width="7.38" height="26.76" fill="#FCDFCE"/>
<rect x="1622.30" y="909.26" width="7.38" height="26.76" fill="#F3F5F6"/>
<rect x="1629.38" y="909.26" width="7.38" height="26.76" fill="#B8D8E9"/>
<rect x="1636.46" y="909.26" width="7.38" height="26.76" fill="#D4E6F1"/>
<rect x="1643.54" y="909.26" width="7.38" height="26.76" fill="#F9ECE4"/>
<rect x="1650.62" y="909.26" width="14.46" height="26.76" fill="#F3F5F6"/>
<rect x="1664.78" y="909.26" width="7.38" height="26.76" fill="#E5EEF4"/>
<rect x="1671.86" y="909.26" width="7.38" height="26.76" fill="#D4E6F1"/>
<rect x="1678.94" y="909.26" width="7.38" height="26.76" fill="#B8D8E9"/>
<rect x="1686.01" y="909.26" width="7.38" height="26.76" fill="#F2A27F"/>
<rect x="1693.09" y="909.26" width="7.38" height="26.76" fill="#F9ECE4"/>
<rect x="1700.17" y="909.26" width="7.38" height="26.76" fill="#F9C3A8"/>
<rect x="1707.25" y="909.26" width="7.38" height="26.76" fill="#F9ECE4"/>
<rect x="1714.33" y="909.26" width="7.38" height="26.76" fill="#E58268"/>
<rect x="1721.41" y="909.26" width="7.38" height="26.76" fill="#F2A27F"/>
<rect x="1728.49" y="909.26" width="7.38" height="26.76" fill="#F9C3A8"/>
<rect x="1735.57" y="909.26" width="7.38" height="26.76" fill="#F9ECE4"/>
<rect x="1742.65" y="909.26" width="7.38" height="26.76" fill="#F2A27F"/>
<rect x="1749.73" y="909.26" width="28.62" height="26.76" fill="#FCDFCE"/>
<rect x="1778.04" y="909.26" width="7.38" height="26.76" fill="#E58268"/>
<rect x="1785.12" y="909.26" width="14.16" height="26.76" fill="#F9C3A8"/>
<rect x="1084.30" y="935.72" width="7.38" height="26.76" fill="#B8D8E9"/>
<rect x="1091.38" y="935.72" width="7.38" height="26.76" fill="#D4E6F1"/>
<rect x="1098.46" y="935.72" width="7.38" height="26.76" fill="#76B4D5"/>
<rect x="1105.54" y="935.72" width="7.38" height="26.76" fill="#B8D8E9"/>
<rect x="1112.62" y="935.72" width="7.38" height="26.76" fill="#F3F5F6"/>
<rect x="1119.69" y="935.72" width="7.38" height="26.76" fill="#98C8E0"/>
<rect x="1126.77" y="935.72" width="7.38" height="26.76" fill="#B8D8E9"/>
<rect x="1133.85" y="935.72" width="7.38" height="26.76" fill="#E5EEF4"/>
<rect x="1140.93" y="935.72" width="7.38" height="26.76" fill="#D4E6F1"/>
<rect x="1148.01" y="935.72" width="7.38" height="26.76" fill="#F3F5F6"/>
<rect x="1155.09" y="935.72" width="14.46" height="26.76" fill="#D4E6F1"/>
<rect x="1169.25" y="935.72" width="21.54" height="26.76" fill="#B8D8E9"/>
<rect x="1190.48" y="935.72" width="14.46" height="26.76" fill="#98C8E0"/>
<rect x="1204.64" y="935.72" width="7.38" height="26.76" fill="#F3F5F6"/>
<rect x="1211.72" y="935.72" width="21.54" height="26.76" fill="#D4E6F1"/>
<rect x="1232.96" y="935.72" width="14.46" height="26.76" fill="#E5EEF4"/>
<rect x="1247.12" y="935.72" width="7.38" height="26.76" fill="#B8D8E9"/>
<rect x="1254.20" y="935.72" width="7.38" height="26.76" fill="#98C8E0"/>
<rect x="1261.27" y="935.72" width="7.38" height="26.76" fill="#F3F5F6"/>
<rect x="1268.35" y="935.72" width="7.38" height="26.76" fill="#D4E6F1"/>
<rect x="1275.43" y="935.72" width="7.38" height="26.76" fill="#F3F5F6"/>
<rect x="1282.51" y="935.72" width="7.38" height="26.76" fill="#E5EEF4"/>
<rect x="1289.59" y="935.72" width="7.38" height="26.76" fill="#F3F5F6"/>
<rect x="1296.67" y="935.72" width="14.46" height="26.76" fill="#D4E6F1"/>
<rect x="1310.83" y="935.72" width="7.38" height="26.76" fill="#F9ECE4"/>
<rect x="1317.91" y="935.72" width="7.38" height="26.76" fill="#FCDFCE"/>
<rect x="1324.99" y="935.72" width="7.38" height="26.76" fill="#B8D8E9"/>
<rect x="1332.07" y="935.72" width="7.38" height="26.76" fill="#F3F5F6"/>
<rect x="1339.14" y="935.72" width="7.38" height="26.76" fill="#D4E6F1"/>
<rect x="1346.22" y="935.72" width="7.38" height="26.76" fill="#E5EEF4"/>
<rect x="1353.30" y="935.72" width="7.38" height="26.76" fill="#D4E6F1"/>
<rect x="1360.38" y="935.72" width="7.38" height="26.76" fill="#76B4D5"/>
<rect x="1367.46" y="935.72" width="14.46" height="26.76" fill="#B8D8E9"/>
<rect x="1381.62" y="935.72" width="7.38" height="26.76" fill="#D4E6F1"/>
<rect x="1388.70" y="935.72" width="14.46" height="26.76" fill="#E5EEF4"/>
<rect x="1402.86" y="935.72" width="7.38" height="26.76" fill="#D4E6F1"/>
<rect x="1409.93" y="935.72" width="7.38" height="26.76" fill="#B8D8E9"/>
<rect x="1417.01" y="935.72" width="7.38" height="26.76" fill="#E5EEF4"/>
<rect x="1424.09" y="935.72" width="14.46" height="26.76" fill="#F9ECE4"/>
<rect x="1438.25" y="935.72" width="7.38" height="26.76" fill="#F3F5F6"/>
<rect x="1445.33" y="935.72" width="7.38" height="26.76" fill="#E5EEF4"/>
<rect x="1452.41" y="935.72" width="7.38" height="26.76" fill="#F9C3A8"/>
<rect x="1459.49" y="935.72" width="7.38" height="26.76" fill="#F9ECE4"/>
<rect x="1466.57" y="935.72" width="7.38" height="26.76" fill="#F2A27F"/>
<rect x="1473.64" y="935.72" width="7.38" height="26.76" fill="#D4E6F1"/>
<rect x="1480.72" y="935.72" width="14.46" height="26.76" fill="#F3F5F6"/>
<rect x="1494.88" y="935.72" width="7.38" height="26.76" fill="#D4E6F1"/>
<rect x="1501.96" y="935.72" width="7.38" height="26.76" fill="#F3F5F6"/>
<rect x="1509.04" y="935.72" width="14.46" height="26.76" fill="#F9ECE4"/>
<rect x="1523.20" y="935.72" width="7.38" height="26.76" fill="#F3F5F6"/>
<rect x="1530.28" y="935.72" width="7.38" height="26.76" fill="#FCDFCE"/>
<rect x="1537.36" y="935.72" width="7.38" height="26.76" fill="#F9ECE4"/>
<rect x="1544.43" y="935.72" width="7.38" height="26.76" fill="#F9C3A8"/>
<rect x="1551.51" y="935.72" width="7.38" height="26.76" fill="#F3F5F6"/>
<rect x="1558.59" y="935.72" width="7.38" height="26.76" fill="#E5EEF4"/>
<rect x="1565.67" y="935.72" width="7.38" height="26.76" fill="#F3F5F6"/>
<rect x="1572.75" y="935.72" width="14.46" height="26.76" fill="#F9ECE4"/>
<rect x="1586.91" y="935.72" width="7.38" height="26.76" fill="#FCDFCE"/>
<rect x="1593.99" y="935.72" width="7.38" height="26.76" fill="#F9ECE4"/>
<rect x="1601.07" y="935.72" width="7.38" height="26.76" fill="#E58268"/>
<rect x="1608.15" y="935.72" width="7.38" height="26.76" fill="#F3F5F6"/>
<rect x="1615.22" y="935.72" width="7.38" height="26.76" fill="#F9ECE4"/>
<rect x="1622.30" y="935.72" width="7.38" height="26.76" fill="#E5EEF4"/>
<rect x="1629.38" y="935.72" width="14.46" height="26.76" fill="#F3F5F6"/>
<rect x="1643.54" y="935.72" width="7.38" height="26.76" fill="#FCDFCE"/>
<rect x="1650.62" y="935.72" width="7.38" height="26.76" fill="#E5EEF4"/>
<rect x="1657.70" y="935.72" width="7.38" height="26.76" fill="#F9ECE4"/>
<rect x="1664.78" y="935.72" width="7.38" height="26.76" fill="#F3F5F6"/>
<rect x="1671.86" y="935.72" width="7.38" height="26.76" fill="#FCDFCE"/>
<rect x="1678.94" y="935.72" width="7.38" height="26.76" fill="#F3F5F6"/>
<rect x="1686.01" y="935.72" width="14.46" height="26.76" fill="#FCDFCE"/>
<rect x="1700.17" y="935.72" width="7.38" height="26.76" fill="#F9C3A8"/>
<rect x="1707.25" y="935.72" width="14.46" height="26.76" fill="#F2A27F"/>
<rect x="1721.41" y="935.72" width="7.38" height="26.76" fill="#E58268"/>
<rect x="1728.49" y="935.72" width="7.38" height="26.76" fill="#F2A27F"/>
<rect x="1735.57" y="935.72" width="14.46" height="26.76" fill="#FCDFCE"/>
<rect x="1749.73" y="935.72" width="7.38" height="26.76" fill="#F9ECE4"/>
<rect x="1756.80" y="935.72" width="14.46" height="26.76" fill="#F9C3A8"/>
<rect x="1770.96" y="935.72" width="7.38" height="26.76" fill="#F9ECE4"/>
<rect x="1778.04" y="935.72" width="7.38" height="26.76" fill="#F2A27F"/>
<rect x="1785.12" y="935.72" width="7.38" height="26.76" fill="#F9C3A8"/>
<rect x="1792.20" y="935.72" width="7.08" height="26.76" fill="#E58268"/>
<rect x="1084.30" y="962.18" width="7.38" height="26.76" fill="#B8D8E9"/>
<rect x="1091.38" y="962.18" width="7.38" height="26.76" fill="#E5EEF4"/>
<rect x="1098.46" y="962.18" width="21.54" height="26.76" fill="#B8D8E9"/>
<rect x="1119.69" y="962.18" width="7.38" height="26.76" fill="#76B4D5"/>
<rect x="1126.77" y="962.18" width="7.38" height="26.76" fill="#98C8E0"/>
<rect x="1133.85" y="962.18" width="7.38" height="26.76" fill="#B8D8E9"/>
<rect x="1140.93" y="962.18" width="7.38" height="26.76" fill="#98C8E0"/>
<rect x="1148.01" y="962.18" width="7.38" height="26.76" fill="#B8D8E9"/>
<rect x="1155.09" y="962.18" width="7.38" height="26.76" fill="#D4E6F1"/>
<rect x="1162.17" y="962.18" width="7.38" height="26.76" fill="#B8D8E9"/>
<rect x="1169.25" y="962.18" width="7.38" height="26.76" fill="#F9ECE4"/>
<rect x="1176.33" y="962.18" width="21.54" height="26.76" fill="#B8D8E9"/>
<rect x="1197.56" y="962.18" width="7.38" height="26.76" fill="#D4E6F1"/>
<rect x="1204.64" y="962.18" width="14.46" height="26.76" fill="#E5EEF4"/>
<rect x="1218.80" y="962.18" width="7.38" height="26.76" fill="#D4E6F1"/>
<rect x="1225.88" y="962.18" width="7.38" height="26.76" fill="#E5EEF4"/>
<rect x="1232.96" y="962.18" width="7.38" height="26.76" fill="#B8D8E9"/>
<rect x="1240.04" y="962.18" width="7.38" height="26.76" fill="#F3F5F6"/>
<rect x="1247.12" y="962.18" width="7.38" height="26.76" fill="#F2A27F"/>
<rect x="1254.20" y="962.18" width="7.38" height="26.76" fill="#B8D8E9"/>
<rect x="1261.27" y="962.18" width="7.38" height="26.76" fill="#FCDFCE"/>
<rect x="1268.35" y="962.18" width="7.38" height="26.76" fill="#D4E6F1"/>
<rect x="1275.43" y="962.18" width="7.38" height="26.76" fill="#E5EEF4"/>
<rect x="1282.51" y="962.18" width="14.46" height="26.76" fill="#F3F5F6"/>
<rect x="1296.67" y="962.18" width="14.46" height="26.76" fill="#F2A27F"/>
<rect x="1310.83" y="962.18" width="7.38" height="26.76" fill="#F9C3A8"/>
<rect x="1317.91" y="962.18" width="7.38" height="26.76" fill="#E58268"/>
<rect x="1324.99" y="962.18" width="7.38" height="26.76" fill="#FCDFCE"/>
<rect x="1332.07" y="962.18" width="7.38" height="26.76" fill="#F9ECE4"/>
<rect x="1339.14" y="962.18" width="7.38" height="26.76" fill="#E5EEF4"/>
<rect x="1346.22" y="962.18" width="7.38" height="26.76" fill="#B8D8E9"/>
<rect x="1353.30" y="962.18" width="7.38" height="26.76" fill="#E5EEF4"/>
<rect x="1360.38" y="962.18" width="7.38" height="26.76" fill="#F9C3A8"/>
<rect x="1367.46" y="962.18" width="14.46" height="26.76" fill="#F3F5F6"/>
<rect x="1381.62" y="962.18" width="14.46" height="26.76" fill="#E5EEF4"/>
<rect x="1395.78" y="962.18" width="7.38" height="26.76" fill="#F9C3A8"/>
<rect x="1402.86" y="962.18" width="14.46" height="26.76" fill="#D4E6F1"/>
<rect x="1417.01" y="962.18" width="7.38" height="26.76" fill="#F9ECE4"/>
<rect x="1424.09" y="962.18" width="7.38" height="26.76" fill="#E5EEF4"/>
<rect x="1431.17" y="962.18" width="7.38" height="26.76" fill="#FCDFCE"/>
<rect x="1438.25" y="962.18" width="7.38" height="26.76" fill="#F9C3A8"/>
<rect x="1445.33" y="962.18" width="7.38" height="26.76" fill="#B8D8E9"/>
<rect x="1452.41" y="962.18" width="21.54" height="26.76" fill="#F9ECE4"/>
<rect x="1473.64" y="962.18" width="7.38" height="26.76" fill="#FCDFCE"/>
<rect x="1480.72" y="962.18" width="7.38" height="26.76" fill="#F3F5F6"/>
<rect x="1487.80" y="962.18" width="7.38" height="26.76" fill="#F9C3A8"/>
<rect x="1494.88" y="962.18" width="7.38" height="26.76" fill="#F9ECE4"/>
<rect x="1501.96" y="962.18" width="7.38" height="26.76" fill="#F3F5F6"/>
<rect x="1509.04" y="962.18" width="7.38" height="26.76" fill="#E5EEF4"/>
<rect x="1516.12" y="962.18" width="7.38" height="26.76" fill="#F3F5F6"/>
<rect x="1523.20" y="962.18" width="7.38" height="26.76" fill="#F9ECE4"/>
<rect x="1530.28" y="962.18" width="7.38" height="26.76" fill="#D4E6F1"/>
<rect x="1537.36" y="962.18" width="7.38" height="26.76" fill="#F9ECE4"/>
<rect x="1544.43" y="962.18" width="7.38" height="26.76" fill="#FCDFCE"/>
<rect x="1551.51" y="962.18" width="7.38" height="26.76" fill="#F9C3A8"/>
<rect x="1558.59" y="962.18" width="7.38" height="26.76" fill="#E58268"/>
<rect x="1565.67" y="962.18" width="7.38" height="26.76" fill="#E5EEF4"/>
<rect x="1572.75" y="962.18" width="7.38" height="26.76" fill="#FCDFCE"/>
<rect x="1579.83" y="962.18" width="7.38" height="26.76" fill="#F9ECE4"/>
<rect x="1586.91" y="962.18" width="7.38" height="26.76" fill="#F3F5F6"/>
<rect x="1593.99" y="962.18" width="7.38" height="26.76" fill="#E5EEF4"/>
<rect x="1601.07" y="962.18" width="7.38" height="26.76" fill="#F9C3A8"/>
<rect x="1608.15" y="962.18" width="7.38" height="26.76" fill="#E58268"/>
<rect x="1615.22" y="962.18" width="7.38" height="26.76" fill="#FCDFCE"/>
<rect x="1622.30" y="962.18" width="7.38" height="26.76" fill="#E5EEF4"/>
<rect x="1629.38" y="962.18" width="7.38" height="26.76" fill="#D4E6F1"/>
<rect x="1636.46" y="962.18" width="14.46" height="26.76" fill="#98C8E0"/>
<rect x="1650.62" y="962.18" width="7.38" height="26.76" fill="#D4E6F1"/>
<rect x="1657.70" y="962.18" width="7.38" height="26.76" fill="#E5EEF4"/>
<rect x="1664.78" y="962.18" width="7.38" height="26.76" fill="#D4E6F1"/>
<rect x="1671.86" y="962.18" width="7.38" height="26.76" fill="#B8D8E9"/>
<rect x="1678.94" y="962.18" width="7.38" height="26.76" fill="#E5EEF4"/>
<rect x="1686.01" y="962.18" width="7.38" height="26.76" fill="#FCDFCE"/>
<rect x="1693.09" y="962.18" width="7.38" height="26.76" fill="#E5EEF4"/>
<rect x="1700.17" y="962.18" width="14.46" height="26.76" fill="#F3F5F6"/>
<rect x="1714.33" y="962.18" width="7.38" height="26.76" fill="#E58268"/>
<rect x="1721.41" y="962.18" width="7.38" height="26.76" fill="#F9ECE4"/>
<rect x="1728.49" y="962.18" width="7.38" height="26.76" fill="#FCDFCE"/>
<rect x="1735.57" y="962.18" width="7.38" height="26.76" fill="#E58268"/>
<rect x="1742.65" y="962.18" width="7.38" height="26.76" fill="#FCDFCE"/>
<rect x="1749.73" y="962.18" width="7.38" height="26.76" fill="#F3F5F6"/>
<rect x="1756.80" y="962.18" width="7.38" height="26.76" fill="#FCDFCE"/>
<rect x="1763.88" y="962.18" width="7.38" height="26.76" fill="#F9ECE4"/>
<rect x="1770.96" y="962.18" width="7.38" height="26.76" fill="#FCDFCE"/>
<rect x="1778.04" y="962.18" width="7.38" height="26.76" fill="#F9ECE4"/>
<rect x="1785.12" y="962.18" width="7.38" height="26.76" fill="#F3F5F6"/>
<rect x="1792.20" y="962.18" width="7.08" height="26.76" fill="#D4E6F1"/>
<rect x="1084.30" y="988.64" width="7.38" height="26.76" fill="#F9ECE4"/>
<rect x="1091.38" y="988.64" width="7.38" height="26.76" fill="#FCDFCE"/>
<rect x="1098.46" y="988.64" width="14.46" height="26.76" fill="#F3F5F6"/>
<rect x="1112.62" y="988.64" width="7.38" height="26.76" fill="#F9ECE4"/>
<rect x="1119.69" y="988.64" width="7.38" height="26.76" fill="#E5EEF4"/>
<rect x="1126.77" y="988.64" width="7.38" height="26.76" fill="#D4E6F1"/>
<rect x="1133.85" y="988.64" width="7.38" height="26.76" fill="#E5EEF4"/>
<rect x="1140.93" y="988.64" width="7.38" height="26.76" fill="#B8D8E9"/>
<rect x="1148.01" y="988.64" width="7.38" height="26.76" fill="#D4E6F1"/>
<rect x="1155.09" y="988.64" width="7.38" height="26.76" fill="#F9ECE4"/>
<rect x="1162.17" y="988.64" width="7.38" height="26.76" fill="#D4E6F1"/>
<rect x="1169.25" y="988.64" width="7.38" height="26.76" fill="#E5EEF4"/>
<rect x="1176.33" y="988.64" width="7.38" height="26.76" fill="#D4E6F1"/>
<rect x="1183.41" y="988.64" width="7.38" height="26.76" fill="#E5EEF4"/>
<rect x="1190.48" y="988.64" width="21.54" height="26.76" fill="#B8D8E9"/>
<rect x="1211.72" y="988.64" width="14.46" height="26.76" fill="#98C8E0"/>
<rect x="1225.88" y="988.64" width="7.38" height="26.76" fill="#76B4D5"/>
<rect x="1232.96" y="988.64" width="7.38" height="26.76" fill="#B8D8E9"/>
<rect x="1240.04" y="988.64" width="7.38" height="26.76" fill="#D4E6F1"/>
<rect x="1247.12" y="988.64" width="7.38" height="26.76" fill="#B8D8E9"/>
<rect x="1254.20" y="988.64" width="14.46" height="26.76" fill="#76B4D5"/>
<rect x="1268.35" y="988.64" width="7.38" height="26.76" fill="#E5EEF4"/>
<rect x="1275.43" y="988.64" width="7.38" height="26.76" fill="#B8D8E9"/>
<rect x="1282.51" y="988.64" width="7.38" height="26.76" fill="#F3F5F6"/>
<rect x="1289.59" y="988.64" width="7.38" height="26.76" fill="#D4E6F1"/>
<rect x="1296.67" y="988.64" width="7.38" height="26.76" fill="#E5EEF4"/>
<rect x="1303.75" y="988.64" width="14.46" height="26.76" fill="#B8D8E9"/>
<rect x="1317.91" y="988.64" width="7.38" height="26.76" fill="#E5EEF4"/>
<rect x="1324.99" y="988.64" width="7.38" height="26.76" fill="#347FB9"/>
<rect x="1332.07" y="988.64" width="7.38" height="26.76" fill="#B8D8E9"/>
<rect x="1339.14" y="988.64" width="7.38" height="26.76" fill="#76B4D5"/>
<rect x="1346.22" y="988.64" width="7.38" height="26.76" fill="#B8D8E9"/>
<rect x="1353.30" y="988.64" width="7.38" height="26.76" fill="#D4E6F1"/>
<rect x="1360.38" y="988.64" width="7.38" height="26.76" fill="#76B4D5"/>
<rect x="1367.46" y="988.64" width="7.38" height="26.76" fill="#E5EEF4"/>
<rect x="1374.54" y="988.64" width="7.38" height="26.76" fill="#D4E6F1"/>
<rect x="1381.62" y="988.64" width="7.38" height="26.76" fill="#E5EEF4"/>
<rect x="1388.70" y="988.64" width="7.38" height="26.76" fill="#D4E6F1"/>
<rect x="1395.78" y="988.64" width="14.46" height="26.76" fill="#E5EEF4"/>
<rect x="1409.93" y="988.64" width="28.62" height="26.76" fill="#FCDFCE"/>
<rect x="1438.25" y="988.64" width="7.38" height="26.76" fill="#F9C3A8"/>
<rect x="1445.33" y="988.64" width="7.38" height="26.76" fill="#E5EEF4"/>
<rect x="1452.41" y="988.64" width="7.38" height="26.76" fill="#F3F5F6"/>
<rect x="1459.49" y="988.64" width="7.38" height="26.76" fill="#D4E6F1"/>
<rect x="1466.57" y="988.64" width="7.38" height="26.76" fill="#F9C3A8"/>
<rect x="1473.64" y="988.64" width="7.38" height="26.76" fill="#F3F5F6"/>
<rect x="1480.72" y="988.64" width="21.54" height="26.76" fill="#F9ECE4"/>
<rect x="1501.96" y="988.64" width="7.38" height="26.76" fill="#FCDFCE"/>
<rect x="1509.04" y="988.64" width="21.54" height="26.76" fill="#F9ECE4"/>
<rect x="1530.28" y="988.64" width="7.38" height="26.76" fill="#F3F5F6"/>
<rect x="1537.36" y="988.64" width="7.38" height="26.76" fill="#B8D8E9"/>
<rect x="1544.43" y="988.64" width="7.38" height="26.76" fill="#F3F5F6"/>
<rect x="1551.51" y="988.64" width="7.38" height="26.76" fill="#FCDFCE"/>
<rect x="1558.59" y="988.64" width="7.38" height="26.76" fill="#F9C3A8"/>
<rect x="1565.67" y="988.64" width="7.38" height="26.76" fill="#FCDFCE"/>
<rect x="1572.75" y="988.64" width="7.38" height="26.76" fill="#F9ECE4"/>
<rect x="1579.83" y="988.64" width="7.38" height="26.76" fill="#F9C3A8"/>
<rect x="1586.91" y="988.64" width="28.62" height="26.76" fill="#FCDFCE"/>
<rect x="1615.22" y="988.64" width="7.38" height="26.76" fill="#F9C3A8"/>
<rect x="1622.30" y="988.64" width="21.54" height="26.76" fill="#FCDFCE"/>
<rect x="1643.54" y="988.64" width="7.38" height="26.76" fill="#F9ECE4"/>
<rect x="1650.62" y="988.64" width="7.38" height="26.76" fill="#F3F5F6"/>
<rect x="1657.70" y="988.64" width="7.38" height="26.76" fill="#FCDFCE"/>
<rect x="1664.78" y="988.64" width="7.38" height="26.76" fill="#F9C3A8"/>
<rect x="1671.86" y="988.64" width="7.38" height="26.76" fill="#E5EEF4"/>
<rect x="1678.94" y="988.64" width="14.46" height="26.76" fill="#FCDFCE"/>
<rect x="1693.09" y="988.64" width="21.54" height="26.76" fill="#F9C3A8"/>
<rect x="1714.33" y="988.64" width="7.38" height="26.76" fill="#F9ECE4"/>
<rect x="1721.41" y="988.64" width="7.38" height="26.76" fill="#FCDFCE"/>
<rect x="1728.49" y="988.64" width="7.38" height="26.76" fill="#F2A27F"/>
<rect x="1735.57" y="988.64" width="7.38" height="26.76" fill="#FCDFCE"/>
<rect x="1742.65" y="988.64" width="28.62" height="26.76" fill="#F9C3A8"/>
<rect x="1770.96" y="988.64" width="7.38" height="26.76" fill="#D4E6F1"/>
<rect x="1778.04" y="988.64" width="7.38" height="26.76" fill="#FCDFCE"/>
<rect x="1785.12" y="988.64" width="14.16" height="26.76" fill="#F2A27F"/>
<rect x="1084.30" y="1015.10" width="28.62" height="26.76" fill="#F3F5F6"/>
<rect x="1112.62" y="1015.10" width="7.38" height="26.76" fill="#F9ECE4"/>
<rect x="1119.69" y="1015.10" width="14.46" height="26.76" fill="#D4E6F1"/>
<rect x="1133.85" y="1015.10" width="7.38" height="26.76" fill="#F3F5F6"/>
<rect x="1140.93" y="1015.10" width="14.46" height="26.76" fill="#B8D8E9"/>
<rect x="1155.09" y="1015.10" width="7.38" height="26.76" fill="#F3F5F6"/>
<rect x="1162.17" y="1015.10" width="7.38" height="26.76" fill="#D4E6F1"/>
<rect x="1169.25" y="1015.10" width="7.38" height="26.76" fill="#E5EEF4"/>
<rect x="1176.33" y="1015.10" width="28.62" height="26.76" fill="#D4E6F1"/>
<rect x="1204.64" y="1015.10" width="14.46" height="26.76" fill="#B8D8E9"/>
<rect x="1218.80" y="1015.10" width="7.38" height="26.76" fill="#D4E6F1"/>
<rect x="1225.88" y="1015.10" width="7.38" height="26.76" fill="#B8D8E9"/>
<rect x="1232.96" y="1015.10" width="7.38" height="26.76" fill="#D4E6F1"/>
<rect x="1240.04" y="1015.10" width="7.38" height="26.76" fill="#E5EEF4"/>
<rect x="1247.12" y="1015.10" width="7.38" height="26.76" fill="#D4E6F1"/>
<rect x="1254.20" y="1015.10" width="14.46" height="26.76" fill="#76B4D5"/>
<rect x="1268.35" y="1015.10" width="7.38" height="26.76" fill="#D4E6F1"/>
<rect x="1275.43" y="1015.10" width="7.38" height="26.76" fill="#B8D8E9"/>
<rect x="1282.51" y="1015.10" width="7.38" height="26.76" fill="#F3F5F6"/>
<rect x="1289.59" y="1015.10" width="7.38" height="26.76" fill="#B8D8E9"/>
<rect x="1296.67" y="1015.10" width="7.38" height="26.76" fill="#D4E6F1"/>
<rect x="1303.75" y="1015.10" width="14.46" height="26.76" fill="#B8D8E9"/>
<rect x="1317.91" y="1015.10" width="7.38" height="26.76" fill="#E5EEF4"/>
<rect x="1324.99" y="1015.10" width="7.38" height="26.76" fill="#98C8E0"/>
<rect x="1332.07" y="1015.10" width="28.62" height="26.76" fill="#B8D8E9"/>
<rect x="1360.38" y="1015.10" width="49.85" height="26.76" fill="#E5EEF4"/>
<rect x="1409.93" y="1015.10" width="35.69" height="26.76" fill="#FCDFCE"/>
<rect x="1445.33" y="1015.10" width="7.38" height="26.76" fill="#347FB9"/>
<rect x="1452.41" y="1015.10" width="7.38" height="26.76" fill="#F3F5F6"/>
<rect x="1459.49" y="1015.10" width="7.38" height="26.76" fill="#D4E6F1"/>
<rect x="1466.57" y="1015.10" width="7.38" height="26.76" fill="#F9C3A8"/>
<rect x="1473.64" y="1015.10" width="14.46" height="26.76" fill="#F3F5F6"/>
<rect x="1487.80" y="1015.10" width="28.62" height="26.76" fill="#F9ECE4"/>
<rect x="1516.12" y="1015.10" width="21.54" height="26.76" fill="#F3F5F6"/>
<rect x="1537.36" y="1015.10" width="7.38" height="26.76" fill="#D4E6F1"/>
<rect x="1544.43" y="1015.10" width="7.38" height="26.76" fill="#F3F5F6"/>
<rect x="1551.51" y="1015.10" width="14.46" height="26.76" fill="#FCDFCE"/>
<rect x="1565.67" y="1015.10" width="7.38" height="26.76" fill="#F9ECE4"/>
<rect x="1572.75" y="1015.10" width="7.38" height="26.76" fill="#E5EEF4"/>
<rect x="1579.83" y="1015.10" width="7.38" height="26.76" fill="#F2A27F"/>
<rect x="1586.91" y="1015.10" width="7.38" height="26.76" fill="#FCDFCE"/>
<rect x="1593.99" y="1015.10" width="21.54" height="26.76" fill="#F9ECE4"/>
<rect x="1615.22" y="1015.10" width="7.38" height="26.76" fill="#F9C3A8"/>
<rect x="1622.30" y="1015.10" width="7.38" height="26.76" fill="#F3F5F6"/>
<rect x="1629.38" y="1015.10" width="7.38" height="26.76" fill="#FCDFCE"/>
<rect x="1636.46" y="1015.10" width="7.38" height="26.76" fill="#F9ECE4"/>
<rect x="1643.54" y="1015.10" width="7.38" height="26.76" fill="#F3F5F6"/>
<rect x="1650.62" y="1015.10" width="7.38" height="26.76" fill="#E5EEF4"/>
<rect x="1657.70" y="1015.10" width="7.38" height="26.76" fill="#FCDFCE"/>
<rect x="1664.78" y="1015.10" width="7.38" height="26.76" fill="#F9C3A8"/>
<rect x="1671.86" y="1015.10" width="7.38" height="26.76" fill="#E5EEF4"/>
<rect x="1678.94" y="1015.10" width="7.38" height="26.76" fill="#F9C3A8"/>
<rect x="1686.01" y="1015.10" width="7.38" height="26.76" fill="#F3F5F6"/>
<rect x="1693.09" y="1015.10" width="14.46" height="26.76" fill="#F9C3A8"/>
<rect x="1707.25" y="1015.10" width="7.38" height="26.76" fill="#F2A27F"/>
<rect x="1714.33" y="1015.10" width="7.38" height="26.76" fill="#F3F5F6"/>
<rect x="1721.41" y="1015.10" width="7.38" height="26.76" fill="#F9ECE4"/>
<rect x="1728.49" y="1015.10" width="7.38" height="26.76" fill="#C8433F"/>
<rect x="1735.57" y="1015.10" width="7.38" height="26.76" fill="#F9C3A8"/>
<rect x="1742.65" y="1015.10" width="7.38" height="26.76" fill="#FCDFCE"/>
<rect x="1749.73" y="1015.10" width="7.38" height="26.76" fill="#F9C3A8"/>
<rect x="1756.80" y="1015.10" width="7.38" height="26.76" fill="#FCDFCE"/>
<rect x="1763.88" y="1015.10" width="7.38" height="26.76" fill="#E58268"/>
<rect x="1770.96" y="1015.10" width="7.38" height="26.76" fill="#E5EEF4"/>
<rect x="1778.04" y="1015.10" width="7.38" height="26.76" fill="#FCDFCE"/>
<rect x="1785.12" y="1015.10" width="7.38" height="26.76" fill="#E58268"/>
<rect x="1792.20" y="1015.10" width="7.08" height="26.76" fill="#F2A27F"/>
<rect x="1084.30" y="1041.56" width="7.38" height="26.76" fill="#E5EEF4"/>
<rect x="1091.38" y="1041.56" width="7.38" height="26.76" fill="#F3F5F6"/>
<rect x="1098.46" y="1041.56" width="21.54" height="26.76" fill="#E5EEF4"/>
<rect x="1119.69" y="1041.56" width="21.54" height="26.76" fill="#B8D8E9"/>
<rect x="1140.93" y="1041.56" width="14.46" height="26.76" fill="#D4E6F1"/>
<rect x="1155.09" y="1041.56" width="7.38" height="26.76" fill="#F9ECE4"/>
<rect x="1162.17" y="1041.56" width="7.38" height="26.76" fill="#B8D8E9"/>
<rect x="1169.25" y="1041.56" width="7.38" height="26.76" fill="#D4E6F1"/>
<rect x="1176.33" y="1041.56" width="14.46" height="26.76" fill="#E5EEF4"/>
<rect x="1190.48" y="1041.56" width="7.38" height="26.76" fill="#F3F5F6"/>
<rect x="1197.56" y="1041.56" width="7.38" height="26.76" fill="#E5EEF4"/>
<rect x="1204.64" y="1041.56" width="7.38" height="26.76" fill="#B8D8E9"/>
<rect x="1211.72" y="1041.56" width="7.38" height="26.76" fill="#F3F5F6"/>
<rect x="1218.80" y="1041.56" width="7.38" height="26.76" fill="#E5EEF4"/>
<rect x="1225.88" y="1041.56" width="7.38" height="26.76" fill="#B8D8E9"/>
<rect x="1232.96" y="1041.56" width="7.38" height="26.76" fill="#F9ECE4"/>
<rect x="1240.04" y="1041.56" width="7.38" height="26.76" fill="#98C8E0"/>
<rect x="1247.12" y="1041.56" width="7.38" height="26.76" fill="#B8D8E9"/>
<rect x="1254.20" y="1041.56" width="7.38" height="26.76" fill="#E5EEF4"/>
<rect x="1261.27" y="1041.56" width="7.38" height="26.76" fill="#B8D8E9"/>
<rect x="1268.35" y="1041.56" width="14.46" height="26.76" fill="#E5EEF4"/>
<rect x="1282.51" y="1041.56" width="7.38" height="26.76" fill="#FCDFCE"/>
<rect x="1289.59" y="1041.56" width="7.38" height="26.76" fill="#D4E6F1"/>
<rect x="1296.67" y="1041.56" width="21.54" height="26.76" fill="#B8D8E9"/>
<rect x="1317.91" y="1041.56" width="7.38" height="26.76" fill="#D4E6F1"/>
<rect x="1324.99" y="1041.56" width="7.38" height="26.76" fill="#76B4D5"/>
<rect x="1332.07" y="1041.56" width="7.38" height="26.76" fill="#B8D8E9"/>
<rect x="1339.14" y="1041.56" width="14.46" height="26.76" fill="#F9ECE4"/>
<rect x="1353.30" y="1041.56" width="7.38" height="26.76" fill="#D4E6F1"/>
<rect x="1360.38" y="1041.56" width="7.38" height="26.76" fill="#B8D8E9"/>
<rect x="1367.46" y="1041.56" width="14.46" height="26.76" fill="#D4E6F1"/>
<rect x="1381.62" y="1041.56" width="7.38" height="26.76" fill="#F3F5F6"/>
<rect x="1388.70" y="1041.56" width="7.38" height="26.76" fill="#E5EEF4"/>
<rect x="1395.78" y="1041.56" width="21.54" height="26.76" fill="#F3F5F6"/>
<rect x="1417.01" y="1041.56" width="7.38" height="26.76" fill="#FCDFCE"/>
<rect x="1424.09" y="1041.56" width="7.38" height="26.76" fill="#E5EEF4"/>
<rect x="1431.17" y="1041.56" width="7.38" height="26.76" fill="#F9ECE4"/>
<rect x="1438.25" y="1041.56" width="7.38" height="26.76" fill="#FCDFCE"/>
<rect x="1445.33" y="1041.56" width="14.46" height="26.76" fill="#F3F5F6"/>
<rect x="1459.49" y="1041.56" width="14.46" height="26.76" fill="#FCDFCE"/>
<rect x="1473.64" y="1041.56" width="7.38" height="26.76" fill="#D4E6F1"/>
<rect x="1480.72" y="1041.56" width="7.38" height="26.76" fill="#E5EEF4"/>
<rect x="1487.80" y="1041.56" width="21.54" height="26.76" fill="#B8D8E9"/>
<rect x="1509.04" y="1041.56" width="7.38" height="26.76" fill="#E5EEF4"/>
<rect x="1516.12" y="1041.56" width="7.38" height="26.76" fill="#D4E6F1"/>
<rect x="1523.20" y="1041.56" width="7.38" height="26.76" fill="#F3F5F6"/>
<rect x="1530.28" y="1041.56" width="7.38" height="26.76" fill="#D4E6F1"/>
<rect x="1537.36" y="1041.56" width="7.38" height="26.76" fill="#F9ECE4"/>
<rect x="1544.43" y="1041.56" width="7.38" height="26.76" fill="#F3F5F6"/>
<rect x="1551.51" y="1041.56" width="7.38" height="26.76" fill="#B8D8E9"/>
<rect x="1558.59" y="1041.56" width="7.38" height="26.76" fill="#E5EEF4"/>
<rect x="1565.67" y="1041.56" width="7.38" height="26.76" fill="#FCDFCE"/>
<rect x="1572.75" y="1041.56" width="7.38" height="26.76" fill="#F3F5F6"/>
<rect x="1579.83" y="1041.56" width="14.46" height="26.76" fill="#D4E6F1"/>
<rect x="1593.99" y="1041.56" width="7.38" height="26.76" fill="#FCDFCE"/>
<rect x="1601.07" y="1041.56" width="7.38" height="26.76" fill="#B8D8E9"/>
<rect x="1608.15" y="1041.56" width="7.38" height="26.76" fill="#D4E6F1"/>
<rect x="1615.22" y="1041.56" width="7.38" height="26.76" fill="#FCDFCE"/>
<rect x="1622.30" y="1041.56" width="7.38" height="26.76" fill="#F9C3A8"/>
<rect x="1629.38" y="1041.56" width="7.38" height="26.76" fill="#FCDFCE"/>
<rect x="1636.46" y="1041.56" width="7.38" height="26.76" fill="#E5EEF4"/>
<rect x="1643.54" y="1041.56" width="7.38" height="26.76" fill="#F9C3A8"/>
<rect x="1650.62" y="1041.56" width="7.38" height="26.76" fill="#F9ECE4"/>
<rect x="1657.70" y="1041.56" width="7.38" height="26.76" fill="#F9C3A8"/>
<rect x="1664.78" y="1041.56" width="7.38" height="26.76" fill="#FCDFCE"/>
<rect x="1671.86" y="1041.56" width="7.38" height="26.76" fill="#F9ECE4"/>
<rect x="1678.94" y="1041.56" width="7.38" height="26.76" fill="#F3F5F6"/>
<rect x="1686.01" y="1041.56" width="7.38" height="26.76" fill="#FCDFCE"/>
<rect x="1693.09" y="1041.56" width="14.46" height="26.76" fill="#F9C3A8"/>
<rect x="1707.25" y="1041.56" width="35.69" height="26.76" fill="#F2A27F"/>
<rect x="1742.65" y="1041.56" width="7.38" height="26.76" fill="#F9C3A8"/>
<rect x="1749.73" y="1041.56" width="7.38" height="26.76" fill="#F3F5F6"/>
<rect x="1756.80" y="1041.56" width="7.38" height="26.76" fill="#F9C3A8"/>
<rect x="1763.88" y="1041.56" width="7.38" height="26.76" fill="#E58268"/>
<rect x="1770.96" y="1041.56" width="7.38" height="26.76" fill="#F2A27F"/>
<rect x="1778.04" y="1041.56" width="7.38" height="26.76" fill="#FCDFCE"/>
<rect x="1785.12" y="1041.56" width="7.38" height="26.76" fill="#F9C3A8"/>
<rect x="1792.20" y="1041.56" width="7.08" height="26.76" fill="#F2A27F"/>
<rect x="1084.30" y="1068.02" width="7.38" height="26.76" fill="#E5EEF4"/>
<rect x="1091.38" y="1068.02" width="7.38" height="26.76" fill="#F3F5F6"/>
<rect x="1098.46" y="1068.02" width="7.38" height="26.76" fill="#E5EEF4"/>
<rect x="1105.54" y="1068.02" width="28.62" height="26.76" fill="#D4E6F1"/>
<rect x="1133.85" y="1068.02" width="7.38" height="26.76" fill="#98C8E0"/>
<rect x="1140.93" y="1068.02" width="7.38" height="26.76" fill="#E5EEF4"/>
<rect x="1148.01" y="1068.02" width="7.38" height="26.76" fill="#D4E6F1"/>
<rect x="1155.09" y="1068.02" width="7.38" height="26.76" fill="#F3F5F6"/>
<rect x="1162.17" y="1068.02" width="7.38" height="26.76" fill="#B8D8E9"/>
<rect x="1169.25" y="1068.02" width="7.38" height="26.76" fill="#E5EEF4"/>
<rect x="1176.33" y="1068.02" width="7.38" height="26.76" fill="#B8D8E9"/>
<rect x="1183.41" y="1068.02" width="7.38" height="26.76" fill="#F3F5F6"/>
<rect x="1190.48" y="1068.02" width="7.38" height="26.76" fill="#E5EEF4"/>
<rect x="1197.56" y="1068.02" width="7.38" height="26.76" fill="#B8D8E9"/>
<rect x="1204.64" y="1068.02" width="7.38" height="26.76" fill="#F3F5F6"/>
<rect x="1211.72" y="1068.02" width="7.38" height="26.76" fill="#B8D8E9"/>
<rect x="1218.80" y="1068.02" width="7.38" height="26.76" fill="#98C8E0"/>
<rect x="1225.88" y="1068.02" width="14.46" height="26.76" fill="#B8D8E9"/>
<rect x="1240.04" y="1068.02" width="14.46" height="26.76" fill="#76B4D5"/>
<rect x="1254.20" y="1068.02" width="7.38" height="26.76" fill="#98C8E0"/>
<rect x="1261.27" y="1068.02" width="7.38" height="26.76" fill="#E5EEF4"/>
<rect x="1268.35" y="1068.02" width="14.46" height="26.76" fill="#F3F5F6"/>
<rect x="1282.51" y="1068.02" width="21.54" height="26.76" fill="#E5EEF4"/>
<rect x="1303.75" y="1068.02" width="21.54" height="26.76" fill="#B8D8E9"/>
<rect x="1324.99" y="1068.02" width="7.38" height="26.76" fill="#F3F5F6"/>
<rect x="1332.07" y="1068.02" width="7.38" height="26.76" fill="#F2A27F"/>
<rect x="1339.14" y="1068.02" width="7.38" height="26.76" fill="#B8D8E9"/>
<rect x="1346.22" y="1068.02" width="7.38" height="26.76" fill="#E5EEF4"/>
<rect x="1353.30" y="1068.02" width="7.38" height="26.76" fill="#D4E6F1"/>
<rect x="1360.38" y="1068.02" width="7.38" height="26.76" fill="#B8D8E9"/>
<rect x="1367.46" y="1068.02" width="7.38" height="26.76" fill="#F9ECE4"/>
<rect x="1374.54" y="1068.02" width="28.62" height="26.76" fill="#F3F5F6"/>
<rect x="1402.86" y="1068.02" width="7.38" height="26.76" fill="#FCDFCE"/>
<rect x="1409.93" y="1068.02" width="7.38" height="26.76" fill="#F9ECE4"/>
<rect x="1417.01" y="1068.02" width="7.38" height="26.76" fill="#E5EEF4"/>
<rect x="1424.09" y="1068.02" width="7.38" height="26.76" fill="#D4E6F1"/>
<rect x="1431.17" y="1068.02" width="7.38" height="26.76" fill="#FCDFCE"/>
<rect x="1438.25" y="1068.02" width="7.38" height="26.76" fill="#F9ECE4"/>
<rect x="1445.33" y="1068.02" width="7.38" height="26.76" fill="#F9C3A8"/>
<rect x="1452.41" y="1068.02" width="7.38" height="26.76" fill="#FCDFCE"/>
<rect x="1459.49" y="1068.02" width="14.46" height="26.76" fill="#E58268"/>
<rect x="1473.64" y="1068.02" width="7.38" height="26.76" fill="#D4E6F1"/>
<rect x="1480.72" y="1068.02" width="7.38" height="26.76" fill="#F3F5F6"/>
<rect x="1487.80" y="1068.02" width="35.69" height="26.76" fill="#E5EEF4"/>
<rect x="1523.20" y="1068.02" width="7.38" height="26.76" fill="#F3F5F6"/>
<rect x="1530.28" y="1068.02" width="7.38" height="26.76" fill="#F9ECE4"/>
<rect x="1537.36" y="1068.02" width="7.38" height="26.76" fill="#F3F5F6"/>
<rect x="1544.43" y="1068.02" width="7.38" height="26.76" fill="#F9ECE4"/>
<rect x="1551.51" y="1068.02" width="7.38" height="26.76" fill="#B8D8E9"/>
<rect x="1558.59" y="1068.02" width="7.38" height="26.76" fill="#D4E6F1"/>
<rect x="1565.67" y="1068.02" width="7.38" height="26.76" fill="#F9ECE4"/>
<rect x="1572.75" y="1068.02" width="7.38" height="26.76" fill="#FCDFCE"/>
<rect x="1579.83" y="1068.02" width="7.38" height="26.76" fill="#F9ECE4"/>
<rect x="1586.91" y="1068.02" width="7.38" height="26.76" fill="#F3F5F6"/>
<rect x="1593.99" y="1068.02" width="7.38" height="26.76" fill="#FCDFCE"/>
<rect x="1601.07" y="1068.02" width="14.46" height="26.76" fill="#F9ECE4"/>
<rect x="1615.22" y="1068.02" width="7.38" height="26.76" fill="#F9C3A8"/>
<rect x="1622.30" y="1068.02" width="14.46" height="26.76" fill="#D4E6F1"/>
<rect x="1636.46" y="1068.02" width="7.38" height="26.76" fill="#FCDFCE"/>
<rect x="1643.54" y="1068.02" width="7.38" height="26.76" fill="#F3F5F6"/>
<rect x="1650.62" y="1068.02" width="7.38" height="26.76" fill="#F9C3A8"/>
<rect x="1657.70" y="1068.02" width="7.38" height="26.76" fill="#F2A27F"/>
<rect x="1664.78" y="1068.02" width="7.38" height="26.76" fill="#F9ECE4"/>
<rect x="1671.86" y="1068.02" width="7.38" height="26.76" fill="#F3F5F6"/>
<rect x="1678.94" y="1068.02" width="7.38" height="26.76" fill="#F9C3A8"/>
<rect x="1686.01" y="1068.02" width="7.38" height="26.76" fill="#E5EEF4"/>
<rect x="1693.09" y="1068.02" width="14.46" height="26.76" fill="#F9ECE4"/>
<rect x="1707.25" y="1068.02" width="7.38" height="26.76" fill="#D96752"/>
<rect x="1714.33" y="1068.02" width="28.62" height="26.76" fill="#F3F5F6"/>
<rect x="1742.65" y="1068.02" width="7.38" height="26.76" fill="#E5EEF4"/>
<rect x="1749.73" y="1068.02" width="7.38" height="26.76" fill="#FCDFCE"/>
<rect x="1756.80" y="1068.02" width="7.38" height="26.76" fill="#F9ECE4"/>
<rect x="1763.88" y="1068.02" width="7.38" height="26.76" fill="#C8433F"/>
<rect x="1770.96" y="1068.02" width="7.38" height="26.76" fill="#D96752"/>
<rect x="1778.04" y="1068.02" width="7.38" height="26.76" fill="#FCDFCE"/>
<rect x="1785.12" y="1068.02" width="7.38" height="26.76" fill="#F3F5F6"/>
<rect x="1792.20" y="1068.02" width="7.08" height="26.76" fill="#F2A27F"/>
<rect x="1084.30" y="1094.48" width="14.46" height="26.76" fill="#E5EEF4"/>
<rect x="1098.46" y="1094.48" width="7.38" height="26.76" fill="#F3F5F6"/>
<rect x="1105.54" y="1094.48" width="7.38" height="26.76" fill="#B8D8E9"/>
<rect x="1112.62" y="1094.48" width="21.54" height="26.76" fill="#D4E6F1"/>
<rect x="1133.85" y="1094.48" width="7.38" height="26.76" fill="#98C8E0"/>
<rect x="1140.93" y="1094.48" width="7.38" height="26.76" fill="#F3F5F6"/>
<rect x="1148.01" y="1094.48" width="7.38" height="26.76" fill="#E5EEF4"/>
<rect x="1155.09" y="1094.48" width="7.38" height="26.76" fill="#F3F5F6"/>
<rect x="1162.17" y="1094.48" width="7.38" height="26.76" fill="#B8D8E9"/>
<rect x="1169.25" y="1094.48" width="7.38" height="26.76" fill="#E5EEF4"/>
<rect x="1176.33" y="1094.48" width="14.46" height="26.76" fill="#D4E6F1"/>
<rect x="1190.48" y="1094.48" width="28.62" height="26.76" fill="#B8D8E9"/>
<rect x="1218.80" y="1094.48" width="7.38" height="26.76" fill="#98C8E0"/>
<rect x="1225.88" y="1094.48" width="7.38" height="26.76" fill="#B8D8E9"/>
<rect x="1232.96" y="1094.48" width="7.38" height="26.76" fill="#E5EEF4"/>
<rect x="1240.04" y="1094.48" width="7.38" height="26.76" fill="#4796C4"/>
<rect x="1247.12" y="1094.48" width="7.38" height="26.76" fill="#347FB9"/>
<rect x="1254.20" y="1094.48" width="7.38" height="26.76" fill="#76B4D5"/>
<rect x="1261.27" y="1094.48" width="7.38" height="26.76" fill="#F3F5F6"/>
<rect x="1268.35" y="1094.48" width="7.38" height="26.76" fill="#E5EEF4"/>
<rect x="1275.43" y="1094.48" width="7.38" height="26.76" fill="#F3F5F6"/>
<rect x="1282.51" y="1094.48" width="7.38" height="26.76" fill="#F9ECE4"/>
<rect x="1289.59" y="1094.48" width="7.38" height="26.76" fill="#D4E6F1"/>
<rect x="1296.67" y="1094.48" width="7.38" height="26.76" fill="#F3F5F6"/>
<rect x="1303.75" y="1094.48" width="7.38" height="26.76" fill="#B8D8E9"/>
<rect x="1310.83" y="1094.48" width="7.38" height="26.76" fill="#D4E6F1"/>
<rect x="1317.91" y="1094.48" width="7.38" height="26.76" fill="#E5EEF4"/>
<rect x="1324.99" y="1094.48" width="7.38" height="26.76" fill="#76B4D5"/>
<rect x="1332.07" y="1094.48" width="7.38" height="26.76" fill="#F3F5F6"/>
<rect x="1339.14" y="1094.48" width="7.38" height="26.76" fill="#98C8E0"/>
<rect x="1346.22" y="1094.48" width="7.38" height="26.76" fill="#E5EEF4"/>
<rect x="1353.30" y="1094.48" width="7.38" height="26.76" fill="#98C8E0"/>
<rect x="1360.38" y="1094.48" width="7.38" height="26.76" fill="#76B4D5"/>
<rect x="1367.46" y="1094.48" width="21.54" height="26.76" fill="#E5EEF4"/>
<rect x="1388.70" y="1094.48" width="7.38" height="26.76" fill="#F3F5F6"/>
<rect x="1395.78" y="1094.48" width="7.38" height="26.76" fill="#FCDFCE"/>
<rect x="1402.86" y="1094.48" width="7.38" height="26.76" fill="#E5EEF4"/>
<rect x="1409.93" y="1094.48" width="7.38" height="26.76" fill="#F3F5F6"/>
<rect x="1417.01" y="1094.48" width="7.38" height="26.76" fill="#FCDFCE"/>
<rect x="1424.09" y="1094.48" width="7.38" height="26.76" fill="#F3F5F6"/>
<rect x="1431.17" y="1094.48" width="7.38" height="26.76" fill="#F9ECE4"/>
<rect x="1438.25" y="1094.48" width="7.38" height="26.76" fill="#F2A27F"/>
<rect x="1445.33" y="1094.48" width="7.38" height="26.76" fill="#F3F5F6"/>
<rect x="1452.41" y="1094.48" width="7.38" height="26.76" fill="#FCDFCE"/>
<rect x="1459.49" y="1094.48" width="7.38" height="26.76" fill="#F9ECE4"/>
<rect x="1466.57" y="1094.48" width="7.38" height="26.76" fill="#F2A27F"/>
<rect x="1473.64" y="1094.48" width="7.38" height="26.76" fill="#F9ECE4"/>
<rect x="1480.72" y="1094.48" width="7.38" height="26.76" fill="#F3F5F6"/>
<rect x="1487.80" y="1094.48" width="7.38" height="26.76" fill="#F9ECE4"/>
<rect x="1494.88" y="1094.48" width="7.38" height="26.76" fill="#E5EEF4"/>
<rect x="1501.96" y="1094.48" width="7.38" height="26.76" fill="#F3F5F6"/>
<rect x="1509.04" y="1094.48" width="7.38" height="26.76" fill="#F9ECE4"/>
<rect x="1516.12" y="1094.48" width="7.38" height="26.76" fill="#E5EEF4"/>
<rect x="1523.20" y="1094.48" width="7.38" height="26.76" fill="#F3F5F6"/>
<rect x="1530.28" y="1094.48" width="7.38" height="26.76" fill="#F9ECE4"/>
<rect x="1537.36" y="1094.48" width="7.38" height="26.76" fill="#E5EEF4"/>
<rect x="1544.43" y="1094.48" width="7.38" height="26.76" fill="#FCDFCE"/>
<rect x="1551.51" y="1094.48" width="7.38" height="26.76" fill="#E5EEF4"/>
<rect x="1558.59" y="1094.48" width="7.38" height="26.76" fill="#FCDFCE"/>
<rect x="1565.67" y="1094.48" width="7.38" height="26.76" fill="#F9C3A8"/>
<rect x="1572.75" y="1094.48" width="28.62" height="26.76" fill="#FCDFCE"/>
<rect x="1601.07" y="1094.48" width="7.38" height="26.76" fill="#F9ECE4"/>
<rect x="1608.15" y="1094.48" width="14.46" height="26.76" fill="#FCDFCE"/>
<rect x="1622.30" y="1094.48" width="7.38" height="26.76" fill="#F3F5F6"/>
<rect x="1629.38" y="1094.48" width="7.38" height="26.76" fill="#F9ECE4"/>
<rect x="1636.46" y="1094.48" width="7.38" height="26.76" fill="#FCDFCE"/>
<rect x="1643.54" y="1094.48" width="7.38" height="26.76" fill="#F9ECE4"/>
<rect x="1650.62" y="1094.48" width="7.38" height="26.76" fill="#FCDFCE"/>
<rect x="1657.70" y="1094.48" width="7.38" height="26.76" fill="#F9C3A8"/>
<rect x="1664.78" y="1094.48" width="7.38" height="26.76" fill="#FCDFCE"/>
<rect x="1671.86" y="1094.48" width="7.38" height="26.76" fill="#F3F5F6"/>
<rect x="1678.94" y="1094.48" width="7.38" height="26.76" fill="#F9C3A8"/>
<rect x="1686.01" y="1094.48" width="14.46" height="26.76" fill="#F9ECE4"/>
<rect x="1700.17" y="1094.48" width="7.38" height="26.76" fill="#FCDFCE"/>
<rect x="1707.25" y="1094.48" width="7.38" height="26.76" fill="#F9C3A8"/>
<rect x="1714.33" y="1094.48" width="7.38" height="26.76" fill="#FCDFCE"/>
<rect x="1721.41" y="1094.48" width="21.54" height="26.76" fill="#F2A27F"/>
<rect x="1742.65" y="1094.48" width="14.46" height="26.76" fill="#FCDFCE"/>
<rect x="1756.80" y="1094.48" width="7.38" height="26.76" fill="#F9C3A8"/>
<rect x="1763.88" y="1094.48" width="7.38" height="26.76" fill="#F2A27F"/>
<rect x="1770.96" y="1094.48" width="7.38" height="26.76" fill="#FCDFCE"/>
<rect x="1778.04" y="1094.48" width="7.38" height="26.76" fill="#F9C3A8"/>
<rect x="1785.12" y="1094.48" width="7.38" height="26.76" fill="#FCDFCE"/>
<rect x="1792.20" y="1094.48" width="7.08" height="26.76" fill="#F2A27F"/>
<rect x="1084.30" y="1120.94" width="7.38" height="26.76" fill="#B8D8E9"/>
<rect x="1091.38" y="1120.94" width="7.38" height="26.76" fill="#D4E6F1"/>
<rect x="1098.46" y="1120.94" width="7.38" height="26.76" fill="#E5EEF4"/>
<rect x="1105.54" y="1120.94" width="35.69" height="26.76" fill="#B8D8E9"/>
<rect x="1140.93" y="1120.94" width="7.38" height="26.76" fill="#D4E6F1"/>
<rect x="1148.01" y="1120.94" width="7.38" height="26.76" fill="#B8D8E9"/>
<rect x="1155.09" y="1120.94" width="7.38" height="26.76" fill="#E5EEF4"/>
<rect x="1162.17" y="1120.94" width="7.38" height="26.76" fill="#B8D8E9"/>
<rect x="1169.25" y="1120.94" width="14.46" height="26.76" fill="#E5EEF4"/>
<rect x="1183.41" y="1120.94" width="7.38" height="26.76" fill="#F3F5F6"/>
<rect x="1190.48" y="1120.94" width="7.38" height="26.76" fill="#B8D8E9"/>
<rect x="1197.56" y="1120.94" width="7.38" height="26.76" fill="#E5EEF4"/>
<rect x="1204.64" y="1120.94" width="7.38" height="26.76" fill="#F9ECE4"/>
<rect x="1211.72" y="1120.94" width="7.38" height="26.76" fill="#B8D8E9"/>
<rect x="1218.80" y="1120.94" width="7.38" height="26.76" fill="#D4E6F1"/>
<rect x="1225.88" y="1120.94" width="14.46" height="26.76" fill="#B8D8E9"/>
<rect x="1240.04" y="1120.94" width="14.46" height="26.76" fill="#D4E6F1"/>
<rect x="1254.20" y="1120.94" width="14.46" height="26.76" fill="#B8D8E9"/>
<rect x="1268.35" y="1120.94" width="7.38" height="26.76" fill="#E5EEF4"/>
<rect x="1275.43" y="1120.94" width="7.38" height="26.76" fill="#D4E6F1"/>
<rect x="1282.51" y="1120.94" width="21.54" height="26.76" fill="#B8D8E9"/>
<rect x="1303.75" y="1120.94" width="7.38" height="26.76" fill="#E5EEF4"/>
<rect x="1310.83" y="1120.94" width="14.46" height="26.76" fill="#FCDFCE"/>
<rect x="1324.99" y="1120.94" width="14.46" height="26.76" fill="#B8D8E9"/>
<rect x="1339.14" y="1120.94" width="7.38" height="26.76" fill="#F3F5F6"/>
<rect x="1346.22" y="1120.94" width="7.38" height="26.76" fill="#F9ECE4"/>
<rect x="1353.30" y="1120.94" width="7.38" height="26.76" fill="#FCDFCE"/>
<rect x="1360.38" y="1120.94" width="21.54" height="26.76" fill="#F3F5F6"/>
<rect x="1381.62" y="1120.94" width="7.38" height="26.76" fill="#FCDFCE"/>
<rect x="1388.70" y="1120.94" width="14.46" height="26.76" fill="#F3F5F6"/>
<rect x="1402.86" y="1120.94" width="14.46" height="26.76" fill="#F9C3A8"/>
<rect x="1417.01" y="1120.94" width="14.46" height="26.76" fill="#F9ECE4"/>
<rect x="1431.17" y="1120.94" width="7.38" height="26.76" fill="#F9C3A8"/>
<rect x="1438.25" y="1120.94" width="7.38" height="26.76" fill="#F2A27F"/>
<rect x="1445.33" y="1120.94" width="7.38" height="26.76" fill="#FCDFCE"/>
<rect x="1452.41" y="1120.94" width="7.38" height="26.76" fill="#F3F5F6"/>
<rect x="1459.49" y="1120.94" width="7.38" height="26.76" fill="#E5EEF4"/>
<rect x="1466.57" y="1120.94" width="7.38" height="26.76" fill="#F9C3A8"/>
<rect x="1473.64" y="1120.94" width="7.38" height="26.76" fill="#E5EEF4"/>
<rect x="1480.72" y="1120.94" width="7.38" height="26.76" fill="#F3F5F6"/>
<rect x="1487.80" y="1120.94" width="7.38" height="26.76" fill="#FCDFCE"/>
<rect x="1494.88" y="1120.94" width="7.38" height="26.76" fill="#E5EEF4"/>
<rect x="1501.96" y="1120.94" width="7.38" height="26.76" fill="#F9ECE4"/>
<rect x="1509.04" y="1120.94" width="7.38" height="26.76" fill="#B8D8E9"/>
<rect x="1516.12" y="1120.94" width="7.38" height="26.76" fill="#E5EEF4"/>
<rect x="1523.20" y="1120.94" width="14.46" height="26.76" fill="#D4E6F1"/>
<rect x="1537.36" y="1120.94" width="7.38" height="26.76" fill="#F9ECE4"/>
<rect x="1544.43" y="1120.94" width="7.38" height="26.76" fill="#F3F5F6"/>
<rect x="1551.51" y="1120.94" width="7.38" height="26.76" fill="#E5EEF4"/>
<rect x="1558.59" y="1120.94" width="7.38" height="26.76" fill="#B8D8E9"/>
<rect x="1565.67" y="1120.94" width="7.38" height="26.76" fill="#FCDFCE"/>
<rect x="1572.75" y="1120.94" width="7.38" height="26.76" fill="#F9ECE4"/>
<rect x="1579.83" y="1120.94" width="14.46" height="26.76" fill="#F3F5F6"/>
<rect x="1593.99" y="1120.94" width="7.38" height="26.76" fill="#E5EEF4"/>
<rect x="1601.07" y="1120.94" width="7.38" height="26.76" fill="#D4E6F1"/>
<rect x="1608.15" y="1120.94" width="7.38" height="26.76" fill="#F3F5F6"/>
<rect x="1615.22" y="1120.94" width="7.38" height="26.76" fill="#F9ECE4"/>
<rect x="1622.30" y="1120.94" width="7.38" height="26.76" fill="#E5EEF4"/>
<rect x="1629.38" y="1120.94" width="7.38" height="26.76" fill="#F3F5F6"/>
<rect x="1636.46" y="1120.94" width="7.38" height="26.76" fill="#F9ECE4"/>
<rect x="1643.54" y="1120.94" width="21.54" height="26.76" fill="#E5EEF4"/>
<rect x="1664.78" y="1120.94" width="7.38" height="26.76" fill="#B8D8E9"/>
<rect x="1671.86" y="1120.94" width="7.38" height="26.76" fill="#F3F5F6"/>
<rect x="1678.94" y="1120.94" width="7.38" height="26.76" fill="#FCDFCE"/>
<rect x="1686.01" y="1120.94" width="7.38" height="26.76" fill="#B8D8E9"/>
<rect x="1693.09" y="1120.94" width="7.38" height="26.76" fill="#E5EEF4"/>
<rect x="1700.17" y="1120.94" width="7.38" height="26.76" fill="#FCDFCE"/>
<rect x="1707.25" y="1120.94" width="7.38" height="26.76" fill="#F2A27F"/>
<rect x="1714.33" y="1120.94" width="7.38" height="26.76" fill="#F9C3A8"/>
<rect x="1721.41" y="1120.94" width="7.38" height="26.76" fill="#E58268"/>
<rect x="1728.49" y="1120.94" width="7.38" height="26.76" fill="#F2A27F"/>
<rect x="1735.57" y="1120.94" width="7.38" height="26.76" fill="#F9C3A8"/>
<rect x="1742.65" y="1120.94" width="7.38" height="26.76" fill="#FCDFCE"/>
<rect x="1749.73" y="1120.94" width="14.46" height="26.76" fill="#F9C3A8"/>
<rect x="1763.88" y="1120.94" width="7.38" height="26.76" fill="#C8433F"/>
<rect x="1770.96" y="1120.94" width="7.38" height="26.76" fill="#D96752"/>
<rect x="1778.04" y="1120.94" width="7.38" height="26.76" fill="#F9ECE4"/>
<rect x="1785.12" y="1120.94" width="7.38" height="26.76" fill="#FCDFCE"/>
<rect x="1792.20" y="1120.94" width="7.08" height="26.76" fill="#E58268"/>
<rect x="1084.30" y="1147.40" width="7.38" height="26.76" fill="#B8D8E9"/>
<rect x="1091.38" y="1147.40" width="14.46" height="26.76" fill="#E5EEF4"/>
<rect x="1105.54" y="1147.40" width="42.77" height="26.76" fill="#B8D8E9"/>
<rect x="1148.01" y="1147.40" width="7.38" height="26.76" fill="#D4E6F1"/>
<rect x="1155.09" y="1147.40" width="7.38" height="26.76" fill="#F9ECE4"/>
<rect x="1162.17" y="1147.40" width="14.46" height="26.76" fill="#E5EEF4"/>
<rect x="1176.33" y="1147.40" width="7.38" height="26.76" fill="#B8D8E9"/>
<rect x="1183.41" y="1147.40" width="7.38" height="26.76" fill="#D4E6F1"/>
<rect x="1190.48" y="1147.40" width="7.38" height="26.76" fill="#B8D8E9"/>
<rect x="1197.56" y="1147.40" width="7.38" height="26.76" fill="#76B4D5"/>
<rect x="1204.64" y="1147.40" width="7.38" height="26.76" fill="#E5EEF4"/>
<rect x="1211.72" y="1147.40" width="7.38" height="26.76" fill="#B8D8E9"/>
<rect x="1218.80" y="1147.40" width="7.38" height="26.76" fill="#D4E6F1"/>
<rect x="1225.88" y="1147.40" width="7.38" height="26.76" fill="#B8D8E9"/>
<rect x="1232.96" y="1147.40" width="7.38" height="26.76" fill="#D4E6F1"/>
<rect x="1240.04" y="1147.40" width="7.38" height="26.76" fill="#B8D8E9"/>
<rect x="1247.12" y="1147.40" width="7.38" height="26.76" fill="#98C8E0"/>
<rect x="1254.20" y="1147.40" width="7.38" height="26.76" fill="#76B4D5"/>
<rect x="1261.27" y="1147.40" width="14.46" height="26.76" fill="#98C8E0"/>
<rect x="1275.43" y="1147.40" width="7.38" height="26.76" fill="#E5EEF4"/>
<rect x="1282.51" y="1147.40" width="7.38" height="26.76" fill="#98C8E0"/>
<rect x="1289.59" y="1147.40" width="14.46" height="26.76" fill="#B8D8E9"/>
<rect x="1303.75" y="1147.40" width="7.38" height="26.76" fill="#D4E6F1"/>
<rect x="1310.83" y="1147.40" width="7.38" height="26.76" fill="#B8D8E9"/>
<rect x="1317.91" y="1147.40" width="7.38" height="26.76" fill="#F3F5F6"/>
<rect x="1324.99" y="1147.40" width="7.38" height="26.76" fill="#F9ECE4"/>
<rect x="1332.07" y="1147.40" width="7.38" height="26.76" fill="#E5EEF4"/>
<rect x="1339.14" y="1147.40" width="7.38" height="26.76" fill="#F3F5F6"/>
<rect x="1346.22" y="1147.40" width="7.38" height="26.76" fill="#F9ECE4"/>
<rect x="1353.30" y="1147.40" width="14.46" height="26.76" fill="#F3F5F6"/>
<rect x="1367.46" y="1147.40" width="14.46" height="26.76" fill="#FCDFCE"/>
<rect x="1381.62" y="1147.40" width="7.38" height="26.76" fill="#F9ECE4"/>
<rect x="1388.70" y="1147.40" width="7.38" height="26.76" fill="#F3F5F6"/>
<rect x="1395.78" y="1147.40" width="7.38" height="26.76" fill="#F9C3A8"/>
<rect x="1402.86" y="1147.40" width="7.38" height="26.76" fill="#F9ECE4"/>
<rect x="1409.93" y="1147.40" width="21.54" height="26.76" fill="#FCDFCE"/>
<rect x="1431.17" y="1147.40" width="7.38" height="26.76" fill="#F9C3A8"/>
<rect x="1438.25" y="1147.40" width="7.38" height="26.76" fill="#F2A27F"/>
<rect x="1445.33" y="1147.40" width="7.38" height="26.76" fill="#FCDFCE"/>
<rect x="1452.41" y="1147.40" width="7.38" height="26.76" fill="#F9C3A8"/>
<rect x="1459.49" y="1147.40" width="7.38" height="26.76" fill="#E5EEF4"/>
<rect x="1466.57" y="1147.40" width="7.38" height="26.76" fill="#FCDFCE"/>
<rect x="1473.64" y="1147.40" width="14.46" height="26.76" fill="#D4E6F1"/>
<rect x="1487.80" y="1147.40" width="7.38" height="26.76" fill="#F9C3A8"/>
<rect x="1494.88" y="1147.40" width="7.38" height="26.76" fill="#F9ECE4"/>
<rect x="1501.96" y="1147.40" width="7.38" height="26.76" fill="#F3F5F6"/>
<rect x="1509.04" y="1147.40" width="7.38" height="26.76" fill="#F9ECE4"/>
<rect x="1516.12" y="1147.40" width="7.38" height="26.76" fill="#E5EEF4"/>
<rect x="1523.20" y="1147.40" width="14.46" height="26.76" fill="#F9ECE4"/>
<rect x="1537.36" y="1147.40" width="7.38" height="26.76" fill="#F3F5F6"/>
<rect x="1544.43" y="1147.40" width="7.38" height="26.76" fill="#E5EEF4"/>
<rect x="1551.51" y="1147.40" width="7.38" height="26.76" fill="#F9ECE4"/>
<rect x="1558.59" y="1147.40" width="7.38" height="26.76" fill="#F3F5F6"/>
<rect x="1565.67" y="1147.40" width="21.54" height="26.76" fill="#F9ECE4"/>
<rect x="1586.91" y="1147.40" width="7.38" height="26.76" fill="#FCDFCE"/>
<rect x="1593.99" y="1147.40" width="7.38" height="26.76" fill="#F9ECE4"/>
<rect x="1601.07" y="1147.40" width="7.38" height="26.76" fill="#F3F5F6"/>
<rect x="1608.15" y="1147.40" width="7.38" height="26.76" fill="#F9ECE4"/>
<rect x="1615.22" y="1147.40" width="7.38" height="26.76" fill="#F3F5F6"/>
<rect x="1622.30" y="1147.40" width="7.38" height="26.76" fill="#B8D8E9"/>
<rect x="1629.38" y="1147.40" width="7.38" height="26.76" fill="#F3F5F6"/>
<rect x="1636.46" y="1147.40" width="7.38" height="26.76" fill="#D4E6F1"/>
<rect x="1643.54" y="1147.40" width="7.38" height="26.76" fill="#F9ECE4"/>
<rect x="1650.62" y="1147.40" width="7.38" height="26.76" fill="#E5EEF4"/>
<rect x="1657.70" y="1147.40" width="14.46" height="26.76" fill="#F3F5F6"/>
<rect x="1671.86" y="1147.40" width="14.46" height="26.76" fill="#FCDFCE"/>
<rect x="1686.01" y="1147.40" width="7.38" height="26.76" fill="#D4E6F1"/>
<rect x="1693.09" y="1147.40" width="7.38" height="26.76" fill="#F3F5F6"/>
<rect x="1700.17" y="1147.40" width="7.38" height="26.76" fill="#D4E6F1"/>
<rect x="1707.25" y="1147.40" width="7.38" height="26.76" fill="#F9C3A8"/>
<rect x="1714.33" y="1147.40" width="7.38" height="26.76" fill="#E58268"/>
<rect x="1721.41" y="1147.40" width="7.38" height="26.76" fill="#F2A27F"/>
<rect x="1728.49" y="1147.40" width="7.38" height="26.76" fill="#F9C3A8"/>
<rect x="1735.57" y="1147.40" width="7.38" height="26.76" fill="#FCDFCE"/>
<rect x="1742.65" y="1147.40" width="7.38" height="26.76" fill="#F2A27F"/>
<rect x="1749.73" y="1147.40" width="14.46" height="26.76" fill="#FCDFCE"/>
<rect x="1763.88" y="1147.40" width="7.38" height="26.76" fill="#F2A27F"/>
<rect x="1770.96" y="1147.40" width="7.38" height="26.76" fill="#FCDFCE"/>
<rect x="1778.04" y="1147.40" width="14.46" height="26.76" fill="#F2A27F"/>
<rect x="1792.20" y="1147.40" width="7.08" height="26.76" fill="#F9C3A8"/>
<rect x="1084.30" y="1173.86" width="14.46" height="26.76" fill="#B8D8E9"/>
<rect x="1098.46" y="1173.86" width="7.38" height="26.76" fill="#D4E6F1"/>
<rect x="1105.54" y="1173.86" width="7.38" height="26.76" fill="#E5EEF4"/>
<rect x="1112.62" y="1173.86" width="7.38" height="26.76" fill="#D4E6F1"/>
<rect x="1119.69" y="1173.86" width="7.38" height="26.76" fill="#4796C4"/>
<rect x="1126.77" y="1173.86" width="7.38" height="26.76" fill="#F9ECE4"/>
<rect x="1133.85" y="1173.86" width="7.38" height="26.76" fill="#F3F5F6"/>
<rect x="1140.93" y="1173.86" width="7.38" height="26.76" fill="#F9ECE4"/>
<rect x="1148.01" y="1173.86" width="7.38" height="26.76" fill="#F3F5F6"/>
<rect x="1155.09" y="1173.86" width="14.46" height="26.76" fill="#F9ECE4"/>
<rect x="1169.25" y="1173.86" width="7.38" height="26.76" fill="#FCDFCE"/>
<rect x="1176.33" y="1173.86" width="14.46" height="26.76" fill="#D4E6F1"/>
<rect x="1190.48" y="1173.86" width="28.62" height="26.76" fill="#B8D8E9"/>
<rect x="1218.80" y="1173.86" width="14.46" height="26.76" fill="#D4E6F1"/>
<rect x="1232.96" y="1173.86" width="7.38" height="26.76" fill="#E5EEF4"/>
<rect x="1240.04" y="1173.86" width="7.38" height="26.76" fill="#B8D8E9"/>
<rect x="1247.12" y="1173.86" width="7.38" height="26.76" fill="#D4E6F1"/>
<rect x="1254.20" y="1173.86" width="7.38" height="26.76" fill="#76B4D5"/>
<rect x="1261.27" y="1173.86" width="7.38" height="26.76" fill="#D4E6F1"/>
<rect x="1268.35" y="1173.86" width="21.54" height="26.76" fill="#F3F5F6"/>
<rect x="1289.59" y="1173.86" width="7.38" height="26.76" fill="#E5EEF4"/>
<rect x="1296.67" y="1173.86" width="7.38" height="26.76" fill="#D4E6F1"/>
<rect x="1303.75" y="1173.86" width="14.46" height="26.76" fill="#F3F5F6"/>
<rect x="1317.91" y="1173.86" width="7.38" height="26.76" fill="#E5EEF4"/>
<rect x="1324.99" y="1173.86" width="7.38" height="26.76" fill="#4796C4"/>
<rect x="1332.07" y="1173.86" width="7.38" height="26.76" fill="#B8D8E9"/>
<rect x="1339.14" y="1173.86" width="7.38" height="26.76" fill="#98C8E0"/>
<rect x="1346.22" y="1173.86" width="14.46" height="26.76" fill="#D4E6F1"/>
<rect x="1360.38" y="1173.86" width="7.38" height="26.76" fill="#E5EEF4"/>
<rect x="1367.46" y="1173.86" width="14.46" height="26.76" fill="#F3F5F6"/>
<rect x="1381.62" y="1173.86" width="7.38" height="26.76" fill="#E5EEF4"/>
<rect x="1388.70" y="1173.86" width="7.38" height="26.76" fill="#F9ECE4"/>
<rect x="1395.78" y="1173.86" width="7.38" height="26.76" fill="#D4E6F1"/>
<rect x="1402.86" y="1173.86" width="14.46" height="26.76" fill="#F9ECE4"/>
<rect x="1417.01" y="1173.86" width="7.38" height="26.76" fill="#F9C3A8"/>
<rect x="1424.09" y="1173.86" width="7.38" height="26.76" fill="#E5EEF4"/>
<rect x="1431.17" y="1173.86" width="7.38" height="26.76" fill="#F3F5F6"/>
<rect x="1438.25" y="1173.86" width="7.38" height="26.76" fill="#F9C3A8"/>
<rect x="1445.33" y="1173.86" width="7.38" height="26.76" fill="#E5EEF4"/>
<rect x="1452.41" y="1173.86" width="7.38" height="26.76" fill="#F3F5F6"/>
<rect x="1459.49" y="1173.86" width="7.38" height="26.76" fill="#E5EEF4"/>
<rect x="1466.57" y="1173.86" width="7.38" height="26.76" fill="#F9ECE4"/>
<rect x="1473.64" y="1173.86" width="7.38" height="26.76" fill="#F3F5F6"/>
<rect x="1480.72" y="1173.86" width="14.46" height="26.76" fill="#F9ECE4"/>
<rect x="1494.88" y="1173.86" width="7.38" height="26.76" fill="#F3F5F6"/>
<rect x="1501.96" y="1173.86" width="7.38" height="26.76" fill="#F9ECE4"/>
<rect x="1509.04" y="1173.86" width="14.46" height="26.76" fill="#F3F5F6"/>
<rect x="1523.20" y="1173.86" width="7.38" height="26.76" fill="#E5EEF4"/>
<rect x="1530.28" y="1173.86" width="7.38" height="26.76" fill="#FCDFCE"/>
<rect x="1537.36" y="1173.86" width="7.38" height="26.76" fill="#B8D8E9"/>
<rect x="1544.43" y="1173.86" width="14.46" height="26.76" fill="#D4E6F1"/>
<rect x="1558.59" y="1173.86" width="7.38" height="26.76" fill="#98C8E0"/>
<rect x="1565.67" y="1173.86" width="7.38" height="26.76" fill="#FCDFCE"/>
<rect x="1572.75" y="1173.86" width="7.38" height="26.76" fill="#E5EEF4"/>
<rect x="1579.83" y="1173.86" width="21.54" height="26.76" fill="#FCDFCE"/>
<rect x="1601.07" y="1173.86" width="7.38" height="26.76" fill="#E5EEF4"/>
<rect x="1608.15" y="1173.86" width="21.54" height="26.76" fill="#F3F5F6"/>
<rect x="1629.38" y="1173.86" width="7.38" height="26.76" fill="#F9ECE4"/>
<rect x="1636.46" y="1173.86" width="7.38" height="26.76" fill="#F9C3A8"/>
<rect x="1643.54" y="1173.86" width="7.38" height="26.76" fill="#F3F5F6"/>
<rect x="1650.62" y="1173.86" width="7.38" height="26.76" fill="#E5EEF4"/>
<rect x="1657.70" y="1173.86" width="7.38" height="26.76" fill="#FCDFCE"/>
<rect x="1664.78" y="1173.86" width="7.38" height="26.76" fill="#98C8E0"/>
<rect x="1671.86" y="1173.86" width="7.38" height="26.76" fill="#F9ECE4"/>
<rect x="1678.94" y="1173.86" width="7.38" height="26.76" fill="#F9C3A8"/>
<rect x="1686.01" y="1173.86" width="7.38" height="26.76" fill="#F9ECE4"/>
<rect x="1693.09" y="1173.86" width="14.46" height="26.76" fill="#FCDFCE"/>
<rect x="1707.25" y="1173.86" width="7.38" height="26.76" fill="#E58268"/>
<rect x="1714.33" y="1173.86" width="7.38" height="26.76" fill="#F9C3A8"/>
<rect x="1721.41" y="1173.86" width="7.38" height="26.76" fill="#E58268"/>
<rect x="1728.49" y="1173.86" width="7.38" height="26.76" fill="#F9C3A8"/>
<rect x="1735.57" y="1173.86" width="14.46" height="26.76" fill="#FCDFCE"/>
<rect x="1749.73" y="1173.86" width="28.62" height="26.76" fill="#F2A27F"/>
<rect x="1778.04" y="1173.86" width="7.38" height="26.76" fill="#F9ECE4"/>
<rect x="1785.12" y="1173.86" width="14.16" height="26.76" fill="#F2A27F"/>
</g>
<text x="1810.4" y="503.6" font-size="17.8" font-style="italic">TXNRD1</text>
<text x="1810.4" y="530.1" font-size="17.8" font-style="italic">GCLM</text>
<text x="1810.4" y="556.5" font-size="17.8" font-style="italic">SLC7A11</text>
<text x="1810.4" y="583.0" font-size="17.8" font-style="italic">NR0B1</text>
<text x="1810.4" y="609.4" font-size="17.8" font-style="italic">UGDH</text>
<text x="1810.4" y="635.9" font-size="17.8" font-style="italic">KYNU</text>
<text x="1810.4" y="662.4" font-size="17.8" font-style="italic">CABYR</text>
<text x="1810.4" y="688.8" font-size="17.8" font-style="italic">FECH</text>
<text x="1810.4" y="715.3" font-size="17.8" font-style="italic">ME1</text>
<text x="1810.4" y="741.7" font-size="17.8" font-style="italic">RSPO3</text>
<text x="1810.4" y="768.2" font-size="17.8" font-style="italic">FTL</text>
<text x="1810.4" y="794.7" font-size="17.8" font-style="italic">TRIM16</text>
<text x="1810.4" y="821.1" font-size="17.8" font-style="italic">TRIM16L</text>
<text x="1810.4" y="847.6" font-size="17.8" font-style="italic">OSGIN1</text>
<text x="1810.4" y="874.0" font-size="17.8" font-style="italic">SRXN1</text>
<text x="1810.4" y="900.5" font-size="17.8" font-style="italic">NQO1</text>
<text x="1810.4" y="927.0" font-size="17.8" font-style="italic">TALDO1</text>
<text x="1810.4" y="953.4" font-size="17.8" font-style="italic">PGD</text>
<text x="1810.4" y="979.9" font-size="17.8" font-style="italic">TXN</text>
<text x="1810.4" y="1006.3" font-size="17.8" font-style="italic">AKR1B10</text>
<text x="1810.4" y="1032.8" font-size="17.8" font-style="italic">AKR1B15</text>
<text x="1810.4" y="1059.3" font-size="17.8" font-style="italic">AKR1C2</text>
<text x="1810.4" y="1085.7" font-size="17.8" font-style="italic">AKR1C4</text>
<text x="1810.4" y="1112.2" font-size="17.8" font-style="italic">AKR1C3</text>
<text x="1810.4" y="1138.6" font-size="17.8" font-style="italic">ABCC2</text>
<text x="1810.4" y="1165.1" font-size="17.8" font-style="italic">GSR</text>
<text x="1810.4" y="1191.6" font-size="17.8" font-style="italic">CYP4F11</text>
<text x="1084.0" y="1256.2" font-size="24">NRF2 pathway</text>
<text x="1084.0" y="1285.6" font-size="24">activation</text>
<rect x="1084.00" y="1298.00" width="22.20" height="21.30" fill="#E41A1C" />
<text x="1117.8" y="1316.6" font-size="24">NRF2+</text>
<rect x="1084.00" y="1329.80" width="22.20" height="21.30" fill="#377EB8" />
<text x="1117.8" y="1349.4" font-size="24">NRF2–</text>
<text x="1084.0" y="1394.6" font-size="24"><tspan font-style="italic">KEAP1</tspan>/<tspan font-style="italic">NFE2L2</tspan></text>
<text x="1084.0" y="1423.1" font-size="24">gene signature</text>
<defs><linearGradient id="gg"><stop offset="0" stop-color="#fff"/><stop offset="1" stop-color="#000"/></linearGradient>
<linearGradient id="rb"><stop offset="0.0" stop-color="#053061"/><stop offset="0.1" stop-color="#2166AC"/><stop offset="0.2" stop-color="#4393C3"/><stop offset="0.3" stop-color="#92C5DE"/><stop offset="0.4" stop-color="#D1E5F0"/><stop offset="0.5" stop-color="#F7F7F7"/><stop offset="0.6" stop-color="#FDDBC7"/><stop offset="0.7" stop-color="#F4A582"/><stop offset="0.8" stop-color="#D6604D"/><stop offset="0.9" stop-color="#B2182B"/><stop offset="1.0" stop-color="#67001F"/></linearGradient></defs>
<rect x="1084.00" y="1445.00" width="88.00" height="21.30" fill="url(#gg)" />
<text x="1081.8" y="1490.0" font-size="20" text-anchor="middle">–31</text>
<text x="1170.4" y="1490.0" font-size="20" text-anchor="middle">50</text>
<text x="1307.5" y="1256.2" font-size="24">Histology</text>
<rect x="1307.50" y="1267.10" width="21.40" height="21.30" fill="#FF0000" />
<text x="1335.5" y="1289.3" font-size="24">Adenocarcinoma</text>
<rect x="1307.50" y="1299.40" width="21.40" height="21.30" fill="#0000CD" />
<text x="1335.5" y="1321.6" font-size="24">Neuroendocrine</text>
<rect x="1307.50" y="1331.70" width="21.40" height="21.30" fill="#800080" />
<text x="1335.5" y="1353.9" font-size="24">Adenosquamous carcinoma</text>
<rect x="1307.50" y="1364.00" width="21.40" height="21.30" fill="#FF1493" />
<text x="1335.5" y="1386.2" font-size="24">Sarcomatoid carcinoma</text>
<rect x="1307.50" y="1396.30" width="21.40" height="21.30" fill="#CDCD00" />
<text x="1335.5" y="1418.5" font-size="24">Other</text>
<text x="1659.8" y="1256.2" font-size="24">Relative expression</text>
<text x="1659.8" y="1285.6" font-size="24">(<tspan font-style="italic">z</tspan>-score)</text>
<g shape-rendering="crispEdges">
<rect x="1659.80" y="1305.40" width="7.14" height="23.00" fill="#083568" />
<rect x="1666.54" y="1305.40" width="7.14" height="23.00" fill="#0D4078" />
<rect x="1673.29" y="1305.40" width="7.14" height="23.00" fill="#134B86" />
<rect x="1680.03" y="1305.40" width="7.14" height="23.00" fill="#195696" />
<rect x="1686.78" y="1305.40" width="7.14" height="23.00" fill="#1E61A4" />
<rect x="1693.52" y="1305.40" width="7.14" height="23.00" fill="#246AAE" />
<rect x="1700.26" y="1305.40" width="7.14" height="23.00" fill="#2B74B3" />
<rect x="1707.01" y="1305.40" width="7.14" height="23.00" fill="#327CB8" />
<rect x="1713.75" y="1305.40" width="7.14" height="23.00" fill="#3986BC" />
<rect x="1720.50" y="1305.40" width="7.14" height="23.00" fill="#408EC1" />
<rect x="1727.24" y="1305.40" width="7.14" height="23.00" fill="#4B98C6" />
<rect x="1733.98" y="1305.40" width="7.14" height="23.00" fill="#5BA2CB" />
<rect x="1740.73" y="1305.40" width="7.14" height="23.00" fill="#6AACD0" />
<rect x="1747.47" y="1305.40" width="7.14" height="23.00" fill="#7AB6D6" />
<rect x="1754.22" y="1305.40" width="7.14" height="23.00" fill="#8AC0DB" />
<rect x="1760.96" y="1305.40" width="7.14" height="23.00" fill="#98C8E0" />
<rect x="1767.70" y="1305.40" width="7.14" height="23.00" fill="#A5CFE3" />
<rect x="1774.45" y="1305.40" width="7.14" height="23.00" fill="#B2D5E7" />
<rect x="1781.19" y="1305.40" width="7.14" height="23.00" fill="#BEDBEB" />
<rect x="1787.94" y="1305.40" width="7.14" height="23.00" fill="#CBE2EE" />
<rect x="1794.68" y="1305.40" width="7.14" height="23.00" fill="#D5E7F1" />
<rect x="1801.42" y="1305.40" width="7.14" height="23.00" fill="#DCEAF2" />
<rect x="1808.17" y="1305.40" width="7.14" height="23.00" fill="#E4EEF4" />
<rect x="1814.91" y="1305.40" width="7.14" height="23.00" fill="#ECF2F5" />
<rect x="1821.66" y="1305.40" width="7.14" height="23.00" fill="#F3F5F6" />
<rect x="1828.40" y="1305.40" width="7.14" height="23.00" fill="#F8F4F2" />
<rect x="1835.14" y="1305.40" width="7.14" height="23.00" fill="#F9EFE9" />
<rect x="1841.89" y="1305.40" width="7.14" height="23.00" fill="#FAE9DF" />
<rect x="1848.63" y="1305.40" width="7.14" height="23.00" fill="#FBE3D5" />
<rect x="1855.38" y="1305.40" width="7.14" height="23.00" fill="#FCDECC" />
<rect x="1862.12" y="1305.40" width="7.14" height="23.00" fill="#FCD6C0" />
<rect x="1868.86" y="1305.40" width="7.14" height="23.00" fill="#FACBB2" />
<rect x="1875.61" y="1305.40" width="7.14" height="23.00" fill="#F8C0A4" />
<rect x="1882.35" y="1305.40" width="7.14" height="23.00" fill="#F7B597" />
<rect x="1889.10" y="1305.40" width="7.14" height="23.00" fill="#F5AA89" />
<rect x="1895.84" y="1305.40" width="7.14" height="23.00" fill="#F19E7D" />
<rect x="1902.58" y="1305.40" width="7.14" height="23.00" fill="#EB9072" />
<rect x="1909.33" y="1305.40" width="7.14" height="23.00" fill="#E58268" />
<rect x="1916.07" y="1305.40" width="7.14" height="23.00" fill="#DF755D" />
<rect x="1922.82" y="1305.40" width="7.14" height="23.00" fill="#D96752" />
<rect x="1929.56" y="1305.40" width="7.14" height="23.00" fill="#D2594A" />
<rect x="1936.30" y="1305.40" width="7.14" height="23.00" fill="#CB4A43" />
<rect x="1943.05" y="1305.40" width="7.14" height="23.00" fill="#C43C3C" />
<rect x="1949.79" y="1305.40" width="7.14" height="23.00" fill="#BD2E35" />
<rect x="1956.54" y="1305.40" width="7.14" height="23.00" fill="#B61F2E" />
<rect x="1963.28" y="1305.40" width="7.14" height="23.00" fill="#AB162A" />
<rect x="1970.02" y="1305.40" width="7.14" height="23.00" fill="#9B1127" />
<rect x="1976.77" y="1305.40" width="7.14" height="23.00" fill="#8C0C25" />
<rect x="1983.51" y="1305.40" width="7.14" height="23.00" fill="#7E0723" />
<rect x="1990.26" y="1305.40" width="7.14" height="23.00" fill="#6E0220" />
</g>
<text x="1686.9" y="1353.4" font-size="20" text-anchor="middle">–4</text>
<text x="1761.3" y="1353.4" font-size="20" text-anchor="middle">–2</text>
<text x="1828.6" y="1353.4" font-size="20" text-anchor="middle">0</text>
<text x="1902.6" y="1353.4" font-size="20" text-anchor="middle">2</text>
<text x="1977.0" y="1353.4" font-size="20" text-anchor="middle">4</text>
</svg>
</body></html>
